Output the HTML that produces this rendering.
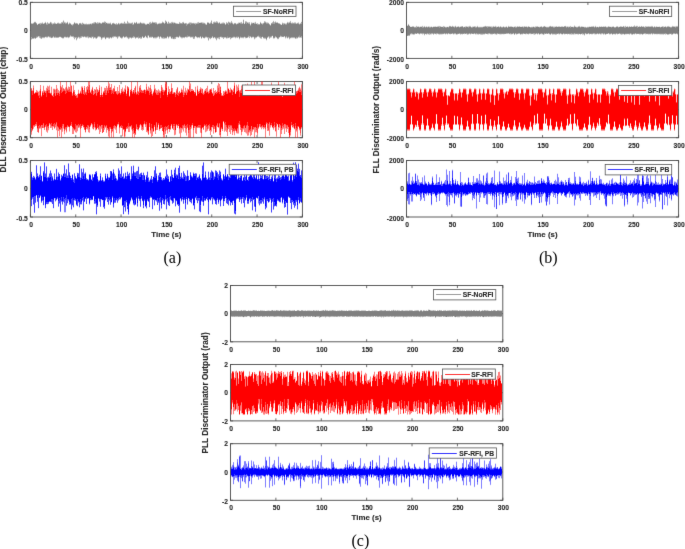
<!DOCTYPE html>
<html><head><meta charset="utf-8"><style>
html,body{margin:0;padding:0;background:#fff;}
body{width:685px;height:549px;overflow:hidden;}
svg{display:block;}
#w{width:685px;height:549px;will-change:transform;}
.t{font-family:"Liberation Sans", sans-serif;font-weight:bold;fill:#262626;stroke:#262626;stroke-width:0.1px;}
.cap{font-family:"Liberation Serif", serif;font-size:16px;fill:#000;}
</style></head><body>
<div id="w"><svg width="685" height="549" viewBox="0 0 685 549">
<defs><filter id="bl" x="0" y="0" width="685" height="549" filterUnits="userSpaceOnUse" color-interpolation-filters="sRGB"><feConvolveMatrix order="3" kernelMatrix="0.00524 0.06192 0.00524 0.06192 0.73137 0.06192 0.00524 0.06192 0.00524" divisor="1" edgeMode="duplicate"/></filter></defs>
<g filter="url(#bl)"><rect width="685" height="549" fill="#fff"/>
<rect x="30.4" y="2.35" width="272" height="56.05" fill="none" stroke="#4a4a4a" stroke-width="0.9"/>
<path d="M30.4 58.4v-2.6M30.4 2.35v2.6M75.73 58.4v-2.6M75.73 2.35v2.6M121.07 58.4v-2.6M121.07 2.35v2.6M166.4 58.4v-2.6M166.4 2.35v2.6M211.73 58.4v-2.6M211.73 2.35v2.6M257.07 58.4v-2.6M257.07 2.35v2.6M302.4 58.4v-2.6M302.4 2.35v2.6M30.4 2.35h2.6M302.4 2.35h-2.6M30.4 30.38h2.6M302.4 30.38h-2.6M30.4 58.4h2.6M302.4 58.4h-2.6" stroke="#4a4a4a" stroke-width="0.8" fill="none"/>
<path d="M31.5 39.35V39.85M36.5 22.85V23.35M37.5 24.35V24.85M42.5 37.85V38.35M43.5 23.35V23.85M43.5 37.85V38.35M44.5 37.85V38.35M45.5 36.85V37.35M46.5 37.35V37.85M47.5 37.35V37.85M49.5 22.85V23.35M51.5 37.85V38.35M55.5 22.85V23.35M58.5 22.35V22.85M59.5 36.85V37.35M60.5 36.85V37.35M66.5 37.35V37.85M68.5 37.85V38.35M69.5 22.35V22.85M73.5 37.35V37.85M75.5 22.85V23.35M76.5 22.85V23.35M77.5 38.35V38.85M79.5 38.35V38.85M80.5 37.85V38.35M81.5 23.35V23.85M82.5 22.35V22.85M86.5 23.35V23.85M86.5 37.35V37.85M90.5 23.35V23.85M91.5 23.35V23.85M92.5 36.85V37.35M93.5 22.35V22.85M98.5 22.35V22.85M99.5 36.85V37.35M106.5 37.85V38.35M109.5 22.85V23.35M110.5 22.35V22.85M110.5 37.35V37.85M113.5 37.35V37.85M115.5 36.85V37.35M119.5 23.35V23.85M119.5 36.35V36.85M121.5 38.35V38.85M122.5 22.85V23.35M123.5 22.85V23.35M124.5 21.35V21.85M127.5 37.85V38.35M128.5 38.85V39.35M131.5 38.35V38.85M139.5 37.85V38.35M140.5 21.85V22.35M144.5 22.85V23.35M146.5 23.85V24.35M146.5 37.35V37.85M147.5 23.35V23.85M149.5 37.35V37.85M150.5 37.35V37.85M152.5 21.35V21.85M152.5 36.85V37.35M157.5 37.35V37.85M160.5 22.85V23.35M161.5 22.85V23.35M162.5 21.35V21.85M162.5 38.35V38.85M164.5 22.85V23.35M168.5 21.35V21.85M169.5 36.85V37.35M170.5 36.85V37.35M171.5 21.85V22.35M173.5 38.85V39.35M174.5 38.85V39.35M179.5 21.85V22.35M179.5 36.35V36.85M184.5 37.85V38.35M185.5 22.85V23.35M185.5 36.85V37.35M186.5 22.85V23.35M186.5 37.35V37.85M188.5 22.85V23.35M190.5 37.35V37.85M191.5 22.35V22.85M192.5 22.85V23.35M194.5 22.85V23.35M195.5 22.85V23.35M196.5 22.85V23.35M197.5 37.85V38.35M198.5 21.85V22.35M199.5 37.85V38.35M200.5 22.35V22.85M201.5 38.35V38.85M203.5 22.35V22.85M203.5 37.85V38.35M205.5 23.35V23.85M205.5 37.35V37.85M207.5 37.85V38.35M208.5 40.35V40.85M210.5 38.85V39.35M211.5 37.85V38.35M212.5 23.35V23.85M214.5 21.35V21.85M217.5 21.35V21.85M218.5 38.35V38.85M219.5 21.85V22.35M220.5 23.35V23.85M220.5 36.85V37.35M221.5 37.35V37.85M222.5 22.35V22.85M225.5 37.35V37.85M226.5 38.35V38.85M228.5 21.35V21.85M228.5 37.85V38.35M229.5 21.85V22.35M231.5 20.85V21.35M232.5 22.35V22.85M233.5 37.35V37.85M234.5 22.85V23.35M235.5 22.85V23.35M236.5 37.35V37.85M237.5 37.85V38.35M238.5 22.35V22.85M239.5 22.35V22.85M241.5 37.85V38.35M242.5 37.85V38.35M243.5 19.35V19.85M246.5 37.85V38.35M248.5 36.85V37.35M249.5 37.85V38.35M250.5 24.35V24.85M251.5 37.85V38.35M254.5 22.35V22.85M256.5 23.35V23.85M256.5 37.35V37.85M259.5 37.35V37.85M265.5 21.35V21.85M268.5 36.85V37.35M269.5 23.85V24.35M270.5 24.85V25.35M271.5 22.85V23.35M273.5 38.35V38.85M276.5 37.35V37.85M277.5 38.85V39.35M278.5 38.85V39.35M280.5 23.85V24.35M281.5 36.85V37.35M282.5 22.35V22.85M283.5 36.85V37.35M284.5 22.85V23.35M285.5 23.35V23.85M288.5 37.35V37.85M291.5 37.85V38.35M292.5 37.85V38.35M293.5 37.85V38.35M294.5 37.85V38.35M296.5 38.35V38.85M300.5 22.85V23.35M300.5 37.35V37.85" stroke="#808080" stroke-opacity="0.25" fill="none"/>
<path d="M32.5 23.35V23.85M39.5 37.35V37.85M40.5 22.85V23.35M41.5 22.85V23.35M42.5 22.35V22.85M44.5 22.85V23.35M45.5 21.85V22.35M46.5 23.35V23.85M48.5 36.35V36.85M50.5 21.85V22.35M50.5 37.35V37.85M51.5 22.35V22.85M52.5 23.35V23.85M53.5 36.85V37.35M54.5 22.35V22.85M55.5 37.35V37.85M58.5 37.35V37.85M62.5 21.85V22.35M63.5 20.35V20.85M64.5 21.85V22.35M64.5 36.85V37.35M65.5 22.35V22.85M68.5 23.85V24.35M71.5 24.35V24.85M71.5 36.35V36.85M72.5 24.35V24.85M74.5 38.85V39.35M76.5 39.85V40.35M78.5 24.35V24.85M80.5 22.85V23.35M81.5 37.35V37.85M83.5 23.35V23.85M83.5 36.85V37.35M88.5 37.85V38.35M91.5 37.85V38.35M93.5 38.35V38.85M94.5 37.35V37.85M96.5 22.85V23.35M96.5 38.35V38.85M97.5 37.35V37.85M98.5 36.35V36.85M99.5 22.35V22.85M100.5 22.85V23.35M100.5 36.85V37.35M101.5 39.35V39.85M103.5 37.35V37.85M104.5 21.35V21.85M104.5 37.35V37.85M105.5 38.85V39.35M107.5 22.85V23.35M108.5 22.85V23.35M109.5 38.35V38.85M114.5 23.35V23.85M115.5 23.85V24.35M116.5 36.85V37.35M117.5 38.35V38.85M118.5 22.85V23.35M118.5 36.85V37.35M122.5 37.85V38.35M123.5 36.35V36.85M124.5 37.35V37.85M125.5 22.85V23.35M125.5 36.85V37.35M126.5 36.85V37.35M127.5 20.85V21.35M128.5 22.35V22.85M130.5 22.85V23.35M132.5 22.35V22.85M133.5 37.35V37.85M135.5 22.85V23.35M135.5 38.35V38.85M136.5 21.85V22.35M137.5 23.35V23.85M137.5 37.35V37.85M138.5 22.85V23.35M138.5 38.35V38.85M139.5 22.85V23.35M140.5 38.35V38.85M141.5 22.85V23.35M141.5 38.35V38.85M142.5 22.85V23.35M145.5 23.85V24.35M145.5 35.85V36.35M147.5 37.85V38.35M149.5 22.35V22.85M150.5 21.85V22.35M151.5 37.35V37.85M153.5 37.85V38.35M154.5 37.85V38.35M156.5 22.35V22.85M156.5 37.85V38.35M158.5 23.35V23.85M158.5 36.35V36.85M159.5 22.85V23.35M159.5 38.35V38.85M161.5 37.85V38.35M163.5 38.35V38.85M164.5 38.35V38.85M165.5 20.35V20.85M166.5 21.35V21.85M171.5 38.35V38.85M172.5 21.85V22.35M172.5 38.35V38.85M173.5 22.35V22.85M174.5 22.35V22.85M175.5 22.85V23.35M176.5 36.85V37.35M177.5 23.35V23.85M177.5 36.85V37.35M178.5 37.35V37.85M181.5 37.85V38.35M182.5 37.85V38.35M183.5 21.85V22.35M183.5 37.35V37.85M189.5 22.35V22.85M189.5 36.35V36.85M190.5 22.35V22.85M194.5 38.35V38.85M196.5 36.85V37.35M197.5 22.35V22.85M202.5 22.35V22.85M202.5 36.85V37.35M206.5 24.35V24.85M208.5 22.35V22.85M210.5 22.35V22.85M211.5 20.35V20.85M212.5 36.85V37.35M213.5 21.85V22.35M213.5 37.85V38.35M215.5 21.85V22.35M215.5 38.35V38.85M216.5 39.85V40.35M218.5 22.85V23.35M219.5 38.85V39.35M221.5 22.85V23.35M222.5 37.35V37.85M223.5 22.35V22.85M224.5 37.35V37.85M227.5 22.85V23.35M227.5 37.85V38.35M229.5 37.35V37.85M230.5 22.35V22.85M230.5 38.85V39.35M231.5 37.85V38.35M235.5 37.85V38.35M237.5 23.35V23.85M238.5 36.85V37.35M239.5 38.85V39.35M240.5 22.35V22.85M240.5 37.35V37.85M241.5 21.85V22.35M243.5 37.85V38.35M244.5 36.85V37.35M245.5 37.85V38.35M246.5 21.35V21.85M248.5 22.35V22.85M251.5 22.35V22.85M253.5 36.85V37.35M254.5 22.85V23.35M254.5 38.85V39.35M255.5 21.85V22.35M255.5 37.85V38.35M257.5 36.35V36.85M258.5 23.85V24.35M258.5 36.35V36.85M260.5 21.85V22.35M261.5 38.35V38.85M262.5 23.35V23.85M263.5 22.85V23.35M264.5 38.35V38.85M265.5 38.35V38.85M266.5 22.35V22.85M266.5 39.85V40.35M267.5 22.35V22.85M269.5 38.35V38.85M270.5 37.35V37.85M273.5 20.85V21.35M275.5 21.35V21.85M275.5 36.85V37.35M276.5 22.35V22.85M280.5 36.35V36.85M286.5 23.35V23.85M287.5 21.85V22.35M288.5 22.35V22.85M289.5 21.85V22.35M289.5 38.85V39.35M290.5 20.85V21.35M290.5 37.85V38.35M292.5 22.35V22.85M294.5 22.35V22.85M295.5 22.35V22.85M296.5 23.35V23.85M298.5 22.35V22.85M299.5 37.35V37.85M301.5 37.35V37.85" stroke="#808080" stroke-opacity="0.5" fill="none"/>
<path d="M31.5 23.35V23.85M31.5 37.35V39.35M32.5 38.35V38.85M33.5 22.85V23.35M33.5 38.35V38.85M34.5 21.85V22.35M34.5 37.85V38.35M35.5 21.85V22.35M35.5 38.35V38.85M36.5 36.85V37.85M37.5 36.85V37.35M39.5 23.35V23.85M39.5 36.35V37.35M40.5 23.35V24.35M40.5 36.85V38.35M41.5 23.35V23.85M41.5 37.85V38.85M42.5 22.85V23.35M42.5 37.35V37.85M43.5 37.35V37.85M44.5 37.35V37.85M45.5 22.35V22.85M46.5 23.85V24.35M46.5 36.85V37.35M47.5 22.35V24.35M47.5 36.85V37.35M48.5 23.35V23.85M49.5 23.35V23.85M49.5 36.85V37.35M50.5 36.85V37.35M51.5 22.85V23.85M52.5 23.85V24.35M52.5 37.35V37.85M53.5 23.35V23.85M53.5 36.35V36.85M54.5 22.85V23.85M54.5 37.35V37.85M55.5 23.35V23.85M55.5 36.85V37.35M56.5 37.35V37.85M57.5 22.85V23.35M57.5 37.35V37.85M58.5 22.85V23.35M59.5 23.35V23.85M60.5 23.35V23.85M61.5 22.35V23.35M61.5 37.35V37.85M62.5 22.35V22.85M62.5 37.85V38.35M63.5 20.85V23.35M63.5 37.85V38.35M64.5 22.35V22.85M65.5 22.85V23.85M65.5 36.85V37.35M66.5 22.85V23.35M67.5 21.85V22.85M67.5 36.85V37.35M68.5 37.35V37.85M69.5 22.85V23.35M69.5 36.85V37.35M70.5 23.35V23.85M70.5 35.35V36.35M72.5 24.85V25.35M72.5 36.35V36.85M73.5 23.85V24.35M73.5 36.35V37.35M74.5 22.35V22.85M74.5 37.35V38.85M75.5 23.35V23.85M75.5 37.35V37.85M76.5 37.35V39.85M77.5 23.35V23.85M77.5 37.85V38.35M78.5 36.85V37.35M79.5 37.35V38.35M80.5 36.85V37.85M81.5 23.85V24.35M81.5 36.35V37.35M82.5 22.85V24.35M82.5 36.35V36.85M84.5 23.85V24.35M84.5 36.35V36.85M85.5 23.85V24.35M85.5 36.85V37.35M86.5 23.85V24.35M86.5 36.85V37.35M87.5 36.35V37.35M88.5 23.85V24.35M88.5 36.85V37.85M89.5 23.85V24.35M90.5 37.35V37.85M91.5 23.85V24.35M91.5 36.85V37.85M93.5 22.85V23.85M93.5 36.85V38.35M94.5 22.35V23.35M95.5 37.35V38.35M97.5 22.35V23.85M97.5 36.85V37.35M98.5 22.85V23.85M99.5 36.35V36.85M101.5 23.35V23.85M101.5 38.35V39.35M102.5 22.35V22.85M102.5 37.35V38.35M103.5 22.35V22.85M104.5 21.85V22.85M104.5 36.85V37.35M105.5 21.85V23.35M106.5 37.35V37.85M107.5 23.35V23.85M107.5 37.35V37.85M108.5 23.35V23.85M108.5 37.35V38.35M109.5 23.35V23.85M109.5 37.85V38.35M110.5 22.85V23.85M111.5 24.35V24.85M111.5 37.85V38.35M112.5 36.85V37.35M113.5 22.85V23.35M113.5 36.35V37.35M114.5 36.35V36.85M115.5 36.35V36.85M116.5 23.35V24.35M117.5 36.85V38.35M118.5 36.35V36.85M119.5 23.85V24.35M120.5 23.35V23.85M120.5 37.35V37.85M121.5 22.85V23.35M121.5 37.85V38.35M122.5 23.35V23.85M122.5 37.35V37.85M123.5 23.35V23.85M124.5 21.85V23.85M125.5 23.35V23.85M126.5 23.35V23.85M126.5 36.35V36.85M127.5 21.35V23.85M127.5 37.35V37.85M128.5 22.85V23.35M128.5 37.85V38.85M129.5 22.85V23.85M129.5 37.35V38.35M130.5 23.35V23.85M130.5 37.35V37.85M131.5 22.85V23.85M131.5 37.85V38.35M132.5 22.85V24.35M132.5 37.35V37.85M133.5 36.35V37.35M134.5 22.35V22.85M134.5 36.85V37.35M135.5 37.85V38.35M136.5 37.35V37.85M138.5 23.35V23.85M138.5 36.85V38.35M139.5 23.35V23.85M140.5 22.35V22.85M140.5 37.35V38.35M141.5 37.85V38.35M142.5 23.35V23.85M142.5 36.35V36.85M143.5 22.85V23.85M144.5 23.35V23.85M145.5 24.35V24.85M146.5 24.35V24.85M147.5 35.85V37.85M148.5 35.35V35.85M149.5 22.85V24.35M150.5 22.35V23.85M150.5 36.85V37.35M151.5 22.85V23.85M151.5 36.85V37.35M152.5 21.85V22.35M153.5 22.35V22.85M154.5 22.35V22.85M154.5 37.35V37.85M155.5 22.35V23.35M155.5 37.35V38.35M156.5 22.85V23.35M156.5 37.35V37.85M157.5 23.85V24.35M157.5 36.85V37.35M159.5 23.35V23.85M159.5 37.35V38.35M160.5 23.35V23.85M160.5 36.35V36.85M161.5 37.35V37.85M162.5 21.85V22.85M162.5 37.85V38.35M163.5 22.35V22.85M163.5 37.35V38.35M164.5 23.35V23.85M164.5 37.85V38.35M165.5 20.85V22.85M165.5 37.85V38.35M166.5 37.85V38.35M167.5 23.35V23.85M167.5 36.35V36.85M168.5 21.85V23.35M168.5 37.35V38.35M169.5 22.85V23.85M169.5 36.35V36.85M170.5 22.85V23.35M170.5 36.35V36.85M171.5 22.35V23.35M172.5 22.35V22.85M172.5 37.35V38.35M173.5 22.85V23.35M174.5 37.85V38.85M175.5 37.35V38.85M176.5 23.35V23.85M179.5 22.35V23.35M179.5 35.85V36.35M180.5 22.85V23.35M180.5 36.85V37.35M181.5 37.35V37.85M182.5 22.35V23.35M182.5 37.35V37.85M183.5 22.35V22.85M184.5 23.35V23.85M184.5 37.35V37.85M186.5 23.35V25.35M186.5 36.85V37.35M187.5 23.85V24.35M187.5 35.85V37.35M188.5 23.35V23.85M188.5 36.35V36.85M189.5 22.85V23.35M190.5 22.85V24.35M190.5 36.85V37.35M191.5 22.85V23.35M191.5 36.85V37.35M192.5 36.85V37.35M193.5 22.85V23.35M193.5 36.85V38.85M194.5 23.35V23.85M194.5 37.35V38.35M195.5 23.35V24.35M196.5 23.35V23.85M197.5 22.85V23.85M197.5 37.35V37.85M198.5 22.35V23.35M199.5 37.35V37.85M200.5 36.35V36.85M201.5 22.35V22.85M202.5 22.85V23.35M203.5 22.85V23.35M204.5 22.85V23.35M204.5 37.85V38.35M205.5 23.85V24.35M205.5 36.85V37.35M206.5 36.85V37.35M207.5 22.35V22.85M207.5 37.35V37.85M208.5 37.35V40.35M209.5 23.35V23.85M209.5 37.85V38.35M210.5 22.85V23.35M210.5 37.85V38.85M211.5 20.85V22.35M212.5 36.35V36.85M213.5 22.35V23.35M214.5 21.85V22.85M215.5 22.35V22.85M215.5 37.85V38.35M216.5 21.35V22.85M216.5 37.85V39.85M217.5 21.85V22.85M217.5 37.85V38.35M218.5 37.35V38.35M219.5 22.35V22.85M219.5 37.35V38.85M221.5 23.35V23.85M221.5 36.85V37.35M222.5 22.85V23.85M223.5 22.85V23.35M223.5 37.35V38.85M224.5 22.85V23.35M225.5 24.35V24.85M226.5 22.35V23.35M226.5 37.85V38.35M227.5 36.85V37.85M228.5 21.85V24.35M229.5 22.35V22.85M230.5 22.85V23.35M230.5 37.35V38.85M231.5 21.35V22.85M232.5 22.85V23.85M232.5 37.35V37.85M233.5 23.85V24.35M233.5 36.85V37.35M234.5 36.85V37.35M235.5 37.35V37.85M236.5 23.85V24.35M236.5 36.85V37.35M237.5 36.85V37.85M238.5 22.85V23.85M239.5 38.35V38.85M240.5 22.85V23.35M240.5 36.85V37.35M241.5 22.35V23.35M241.5 37.35V37.85M242.5 23.35V23.85M242.5 37.35V37.85M243.5 19.85V22.35M243.5 37.35V37.85M245.5 21.35V22.35M245.5 37.35V37.85M246.5 21.85V23.35M247.5 22.35V22.85M247.5 37.35V37.85M248.5 22.85V23.85M248.5 35.85V36.85M249.5 22.35V23.85M249.5 36.35V37.85M250.5 24.85V25.35M250.5 36.35V36.85M251.5 22.85V23.85M251.5 37.35V37.85M252.5 22.85V23.35M252.5 36.85V37.35M254.5 23.35V23.85M254.5 37.85V38.85M255.5 22.35V23.35M255.5 37.35V37.85M257.5 23.35V24.35M258.5 35.85V36.35M259.5 36.85V37.35M260.5 22.35V22.85M260.5 36.85V38.35M261.5 23.35V23.85M261.5 37.35V38.35M262.5 23.85V24.35M263.5 37.85V38.35M264.5 21.35V22.35M264.5 37.85V38.35M265.5 21.85V22.35M265.5 37.85V38.35M266.5 22.85V23.35M266.5 39.35V39.85M267.5 22.85V23.35M267.5 37.35V37.85M268.5 22.85V23.35M268.5 36.35V36.85M269.5 36.85V38.35M270.5 36.85V37.35M271.5 36.35V37.35M272.5 22.35V23.35M273.5 21.35V23.35M273.5 37.85V38.35M274.5 22.35V23.85M274.5 37.85V38.35M275.5 21.85V22.35M275.5 36.35V36.85M277.5 22.35V22.85M277.5 38.35V38.85M278.5 37.85V38.85M279.5 23.35V23.85M280.5 35.85V36.35M281.5 36.35V36.85M282.5 22.85V23.85M283.5 23.35V24.35M284.5 23.35V23.85M285.5 23.85V24.35M285.5 37.35V38.35M286.5 23.85V24.35M286.5 36.35V37.35M287.5 22.35V22.85M287.5 37.85V38.35M288.5 22.85V23.35M288.5 36.85V37.35M289.5 22.35V22.85M289.5 37.85V38.85M290.5 21.35V22.85M291.5 22.85V23.85M291.5 37.35V37.85M292.5 22.85V23.35M292.5 37.35V37.85M293.5 22.85V23.35M293.5 37.35V37.85M294.5 22.85V23.35M294.5 37.35V37.85M295.5 22.85V23.35M295.5 38.35V38.85M296.5 37.35V38.35M297.5 22.85V23.35M297.5 37.85V38.35M298.5 22.85V23.85M298.5 36.85V37.35M299.5 23.85V24.35M299.5 35.85V37.35M300.5 23.35V23.85M301.5 21.85V23.85M301.5 36.35V37.35" stroke="#808080" stroke-opacity="0.75" fill="none"/>
<path d="M31.5 23.85V37.35M32.5 23.85V38.35M33.5 23.35V38.35M34.5 22.35V37.85M35.5 22.35V38.35M36.5 23.35V36.85M37.5 24.85V36.85M38.5 23.85V36.35M39.5 23.85V36.35M40.5 24.35V36.85M41.5 23.85V37.85M42.5 23.35V37.35M43.5 23.85V37.35M44.5 23.35V37.35M45.5 22.85V36.85M46.5 24.35V36.85M47.5 24.35V36.85M48.5 23.85V36.35M49.5 23.85V36.85M50.5 22.35V36.85M51.5 23.85V37.85M52.5 24.35V37.35M53.5 23.85V36.35M54.5 23.85V37.35M55.5 23.85V36.85M56.5 23.85V37.35M57.5 23.35V37.35M58.5 23.35V37.35M59.5 23.85V36.85M60.5 23.85V36.85M61.5 23.35V37.35M62.5 22.85V37.85M63.5 23.35V37.85M64.5 22.85V36.85M65.5 23.85V36.85M66.5 23.35V37.35M67.5 22.85V36.85M68.5 24.35V37.35M69.5 23.35V36.85M70.5 23.85V35.35M71.5 24.85V36.35M72.5 25.35V36.35M73.5 24.35V36.35M74.5 22.85V37.35M75.5 23.85V37.35M76.5 23.35V37.35M77.5 23.85V37.85M78.5 24.85V36.85M79.5 23.35V37.35M80.5 23.35V36.85M81.5 24.35V36.35M82.5 24.35V36.35M83.5 23.85V36.85M84.5 24.35V36.35M85.5 24.35V36.85M86.5 24.35V36.85M87.5 24.35V36.35M88.5 24.35V36.85M89.5 24.35V37.35M90.5 23.85V37.35M91.5 24.35V36.85M92.5 23.35V36.85M93.5 23.85V36.85M94.5 23.35V37.35M95.5 22.35V37.35M96.5 23.35V38.35M97.5 23.85V36.85M98.5 23.85V36.35M99.5 22.85V36.35M100.5 23.35V36.85M101.5 23.85V38.35M102.5 22.85V37.35M103.5 22.85V37.35M104.5 22.85V36.85M105.5 23.35V38.85M106.5 22.85V37.35M107.5 23.85V37.35M108.5 23.85V37.35M109.5 23.85V37.85M110.5 23.85V37.35M111.5 24.85V37.85M112.5 23.35V36.85M113.5 23.35V36.35M114.5 23.85V36.35M115.5 24.35V36.35M116.5 24.35V36.85M117.5 24.35V36.85M118.5 23.35V36.35M119.5 24.35V36.35M120.5 23.85V37.35M121.5 23.35V37.85M122.5 23.85V37.35M123.5 23.85V36.35M124.5 23.85V37.35M125.5 23.85V36.85M126.5 23.85V36.35M127.5 23.85V37.35M128.5 23.35V37.85M129.5 23.85V37.35M130.5 23.85V37.35M131.5 23.85V37.85M132.5 24.35V37.35M133.5 24.35V36.35M134.5 22.85V36.85M135.5 23.35V37.85M136.5 22.35V37.35M137.5 23.85V37.35M138.5 23.85V36.85M139.5 23.85V37.85M140.5 22.85V37.35M141.5 23.35V37.85M142.5 23.85V36.35M143.5 23.85V37.85M144.5 23.85V37.35M145.5 24.85V35.85M146.5 24.85V37.35M147.5 23.85V35.85M148.5 23.85V35.35M149.5 24.35V37.35M150.5 23.85V36.85M151.5 23.85V36.85M152.5 22.35V36.85M153.5 22.85V37.85M154.5 22.85V37.35M155.5 23.35V37.35M156.5 23.35V37.35M157.5 24.35V36.85M158.5 23.85V36.35M159.5 23.85V37.35M160.5 23.85V36.35M161.5 23.35V37.35M162.5 22.85V37.85M163.5 22.85V37.35M164.5 23.85V37.85M165.5 22.85V37.85M166.5 21.85V37.85M167.5 23.85V36.35M168.5 23.35V37.35M169.5 23.85V36.35M170.5 23.35V36.35M171.5 23.35V38.35M172.5 22.85V37.35M173.5 23.35V38.85M174.5 22.85V37.85M175.5 23.35V37.35M176.5 23.85V36.85M177.5 23.85V36.85M178.5 23.85V37.35M179.5 23.35V35.85M180.5 23.35V36.85M181.5 23.35V37.35M182.5 23.35V37.35M183.5 22.85V37.35M184.5 23.85V37.35M185.5 23.35V36.85M186.5 25.35V36.85M187.5 24.35V35.85M188.5 23.85V36.35M189.5 23.35V36.35M190.5 24.35V36.85M191.5 23.35V36.85M192.5 23.35V36.85M193.5 23.35V36.85M194.5 23.85V37.35M195.5 24.35V36.35M196.5 23.85V36.85M197.5 23.85V37.35M198.5 23.35V37.35M199.5 22.85V37.35M200.5 22.85V36.35M201.5 22.85V38.35M202.5 23.35V36.85M203.5 23.35V37.85M204.5 23.35V37.85M205.5 24.35V36.85M206.5 24.85V36.85M207.5 22.85V37.35M208.5 22.85V37.35M209.5 23.85V37.85M210.5 23.35V37.85M211.5 22.35V37.85M212.5 23.85V36.35M213.5 23.35V37.85M214.5 22.85V37.35M215.5 22.85V37.85M216.5 22.85V37.85M217.5 22.85V37.85M218.5 23.35V37.35M219.5 22.85V37.35M220.5 23.85V36.85M221.5 23.85V36.85M222.5 23.85V37.35M223.5 23.35V37.35M224.5 23.35V37.35M225.5 24.85V37.35M226.5 23.35V37.85M227.5 23.35V36.85M228.5 24.35V37.85M229.5 22.85V37.35M230.5 23.35V37.35M231.5 22.85V37.85M232.5 23.85V37.35M233.5 24.35V36.85M234.5 23.35V36.85M235.5 23.35V37.35M236.5 24.35V36.85M237.5 23.85V36.85M238.5 23.85V36.85M239.5 22.85V38.35M240.5 23.35V36.85M241.5 23.35V37.35M242.5 23.85V37.35M243.5 22.35V37.35M244.5 23.85V36.85M245.5 22.35V37.35M246.5 23.35V37.85M247.5 22.85V37.35M248.5 23.85V35.85M249.5 23.85V36.35M250.5 25.35V36.35M251.5 23.85V37.35M252.5 23.35V36.85M253.5 22.85V36.85M254.5 23.85V37.85M255.5 23.35V37.35M256.5 23.85V37.35M257.5 24.35V36.35M258.5 24.35V35.85M259.5 24.35V36.85M260.5 22.85V36.85M261.5 23.85V37.35M262.5 24.35V36.85M263.5 23.35V37.85M264.5 22.35V37.85M265.5 22.35V37.85M266.5 23.35V39.35M267.5 23.35V37.35M268.5 23.35V36.35M269.5 24.35V36.85M270.5 25.35V36.85M271.5 23.35V36.35M272.5 23.35V35.85M273.5 23.35V37.85M274.5 23.85V37.85M275.5 22.35V36.35M276.5 22.85V37.35M277.5 22.85V38.35M278.5 23.35V37.85M279.5 23.85V37.35M280.5 24.35V35.85M281.5 24.85V36.35M282.5 23.85V36.85M283.5 24.35V36.85M284.5 23.85V36.35M285.5 24.35V37.35M286.5 24.35V36.35M287.5 22.85V37.85M288.5 23.35V36.85M289.5 22.85V37.85M290.5 22.85V37.85M291.5 23.85V37.35M292.5 23.35V37.35M293.5 23.35V37.35M294.5 23.35V37.35M295.5 23.35V38.35M296.5 23.85V37.35M297.5 23.35V37.85M298.5 23.85V36.85M299.5 24.35V35.85M300.5 23.85V37.35M301.5 23.85V36.35" stroke="#808080" stroke-opacity="1.0" fill="none"/>
<text x="27.8" y="4.95" font-size="6.7" text-anchor="end" class="t">0.5</text>
<text x="27.8" y="32.98" font-size="6.7" text-anchor="end" class="t">0</text>
<text x="27.8" y="61.9" font-size="6.7" text-anchor="end" class="t">-0.5</text>
<text x="31" y="68.5" font-size="6.7" text-anchor="middle" class="t">0</text>
<text x="76.33" y="68.5" font-size="6.7" text-anchor="middle" class="t">50</text>
<text x="121.67" y="68.5" font-size="6.7" text-anchor="middle" class="t">100</text>
<text x="167" y="68.5" font-size="6.7" text-anchor="middle" class="t">150</text>
<text x="212.33" y="68.5" font-size="6.7" text-anchor="middle" class="t">200</text>
<text x="257.67" y="68.5" font-size="6.7" text-anchor="middle" class="t">250</text>
<text x="303" y="68.5" font-size="6.7" text-anchor="middle" class="t">300</text>
<rect x="233.5" y="6.2" width="62.5" height="10.4" fill="#fff" stroke="#555555" stroke-width="0.8"/>
<path d="M236.1 11.5H261.1" stroke="#808080" stroke-width="0.8"/>
<text x="293.7" y="14.1" font-size="6.75" text-anchor="end" class="t">SF-NoRFI</text>
<rect x="30.4" y="81.5" width="272" height="56.2" fill="none" stroke="#4a4a4a" stroke-width="0.9"/>
<path d="M30.4 137.7v-2.6M30.4 81.5v2.6M75.73 137.7v-2.6M75.73 81.5v2.6M121.07 137.7v-2.6M121.07 81.5v2.6M166.4 137.7v-2.6M166.4 81.5v2.6M211.73 137.7v-2.6M211.73 81.5v2.6M257.07 137.7v-2.6M257.07 81.5v2.6M302.4 137.7v-2.6M302.4 81.5v2.6M30.4 81.5h2.6M302.4 81.5h-2.6M30.4 109.6h2.6M302.4 109.6h-2.6M30.4 137.7h2.6M302.4 137.7h-2.6" stroke="#4a4a4a" stroke-width="0.8" fill="none"/>
<path d="M31.5 134.5V135M32.5 90V90.5M33.5 128.5V129M36.5 125.5V126M37.5 90.5V91M38.5 91.5V92M38.5 132.5V133M39.5 90.5V91M41.5 136V136.5M43.5 85.5V86M45.5 90.5V91M46.5 87.5V88M46.5 131.5V132M47.5 85.5V86M47.5 132.5V133M48.5 130V130.5M50.5 92.5V93M51.5 86.5V87M51.5 127.5V128M53.5 88.5V89M53.5 126.5V127M54.5 88.5V89M55.5 127V127.5M56.5 130V130.5M57.5 137.5V138M59.5 91V91.5M59.5 136V136.5M61.5 86.5V87M61.5 137.5V138M62.5 131.5V132M64.5 134V134.5M65.5 129.5V130M72.5 93V93.5M73.5 85V85.5M74.5 130.5V131M75.5 132V132.5M76.5 132.5V133M77.5 131V131.5M78.5 89.5V90M80.5 90.5V91M85.5 91.5V92M88.5 132V132.5M89.5 132.5V133M90.5 91.5V92M90.5 126.5V127M92.5 86.5V87M97.5 89V89.5M98.5 90V90.5M98.5 129.5V130M99.5 85V85.5M101.5 86.5V87M101.5 128.5V129M104.5 87.5V88M104.5 129.5V130M106.5 132.5V133M107.5 87.5V88M108.5 81.5V82M109.5 137.5V138M112.5 131.5V132M114.5 85.5V86M115.5 129.5V130M122.5 136V136.5M123.5 90.5V91M125.5 85V85.5M125.5 132.5V136.5M127.5 128.5V129M129.5 95.5V96M130.5 89.5V90M130.5 127V127.5M132.5 137.5V138M134.5 137.5V138M135.5 85.5V86M138.5 91V91.5M139.5 86V86.5M139.5 127.5V128M140.5 125V125.5M141.5 89.5V90M142.5 130.5V131M144.5 89V89.5M144.5 124V124.5M146.5 83.5V84M147.5 89V89.5M148.5 134.5V135M149.5 87.5V88M151.5 89V89.5M152.5 93.5V94M153.5 91V91.5M154.5 84.5V85M158.5 89V89.5M159.5 130.5V131M160.5 91V91.5M160.5 128.5V129M163.5 89.5V90M163.5 137.5V138M164.5 137.5V138M166.5 82V82.5M166.5 130V130.5M167.5 94.5V95M168.5 86V86.5M171.5 83V83.5M173.5 92V92.5M174.5 135V135.5M175.5 92.5V93M175.5 134.5V135M176.5 89V89.5M177.5 87V87.5M180.5 137.5V138M181.5 132.5V133M182.5 89.5V90M183.5 85.5V86M185.5 87.5V88M185.5 132.5V133M188.5 137.5V138M189.5 137.5V138M190.5 137.5V138M192.5 125V125.5M193.5 137.5V138M195.5 86.5V87M195.5 133V133.5M197.5 85.5V86M198.5 91V91.5M198.5 127.5V128M199.5 89V91M200.5 87V87.5M200.5 132.5V133M201.5 88V88.5M201.5 137.5V138M202.5 88.5V89M203.5 92.5V93M205.5 132V132.5M207.5 85.5V86M207.5 130.5V131M208.5 128.5V129M211.5 88V88.5M212.5 92.5V93M213.5 133.5V134M215.5 132.5V133M216.5 91.5V92M218.5 127.5V128M219.5 135V135.5M220.5 137V137.5M221.5 129V129.5M222.5 95V95.5M224.5 131.5V132M225.5 130.5V131M226.5 90.5V91M230.5 87.5V88M232.5 90V90.5M233.5 131V132.5M234.5 135V135.5M236.5 84.5V85M236.5 133V133.5M241.5 135V135.5M242.5 86V86.5M242.5 131.5V132M247.5 135.5V136M250.5 136V136.5M251.5 81.5V82M252.5 131.5V132M253.5 89.5V90M254.5 137.5V138M255.5 132V132.5M256.5 90V90.5M256.5 132V132.5M257.5 135V135.5M259.5 88V88.5M261.5 129V129.5M262.5 127.5V128M263.5 129V129.5M264.5 93V93.5M264.5 128V128.5M265.5 137.5V138M266.5 93V93.5M266.5 124V124.5M267.5 85.5V86M268.5 130.5V131M269.5 135.5V136M272.5 88V88.5M272.5 127.5V128M273.5 129.5V130M275.5 90V90.5M276.5 91V91.5M276.5 136.5V137M279.5 86V86.5M279.5 127.5V128M280.5 137.5V138M283.5 85V85.5M283.5 128.5V129M284.5 82.5V83M286.5 86V86.5M287.5 84.5V85M288.5 89.5V90M289.5 88.5V89M292.5 91V91.5M293.5 127.5V128M294.5 129V129.5M295.5 92V92.5M295.5 137.5V138M297.5 137.5V138M298.5 88V88.5M299.5 86.5V87M299.5 130V130.5M300.5 135.5V136M301.5 84V84.5" stroke="#ff0000" stroke-opacity="0.25" fill="none"/>
<path d="M31.5 88V88.5M31.5 132.5V134.5M32.5 90.5V91M33.5 85.5V88M33.5 126V128.5M34.5 93V93.5M34.5 126.5V127M35.5 92V92.5M35.5 124.5V126M36.5 90V92M36.5 124.5V125.5M37.5 91V92M37.5 129V132M38.5 92.5V95M39.5 91V95M40.5 85V88.5M40.5 127.5V128.5M41.5 95.5V96M41.5 125.5V136M42.5 91V92M43.5 86V93M43.5 124.5V128M44.5 128.5V130M45.5 91V92.5M45.5 126V127M46.5 88V90.5M46.5 130V131.5M47.5 86V88.5M47.5 127V132.5M48.5 86.5V90M48.5 128.5V130M49.5 85.5V90M49.5 123.5V124.5M50.5 125V128M51.5 87V92.5M51.5 126V127.5M52.5 126.5V130M53.5 89V94M54.5 89V89.5M55.5 89.5V95.5M55.5 125.5V127M56.5 85V89M56.5 123V130M57.5 88.5V92.5M57.5 127V137.5M58.5 90V92.5M58.5 128V131M59.5 91.5V94M59.5 130V136M60.5 81.5V86M60.5 129V130M61.5 87V87.5M61.5 129.5V137.5M62.5 85V91.5M62.5 126V131.5M63.5 88V88.5M63.5 124.5V128.5M64.5 89V90M64.5 131.5V134M65.5 87.5V91M65.5 128.5V129.5M66.5 81.5V86.5M66.5 131.5V132.5M67.5 88.5V89.5M67.5 126V127.5M68.5 86.5V90M69.5 87V88.5M69.5 127.5V131.5M70.5 81.5V90.5M71.5 85.5V86M71.5 124.5V126M72.5 93.5V95M72.5 127.5V134M73.5 85.5V91M73.5 129V134M74.5 90V92M74.5 130V130.5M75.5 94V95.5M75.5 129.5V132M76.5 95V95.5M76.5 126.5V132.5M77.5 94V96.5M77.5 126V131M78.5 90V93M78.5 127V128M79.5 126V127.5M80.5 91V92M80.5 129.5V137.5M81.5 86.5V93M81.5 126.5V128M82.5 86.5V87.5M82.5 125V126M83.5 90V93.5M83.5 127V127.5M84.5 86V88M84.5 129V130M85.5 92V92.5M85.5 132V132.5M86.5 87V92M86.5 127V129M87.5 86V89M87.5 128V129.5M88.5 81.5V87M88.5 126V132M89.5 81.5V85M89.5 129.5V132.5M90.5 92V92.5M90.5 126V126.5M91.5 89.5V90.5M91.5 123.5V124.5M92.5 87V88M92.5 125.5V128.5M93.5 91V94.5M93.5 129V129.5M94.5 89V93.5M94.5 124V127.5M95.5 89.5V90M95.5 128.5V130.5M96.5 87V95M96.5 129V130M98.5 90.5V91.5M98.5 129V129.5M99.5 85.5V87.5M99.5 126V134M100.5 127V132M101.5 87V92.5M101.5 125V128.5M102.5 94.5V95M104.5 88V90.5M104.5 126.5V129.5M105.5 88V89.5M106.5 86V92.5M106.5 126V132.5M107.5 88V90M107.5 128.5V130M108.5 82V85.5M108.5 131.5V136.5M109.5 83.5V88M109.5 131V137.5M110.5 87V88M110.5 128V129M111.5 84V90M111.5 133V137.5M112.5 89.5V91M112.5 131V131.5M113.5 88V88.5M113.5 128V137.5M114.5 86V88.5M114.5 126.5V128.5M115.5 126.5V129.5M116.5 91V93M116.5 128.5V133M117.5 87V94M117.5 124.5V125.5M118.5 91V93M118.5 124V124.5M119.5 85V91.5M119.5 128.5V133.5M120.5 93V94M120.5 126.5V127.5M121.5 89V90.5M122.5 87.5V91.5M122.5 128.5V136M123.5 91V92M123.5 129.5V130M124.5 88.5V92M124.5 136.5V137.5M125.5 85.5V89M125.5 132V132.5M126.5 93.5V94M126.5 128.5V129M127.5 86V86.5M128.5 87V88M128.5 127V132M129.5 127V132M130.5 126.5V127M131.5 81.5V88.5M131.5 126.5V129.5M132.5 91.5V93M132.5 131.5V137.5M133.5 130V134M134.5 88V93M134.5 133.5V137.5M135.5 86V86.5M135.5 134V135M136.5 92.5V94M136.5 125.5V129M137.5 81.5V91M137.5 129V130M138.5 91.5V92M138.5 129.5V130.5M139.5 86.5V88M140.5 85V88M140.5 124.5V125M141.5 126.5V130M142.5 90.5V91M142.5 129V130.5M143.5 90V91M143.5 125V130M144.5 89.5V90M144.5 123.5V124M145.5 90V91.5M145.5 125V127M146.5 84V86.5M146.5 124.5V132M147.5 89.5V90M147.5 131V132.5M148.5 86.5V90.5M149.5 88V92.5M149.5 123.5V127M150.5 85V87.5M150.5 131.5V133.5M151.5 89.5V91M151.5 128.5V137M152.5 94V94.5M152.5 129.5V136M153.5 91.5V92M153.5 131V132M154.5 85V89M154.5 125.5V127M155.5 88.5V91.5M155.5 131V134M156.5 90V93.5M156.5 123.5V130M157.5 90.5V93M157.5 128.5V130M158.5 89.5V91.5M158.5 124.5V125M159.5 90.5V92.5M159.5 129.5V130.5M160.5 91.5V93M161.5 85V86.5M162.5 87.5V90M163.5 90V91.5M163.5 135V137.5M164.5 129.5V137.5M165.5 81.5V83.5M165.5 131.5V134M166.5 82.5V84M166.5 127.5V130M167.5 130V133.5M168.5 86.5V91.5M169.5 89V92.5M169.5 129.5V132M170.5 91.5V92M171.5 83.5V88M171.5 124.5V125.5M172.5 88V93.5M172.5 128.5V129M173.5 92.5V93M173.5 126V130M174.5 126V135M175.5 93V94.5M175.5 130.5V134.5M176.5 89.5V90.5M176.5 124.5V125.5M177.5 126V128M178.5 92.5V93M179.5 91V91.5M179.5 129V133.5M180.5 92.5V93M180.5 128V137.5M181.5 88.5V90M181.5 128.5V132.5M182.5 90V91.5M182.5 128.5V129.5M183.5 86V95M183.5 126V131.5M184.5 91.5V92.5M184.5 125V128M185.5 88V92.5M185.5 128.5V132.5M186.5 90.5V95M186.5 129V135.5M187.5 88.5V92M187.5 127.5V128M188.5 89V89.5M188.5 133V137.5M189.5 81.5V86M189.5 130V137.5M190.5 83.5V91.5M190.5 129.5V137.5M191.5 89V90.5M191.5 126.5V128.5M192.5 89V90.5M193.5 90V90.5M193.5 130.5V137.5M194.5 126.5V128M195.5 87V92M195.5 126.5V133M196.5 128V134M197.5 86V88.5M197.5 127V128M198.5 91.5V92M199.5 127V128M200.5 87.5V89M200.5 128.5V132.5M201.5 88.5V93M201.5 133.5V137.5M203.5 93V94M203.5 129V130M204.5 90.5V91.5M204.5 125.5V126M205.5 89V90.5M205.5 126V132M206.5 88V92M206.5 127V131.5M207.5 86V91.5M207.5 129V130.5M208.5 91.5V92.5M208.5 125.5V128.5M209.5 89.5V91M209.5 126.5V131M210.5 130V135M211.5 88.5V89.5M211.5 127V131.5M212.5 127V127.5M213.5 88V95.5M213.5 129V133.5M214.5 91V93.5M214.5 127.5V129M215.5 90V92.5M216.5 126V132M217.5 85.5V90.5M217.5 124.5V127M218.5 83V87.5M219.5 84V91.5M219.5 124V135M220.5 86.5V87M220.5 135V137M221.5 93V94.5M221.5 128V129M222.5 129V131M223.5 91V94M223.5 121.5V122M224.5 91.5V92.5M224.5 124.5V131.5M225.5 125V130.5M226.5 91V92M226.5 127V132M227.5 81.5V93M227.5 130.5V136M228.5 126.5V129M229.5 90V91.5M229.5 127V132M230.5 88V92M230.5 126V134M231.5 126.5V130M232.5 132.5V135M233.5 88.5V91.5M234.5 82.5V84.5M234.5 131.5V135M235.5 93.5V94M235.5 130V131M236.5 85V91.5M236.5 132.5V133M237.5 86.5V91M237.5 129.5V133.5M238.5 84.5V88M238.5 125.5V133.5M239.5 90.5V92M240.5 90V90.5M240.5 127V130M241.5 85.5V89M241.5 132V135M242.5 86.5V89M242.5 129.5V131.5M243.5 89V92.5M243.5 128V129.5M244.5 90V91M244.5 126.5V132M245.5 84.5V93M245.5 128V132.5M246.5 92V92.5M246.5 126.5V133.5M247.5 83.5V85M247.5 125.5V135.5M248.5 87.5V88M248.5 132.5V135.5M249.5 86.5V89M249.5 130.5V132.5M250.5 85.5V86.5M250.5 131V136M251.5 82V85.5M251.5 126.5V135M252.5 85V85.5M252.5 130.5V131.5M254.5 81.5V87.5M254.5 128V137.5M255.5 127.5V132M256.5 90.5V95M256.5 130V132M257.5 90V91M257.5 133V135M258.5 87V95.5M259.5 88.5V89.5M259.5 124.5V126.5M260.5 89.5V91M260.5 127V127.5M261.5 81.5V88M261.5 127V129M262.5 81.5V90M262.5 126.5V127.5M263.5 90V93M263.5 127V129M264.5 127.5V128M265.5 85.5V89M265.5 129.5V137.5M266.5 93.5V95.5M266.5 123.5V124M267.5 86V89M267.5 128.5V131M268.5 91V94M269.5 85.5V88M269.5 123.5V135.5M270.5 89V90.5M270.5 125.5V127.5M271.5 82.5V92.5M271.5 125V125.5M272.5 88.5V90.5M273.5 91V92.5M273.5 128.5V129.5M274.5 94V94.5M274.5 125V127.5M275.5 131V131.5M276.5 126.5V136.5M277.5 88V89.5M277.5 124V124.5M278.5 81.5V83.5M278.5 127.5V130M279.5 86.5V94.5M279.5 124.5V127.5M280.5 89V90M280.5 126V137.5M281.5 87V88M281.5 130V134M282.5 86V96.5M282.5 126V129.5M283.5 85.5V89M283.5 127.5V128.5M284.5 83V87M284.5 124.5V134M285.5 89.5V90M285.5 125.5V128.5M286.5 86.5V89M286.5 128V132M287.5 85V93M287.5 126.5V129M288.5 90V93.5M288.5 127V133M289.5 89V91.5M289.5 137V137.5M290.5 90.5V92.5M290.5 132V135.5M291.5 125V125.5M292.5 91.5V92.5M292.5 127V127.5M293.5 87.5V91M293.5 126V127.5M294.5 81.5V93.5M295.5 92.5V93.5M295.5 126.5V137.5M296.5 91V91.5M296.5 130.5V131.5M297.5 90.5V91M297.5 129.5V137.5M298.5 88.5V89.5M298.5 126.5V127M299.5 87V88M299.5 129V130M300.5 88.5V89.5M300.5 133.5V135.5M301.5 84.5V90.5M301.5 127.5V128.5" stroke="#ff0000" stroke-opacity="0.5" fill="none"/>
<path d="M31.5 88.5V91M31.5 128.5V132.5M32.5 91V95M32.5 129V130.5M33.5 88V91M33.5 125.5V126M34.5 93.5V94M34.5 125.5V126.5M35.5 92.5V93M35.5 124V124.5M36.5 92V92.5M36.5 122.5V124.5M37.5 92V92.5M37.5 128.5V129M38.5 92V92.5M38.5 95V95.5M38.5 126.5V132.5M39.5 95V97.5M39.5 125.5V128.5M40.5 88.5V91M40.5 126V127.5M41.5 96V96.5M41.5 125V125.5M42.5 92V93M42.5 125.5V128M43.5 93V94.5M43.5 123.5V124.5M44.5 90.5V91.5M44.5 127V128.5M45.5 92.5V93M45.5 125.5V126M46.5 90.5V97M46.5 124V130M47.5 88.5V91M47.5 126V127M48.5 90V93M48.5 126.5V128.5M49.5 90V92.5M49.5 123V123.5M50.5 93V93.5M50.5 124.5V125M51.5 92.5V95M51.5 123.5V126M52.5 95.5V96M52.5 126V126.5M53.5 94V96.5M53.5 124.5V126.5M54.5 89.5V92.5M54.5 123.5V128.5M55.5 124V125.5M56.5 89V92.5M56.5 122.5V123M57.5 92.5V94.5M57.5 126.5V127M58.5 92.5V93M58.5 127V128M59.5 94V96M59.5 129.5V130M60.5 86V90M60.5 127V129M61.5 87.5V92.5M61.5 128.5V129.5M62.5 124V126M63.5 88.5V90.5M63.5 124V124.5M64.5 90V91M64.5 129V131.5M65.5 91V93.5M65.5 127.5V128.5M66.5 86.5V92.5M66.5 127.5V131.5M67.5 89.5V91M67.5 125.5V126M68.5 90V92M68.5 126.5V127M69.5 88.5V92M69.5 127V127.5M70.5 90.5V91.5M70.5 125.5V126M71.5 86V92M71.5 122.5V124.5M72.5 95V95.5M72.5 127V127.5M73.5 91V92M73.5 128.5V129M74.5 92V94.5M74.5 129V130M75.5 95.5V96M75.5 124.5V129.5M76.5 95.5V98M76.5 125V126.5M77.5 96.5V97.5M77.5 125.5V126M78.5 93V94M78.5 124.5V127M79.5 93.5V94M79.5 125.5V126M80.5 92V93M80.5 124.5V129.5M81.5 93V93.5M81.5 126V126.5M82.5 87.5V88M82.5 124V125M83.5 93.5V94M83.5 125.5V127M84.5 88V94.5M84.5 127V129M85.5 92.5V94M85.5 130V132M86.5 92V94.5M87.5 89V89.5M87.5 125.5V128M88.5 87V92.5M88.5 125V126M89.5 85V90M89.5 127.5V129.5M90.5 92.5V93M90.5 125.5V126M91.5 90.5V93.5M91.5 123V123.5M92.5 88V90M92.5 124.5V125.5M93.5 94.5V95M93.5 127.5V129M94.5 93.5V94M94.5 122V124M95.5 90V92.5M95.5 127V128.5M96.5 95V95.5M97.5 89.5V92.5M97.5 124V128M98.5 91.5V92M98.5 127V129M99.5 87.5V90M99.5 125V126M100.5 95V96.5M100.5 126.5V127M101.5 92.5V94.5M102.5 95V96.5M102.5 125.5V133M103.5 91.5V93M103.5 128.5V132M104.5 90.5V93M104.5 125.5V126.5M105.5 89.5V94.5M105.5 126V127.5M106.5 92.5V94.5M106.5 125.5V126M107.5 90V91M107.5 128V128.5M108.5 85.5V92.5M108.5 129V131.5M109.5 88V89.5M109.5 127V131M110.5 88V89.5M110.5 127.5V128M111.5 90V93.5M111.5 129V133M112.5 91V93M112.5 129.5V131M113.5 88.5V93.5M113.5 126V128M114.5 88.5V92M114.5 125.5V126.5M115.5 91V91.5M115.5 126V126.5M116.5 93V93.5M116.5 127.5V128.5M117.5 94V94.5M117.5 124V124.5M118.5 93V93.5M118.5 122V124M119.5 91.5V92.5M119.5 127V128.5M120.5 94V95M120.5 126V126.5M121.5 90.5V93M121.5 125V128M122.5 126.5V128.5M123.5 92V94M123.5 129V129.5M124.5 129V136.5M125.5 89V89.5M125.5 131.5V132M126.5 94V96M126.5 127.5V128.5M127.5 86.5V91M127.5 126V128.5M128.5 88V89M128.5 123V127M129.5 96V96.5M129.5 126.5V127M130.5 90V92M130.5 126V126.5M131.5 88.5V90.5M131.5 125.5V126.5M132.5 93V93.5M132.5 129V131.5M133.5 90V91.5M133.5 128.5V130M134.5 93V94M134.5 133V133.5M135.5 86.5V91.5M135.5 131V134M136.5 94V95M136.5 124.5V125.5M137.5 91V93.5M137.5 127.5V129M138.5 92V94.5M138.5 129V129.5M139.5 88V92.5M139.5 125V127.5M140.5 88V92M140.5 124V124.5M141.5 90V93M141.5 125.5V126.5M142.5 91V93M142.5 127.5V129M143.5 91V92.5M143.5 124.5V125M144.5 121V123.5M145.5 91.5V94M145.5 124.5V125M146.5 86.5V91M146.5 122V124.5M147.5 90V91M147.5 130V131M148.5 90.5V91M148.5 131V134.5M149.5 92.5V95M149.5 123V123.5M150.5 87.5V91.5M150.5 130.5V131.5M151.5 91V93.5M151.5 124.5V128.5M152.5 94.5V96M152.5 128V129.5M153.5 92V92.5M154.5 89V90M155.5 91.5V92.5M155.5 130V131M156.5 93.5V95M156.5 122.5V123.5M157.5 93V94.5M157.5 127.5V128.5M158.5 91.5V95M158.5 123.5V124.5M159.5 129V129.5M160.5 93V97.5M160.5 125V128.5M161.5 86.5V90.5M161.5 125.5V128M162.5 90V92M162.5 127.5V131M163.5 91.5V94.5M163.5 132V135M164.5 90.5V92M164.5 127.5V129.5M165.5 83.5V89.5M165.5 126V131.5M166.5 84V88M166.5 127V127.5M167.5 95V97M167.5 126.5V130M168.5 91.5V92M168.5 125.5V129M169.5 92.5V93.5M169.5 129V129.5M170.5 92V94M170.5 126V129.5M171.5 88V91M171.5 124V124.5M172.5 93.5V94M172.5 128V128.5M173.5 93V93.5M173.5 124.5V126M174.5 92V92.5M174.5 124.5V126M175.5 94.5V96.5M175.5 130V130.5M176.5 90.5V93.5M177.5 87.5V94.5M177.5 125.5V126M178.5 93V96M178.5 124.5V126M179.5 91.5V94M179.5 128V129M180.5 127V128M181.5 90V91.5M181.5 128V128.5M182.5 91.5V93M182.5 125V128.5M183.5 95V96.5M183.5 125V126M184.5 92.5V94.5M184.5 124.5V125M185.5 126.5V128.5M186.5 125V129M187.5 92V93M187.5 124V127.5M188.5 89.5V90M188.5 130V133M189.5 86V91M189.5 125V130M190.5 91.5V92M190.5 127.5V129.5M191.5 90.5V91M191.5 125.5V126.5M192.5 90.5V91M192.5 123.5V125M193.5 90.5V91M193.5 128.5V130.5M194.5 92V94M194.5 126V126.5M195.5 92V92.5M195.5 126V126.5M196.5 95.5V96M196.5 127.5V128M197.5 88.5V89.5M197.5 126V127M198.5 92V93.5M198.5 125.5V127.5M199.5 91V92.5M199.5 125.5V127M200.5 89V90M200.5 125V128.5M201.5 129V133.5M202.5 89V94M202.5 127.5V128M203.5 94V94.5M203.5 127.5V129M204.5 91.5V93.5M204.5 124V125.5M205.5 90.5V91M205.5 125.5V126M206.5 92V92.5M206.5 124V127M207.5 91.5V92M207.5 126V129M208.5 92.5V94M208.5 125V125.5M209.5 91V92.5M209.5 124V126.5M210.5 89V89.5M211.5 89.5V91.5M212.5 93V93.5M212.5 125.5V127M213.5 95.5V96M213.5 125.5V129M214.5 93.5V94.5M214.5 126V127.5M215.5 92.5V93M215.5 132V132.5M216.5 92V93.5M216.5 125V126M217.5 90.5V92.5M217.5 123.5V124.5M218.5 87.5V91.5M218.5 127V127.5M219.5 91.5V94M219.5 123.5V124M220.5 87V89.5M220.5 132.5V135M221.5 94.5V95.5M221.5 127V128M222.5 95.5V96M223.5 94V95.5M223.5 121V121.5M224.5 92.5V94.5M224.5 123.5V124.5M225.5 90.5V91.5M225.5 122.5V125M226.5 92V93.5M226.5 125V127M227.5 93V93.5M227.5 128V130.5M228.5 88.5V89M228.5 125.5V126.5M229.5 91.5V93M229.5 125V127M230.5 92V93M230.5 125.5V126M231.5 125V126.5M232.5 90.5V94.5M232.5 128.5V132.5M233.5 91.5V92M233.5 129V131M234.5 84.5V85.5M234.5 128V131.5M235.5 129V130M236.5 131.5V132.5M237.5 128.5V129.5M238.5 88V90M238.5 123V125.5M239.5 92V97M239.5 121.5V124.5M240.5 90.5V93M240.5 125V127M241.5 89V92.5M241.5 128.5V132M242.5 89V92M242.5 128.5V129.5M243.5 92.5V93M243.5 126V128M244.5 91V92M244.5 125V126.5M245.5 93V93.5M246.5 92.5V93M246.5 125V126.5M247.5 85V86M247.5 122.5V125.5M248.5 88V94M248.5 126.5V132.5M249.5 89V93M250.5 86.5V87.5M250.5 129V131M251.5 85.5V90M251.5 126V126.5M252.5 85.5V94M252.5 129V130.5M253.5 90V91.5M253.5 127.5V129.5M254.5 87.5V91M254.5 127.5V128M255.5 89V91M255.5 127V127.5M256.5 95V95.5M256.5 128.5V130M257.5 91V96M257.5 124.5V133M258.5 95.5V96M258.5 127V128.5M259.5 89.5V91M259.5 124V124.5M260.5 91V92M260.5 124V127M261.5 88V90M261.5 126V127M262.5 90V92M262.5 125.5V126.5M263.5 93V93.5M264.5 93.5V94M264.5 125.5V127.5M265.5 89V92.5M265.5 127V129.5M266.5 95.5V96M266.5 122V123.5M267.5 89V90.5M267.5 123.5V128.5M268.5 94V95M268.5 124.5V130.5M269.5 88V91M269.5 122.5V123.5M270.5 90.5V94M270.5 125V125.5M271.5 92.5V93M271.5 123.5V125M272.5 90.5V91M272.5 127V127.5M273.5 92.5V93M273.5 126.5V128.5M274.5 94.5V95M274.5 122.5V125M275.5 90.5V91M275.5 127V131M276.5 91.5V94.5M276.5 123.5V126.5M277.5 89.5V95M278.5 83.5V88M278.5 127V127.5M279.5 94.5V95M279.5 124V124.5M280.5 90V91.5M280.5 125.5V126M281.5 88V89M281.5 128.5V130M282.5 96.5V97M282.5 123V126M283.5 89V91M283.5 125V127.5M284.5 87V92M284.5 124V124.5M285.5 90V91M285.5 124.5V125.5M286.5 89V90.5M286.5 125V128M287.5 93V94M287.5 125.5V126.5M288.5 93.5V94M289.5 91.5V93M289.5 135V137M290.5 92.5V93M290.5 130V132M291.5 92V93M291.5 122.5V125M292.5 92.5V94M292.5 125.5V127M293.5 91V93M293.5 124.5V126M294.5 93.5V94M294.5 128V129M295.5 93.5V94M295.5 123.5V126.5M296.5 91.5V94M296.5 128V130.5M297.5 91V93M297.5 126V129.5M298.5 89.5V90.5M299.5 88V92M299.5 128.5V129M300.5 89.5V91.5M300.5 129V133.5M301.5 90.5V94.5M301.5 127V127.5" stroke="#ff0000" stroke-opacity="0.75" fill="none"/>
<path d="M31.5 91V128.5M32.5 95V129M33.5 91V125.5M34.5 94V125.5M35.5 93V124M36.5 92.5V122.5M37.5 92.5V128.5M38.5 95.5V126.5M39.5 97.5V125.5M40.5 91V126M41.5 96.5V125M42.5 93V125.5M43.5 94.5V123.5M44.5 91.5V127M45.5 93V125.5M46.5 97V124M47.5 91V126M48.5 93V126.5M49.5 92.5V123M50.5 93.5V124.5M51.5 95V123.5M52.5 96V126M53.5 96.5V124.5M54.5 92.5V123.5M55.5 95.5V124M56.5 92.5V122.5M57.5 94.5V126.5M58.5 93V127M59.5 96V129.5M60.5 90V127M61.5 92.5V128.5M62.5 91.5V124M63.5 90.5V124M64.5 91V129M65.5 93.5V127.5M66.5 92.5V127.5M67.5 91V125.5M68.5 92V126.5M69.5 92V127M70.5 91.5V125.5M71.5 92V122.5M72.5 95.5V127M73.5 92V128.5M74.5 94.5V129M75.5 96V124.5M76.5 98V125M77.5 97.5V125.5M78.5 94V124.5M79.5 94V125.5M80.5 93V124.5M81.5 93.5V126M82.5 88V124M83.5 94V125.5M84.5 94.5V127M85.5 94V130M86.5 94.5V127M87.5 89.5V125.5M88.5 92.5V125M89.5 90V127.5M90.5 93V125.5M91.5 93.5V123M92.5 90V124.5M93.5 95V127.5M94.5 94V122M95.5 92.5V127M96.5 95.5V129M97.5 92.5V124M98.5 92V127M99.5 90V125M100.5 96.5V126.5M101.5 94.5V125M102.5 96.5V125.5M103.5 93V128.5M104.5 93V125.5M105.5 94.5V126M106.5 94.5V125.5M107.5 91V128M108.5 92.5V129M109.5 89.5V127M110.5 89.5V127.5M111.5 93.5V129M112.5 93V129.5M113.5 93.5V126M114.5 92V125.5M115.5 91.5V126M116.5 93.5V127.5M117.5 94.5V124M118.5 93.5V122M119.5 92.5V127M120.5 95V126M121.5 93V125M122.5 91.5V126.5M123.5 94V129M124.5 92V129M125.5 89.5V131.5M126.5 96V127.5M127.5 91V126M128.5 89V123M129.5 96.5V126.5M130.5 92V126M131.5 90.5V125.5M132.5 93.5V129M133.5 91.5V128.5M134.5 94V133M135.5 91.5V131M136.5 95V124.5M137.5 93.5V127.5M138.5 94.5V129M139.5 92.5V125M140.5 92V124M141.5 93V125.5M142.5 93V127.5M143.5 92.5V124.5M144.5 90V121M145.5 94V124.5M146.5 91V122M147.5 91V130M148.5 91V131M149.5 95V123M150.5 91.5V130.5M151.5 93.5V124.5M152.5 96V128M153.5 92.5V131M154.5 90V125.5M155.5 92.5V130M156.5 95V122.5M157.5 94.5V127.5M158.5 95V123.5M159.5 92.5V129M160.5 97.5V125M161.5 90.5V125.5M162.5 92V127.5M163.5 94.5V132M164.5 92V127.5M165.5 89.5V126M166.5 88V127M167.5 97V126.5M168.5 92V125.5M169.5 93.5V129M170.5 94V126M171.5 91V124M172.5 94V128M173.5 93.5V124.5M174.5 92.5V124.5M175.5 96.5V130M176.5 93.5V124.5M177.5 94.5V125.5M178.5 96V124.5M179.5 94V128M180.5 93V127M181.5 91.5V128M182.5 93V125M183.5 96.5V125M184.5 94.5V124.5M185.5 92.5V126.5M186.5 95V125M187.5 93V124M188.5 90V130M189.5 91V125M190.5 92V127.5M191.5 91V125.5M192.5 91V123.5M193.5 91V128.5M194.5 94V126M195.5 92.5V126M196.5 96V127.5M197.5 89.5V126M198.5 93.5V125.5M199.5 92.5V125.5M200.5 90V125M201.5 93V129M202.5 94V127.5M203.5 94.5V127.5M204.5 93.5V124M205.5 91V125.5M206.5 92.5V124M207.5 92V126M208.5 94V125M209.5 92.5V124M210.5 89.5V130M211.5 91.5V127M212.5 93.5V125.5M213.5 96V125.5M214.5 94.5V126M215.5 93V132M216.5 93.5V125M217.5 92.5V123.5M218.5 91.5V127M219.5 94V123.5M220.5 89.5V132.5M221.5 95.5V127M222.5 96V129M223.5 95.5V121M224.5 94.5V123.5M225.5 91.5V122.5M226.5 93.5V125M227.5 93.5V128M228.5 89V125.5M229.5 93V125M230.5 93V125.5M231.5 89.5V125M232.5 94.5V128.5M233.5 92V129M234.5 85.5V128M235.5 94V129M236.5 91.5V131.5M237.5 91V128.5M238.5 90V123M239.5 97V121.5M240.5 93V125M241.5 92.5V128.5M242.5 92V128.5M243.5 93V126M244.5 92V125M245.5 93.5V128M246.5 93V125M247.5 86V122.5M248.5 94V126.5M249.5 93V130.5M250.5 87.5V129M251.5 90V126M252.5 94V129M253.5 91.5V127.5M254.5 91V127.5M255.5 91V127M256.5 95.5V128.5M257.5 96V124.5M258.5 96V127M259.5 91V124M260.5 92V124M261.5 90V126M262.5 92V125.5M263.5 93.5V127M264.5 94V125.5M265.5 92.5V127M266.5 96V122M267.5 90.5V123.5M268.5 95V124.5M269.5 91V122.5M270.5 94V125M271.5 93V123.5M272.5 91V127M273.5 93V126.5M274.5 95V122.5M275.5 91V127M276.5 94.5V123.5M277.5 95V124M278.5 88V127M279.5 95V124M280.5 91.5V125.5M281.5 89V128.5M282.5 97V123M283.5 91V125M284.5 92V124M285.5 91V124.5M286.5 90.5V125M287.5 94V125.5M288.5 94V127M289.5 93V135M290.5 93V130M291.5 93V122.5M292.5 94V125.5M293.5 93V124.5M294.5 94V128M295.5 94V123.5M296.5 94V128M297.5 93V126M298.5 90.5V126.5M299.5 92V128.5M300.5 91.5V129M301.5 94.5V127" stroke="#ff0000" stroke-opacity="1.0" fill="none"/>
<text x="27.8" y="84.1" font-size="6.7" text-anchor="end" class="t">0.5</text>
<text x="27.8" y="112.2" font-size="6.7" text-anchor="end" class="t">0</text>
<text x="27.8" y="141.2" font-size="6.7" text-anchor="end" class="t">-0.5</text>
<text x="31" y="147.8" font-size="6.7" text-anchor="middle" class="t">0</text>
<text x="76.33" y="147.8" font-size="6.7" text-anchor="middle" class="t">50</text>
<text x="121.67" y="147.8" font-size="6.7" text-anchor="middle" class="t">100</text>
<text x="167" y="147.8" font-size="6.7" text-anchor="middle" class="t">150</text>
<text x="212.33" y="147.8" font-size="6.7" text-anchor="middle" class="t">200</text>
<text x="257.67" y="147.8" font-size="6.7" text-anchor="middle" class="t">250</text>
<text x="303" y="147.8" font-size="6.7" text-anchor="middle" class="t">300</text>
<rect x="242.4" y="85" width="53.2" height="10.5" fill="#fff" stroke="#555555" stroke-width="0.8"/>
<path d="M245 90.5H270" stroke="#ff0000" stroke-width="0.8"/>
<text x="293.3" y="92.95" font-size="6.75" text-anchor="end" class="t">SF-RFI</text>
<rect x="30.4" y="160.5" width="272" height="56.5" fill="none" stroke="#4a4a4a" stroke-width="0.9"/>
<path d="M30.4 217v-2.6M30.4 160.5v2.6M75.73 217v-2.6M75.73 160.5v2.6M121.07 217v-2.6M121.07 160.5v2.6M166.4 217v-2.6M166.4 160.5v2.6M211.73 217v-2.6M211.73 160.5v2.6M257.07 217v-2.6M257.07 160.5v2.6M302.4 217v-2.6M302.4 160.5v2.6M30.4 160.5h2.6M302.4 160.5h-2.6M30.4 188.75h2.6M302.4 188.75h-2.6M30.4 217h2.6M302.4 217h-2.6" stroke="#4a4a4a" stroke-width="0.8" fill="none"/>
<path d="M31.5 171.5V172M31.5 206V206.5M32.5 177V177.5M32.5 198.5V199M33.5 175.5V176M37.5 173V173.5M38.5 208V208.5M40.5 196V196.5M41.5 202.5V203M43.5 205V205.5M44.5 162V162.5M45.5 208V208.5M46.5 166V166.5M47.5 177V177.5M47.5 204V204.5M52.5 176V176.5M53.5 208V208.5M56.5 168.5V169M56.5 200V200.5M57.5 198.5V199M58.5 206.5V207M61.5 201.5V202M62.5 175.5V176M64.5 212V212.5M65.5 212V212.5M67.5 203V203.5M69.5 204.5V205M70.5 175.5V176M77.5 172.5V173M77.5 206V206.5M90.5 200V200.5M91.5 179V179.5M91.5 200V200.5M95.5 171.5V172M95.5 203.5V204M97.5 176V176.5M98.5 180V180.5M98.5 198.5V199M99.5 201.5V202M102.5 177V177.5M102.5 200V200.5M103.5 207V207.5M104.5 180.5V181M107.5 173.5V174M108.5 177V177.5M108.5 204.5V205M109.5 177V177.5M113.5 169V169.5M118.5 168V168.5M120.5 173.5V174M121.5 166V166.5M122.5 176V176.5M123.5 214V214.5M124.5 207V207.5M127.5 209V209.5M129.5 172.5V173M134.5 172V172.5M135.5 172V172.5M135.5 204.5V205M137.5 170.5V171M138.5 198.5V199M142.5 201V201.5M143.5 208V208.5M144.5 200.5V201M145.5 206.5V207M147.5 200.5V201M148.5 177V177.5M148.5 201.5V202M149.5 207V207.5M150.5 197.5V198M152.5 209V209.5M157.5 180V180.5M158.5 175V175.5M159.5 172.5V173M166.5 169V169.5M167.5 201.5V202M168.5 205V205.5M170.5 199.5V200M171.5 169.5V170M171.5 200.5V201M176.5 201V201.5M181.5 172.5V173M182.5 177V177.5M184.5 173V173.5M188.5 175.5V176M190.5 202V202.5M194.5 173.5V174M195.5 198V198.5M196.5 200V200.5M197.5 177V177.5M197.5 203V203.5M199.5 174V174.5M200.5 212V212.5M201.5 179.5V180M203.5 162V162.5M204.5 177V177.5M205.5 200.5V201M207.5 200V200.5M209.5 177V177.5M210.5 172V172.5M211.5 170V170.5M212.5 171V171.5M215.5 170V170.5M216.5 170.5V171M217.5 199.5V200M219.5 170V170.5M219.5 200V200.5M221.5 178V178.5M221.5 200V200.5M222.5 198.5V199M224.5 201V201.5M225.5 198V198.5M226.5 203V203.5M234.5 213.5V214M235.5 170.5V171M237.5 178.5V179M237.5 198.5V199M238.5 171V171.5M241.5 203.5V204M244.5 171.5V172M246.5 197.5V198M249.5 175.5V176M251.5 201V201.5M252.5 176.5V177M254.5 174V174.5M254.5 206.5V207M257.5 198.5V199M259.5 178.5V179M260.5 203.5V204M261.5 175.5V176M261.5 203.5V204M262.5 201.5V202M265.5 166V166.5M267.5 175.5V176M268.5 202.5V203M269.5 201.5V202M270.5 199.5V200M273.5 209.5V210M275.5 168V168.5M276.5 178V178.5M277.5 177V177.5M277.5 200.5V201M278.5 201V201.5M279.5 175.5V176M279.5 202V202.5M281.5 197.5V198M282.5 175V175.5M283.5 199.5V200M287.5 214.5V215M288.5 197V197.5M291.5 209V209.5M292.5 202V202.5M294.5 175.5V176M296.5 164.5V165M298.5 200V200.5M299.5 168.5V169M301.5 170V170.5" stroke="#0000ff" stroke-opacity="0.25" fill="none"/>
<path d="M34.5 176.5V177M34.5 212.5V213M35.5 178.5V179M35.5 202.5V203M36.5 165V165.5M36.5 195V195.5M37.5 201.5V202M39.5 174.5V175M40.5 166V166.5M41.5 175.5V176M42.5 181V181.5M42.5 200.5V201M43.5 171V171.5M48.5 176.5V177M48.5 203.5V204M49.5 201.5V202M51.5 173V173.5M51.5 202V202.5M53.5 179.5V180M54.5 198V198.5M55.5 201V201.5M60.5 179.5V180M60.5 211.5V212M61.5 174.5V175M63.5 201.5V202M64.5 165V165.5M64.5 203V212M65.5 200.5V212M66.5 169V169.5M66.5 205.5V206M69.5 172V172.5M70.5 204V204.5M72.5 205V205.5M73.5 207V207.5M74.5 173V173.5M74.5 200V200.5M75.5 176V176.5M75.5 200.5V201M76.5 178V178.5M76.5 205V205.5M78.5 173V173.5M79.5 164V164.5M79.5 207V207.5M80.5 177.5V178M80.5 204V204.5M81.5 168.5V169M81.5 204V204.5M82.5 172V172.5M83.5 210V210.5M84.5 173.5V174M86.5 178V178.5M87.5 198.5V199M88.5 179.5V180M88.5 198V198.5M89.5 174V174.5M89.5 204V204.5M90.5 174.5V175M92.5 174V174.5M93.5 196V196.5M94.5 203.5V204M96.5 171V171.5M96.5 214V214.5M97.5 206.5V207M99.5 180V180.5M100.5 206.5V207M101.5 199V199.5M104.5 208.5V209M105.5 173.5V174M105.5 200V200.5M106.5 178V178.5M110.5 204.5V205M111.5 202V202.5M114.5 173.5V174M114.5 202.5V203M115.5 175.5V176M115.5 202.5V203M116.5 200V200.5M117.5 179.5V180M117.5 202.5V203M119.5 199V199.5M120.5 199V199.5M122.5 205.5V206M124.5 177.5V178M125.5 172.5V173M126.5 176V176.5M126.5 202V202.5M127.5 171.5V172M128.5 174V174.5M129.5 204V204.5M130.5 179V179.5M130.5 201V201.5M131.5 166V166.5M131.5 198V198.5M132.5 200V200.5M133.5 165.5V166M134.5 205V205.5M136.5 171V171.5M138.5 166.5V167M139.5 174V174.5M139.5 200.5V201M140.5 173V173.5M140.5 206.5V207M141.5 172.5V173M143.5 172.5V173M145.5 179.5V180M146.5 175V175.5M146.5 208V208.5M147.5 171.5V172M150.5 178.5V179M151.5 197.5V198M152.5 179V179.5M153.5 176.5V177M154.5 170V170.5M154.5 205V205.5M155.5 166V166.5M155.5 200V200.5M158.5 202.5V203M159.5 210.5V211M161.5 177V177.5M162.5 200V200.5M164.5 178.5V179M165.5 176V176.5M166.5 209V209.5M168.5 176V176.5M169.5 181.5V182M172.5 174.5V175M172.5 203.5V204M173.5 177.5V178M173.5 202.5V203M174.5 169.5V170M175.5 167.5V168M175.5 206V206.5M177.5 174.5V175M177.5 204.5V205M179.5 165.5V166M179.5 212.5V213M180.5 176.5V177M180.5 198.5V199M181.5 201V201.5M182.5 199V199.5M183.5 171V171.5M183.5 203.5V204M184.5 199.5V200M185.5 175V175.5M185.5 209V209.5M186.5 176V176.5M187.5 170V170.5M188.5 198V198.5M189.5 201V201.5M190.5 172V172.5M191.5 175.5V176M191.5 203V203.5M192.5 176.5V177M193.5 172.5V173M194.5 209V209.5M195.5 173V173.5M198.5 176.5V177M198.5 200.5V201M199.5 211V211.5M201.5 201V201.5M202.5 165.5V166M202.5 201.5V202M203.5 205.5V206M206.5 177.5V178M207.5 179V179.5M208.5 171.5V172M208.5 214V214.5M212.5 204V204.5M213.5 199V199.5M214.5 200V200.5M216.5 204.5V205M217.5 172V172.5M218.5 174V174.5M218.5 203.5V204M220.5 171.5V172M220.5 206V206.5M222.5 179.5V180M224.5 176V176.5M225.5 168.5V169M228.5 176V176.5M228.5 205V205.5M229.5 176.5V177M230.5 173V173.5M231.5 170V170.5M231.5 202.5V203M232.5 170.5V171M233.5 172.5V173M235.5 214V214.5M236.5 199V199.5M238.5 198.5V199M241.5 175V175.5M242.5 198.5V199M243.5 177V177.5M244.5 207V207.5M245.5 176.5V177M245.5 200V200.5M246.5 167V167.5M247.5 179.5V180M247.5 203.5V204M248.5 203.5V204M249.5 199V199.5M250.5 168.5V169M250.5 202V202.5M252.5 210V210.5M253.5 170V170.5M255.5 177.5V178M255.5 211.5V212M256.5 172.5V173M258.5 162V162.5M258.5 196.5V203.5M259.5 205V205.5M260.5 174.5V175M263.5 203.5V204M264.5 172.5V173M264.5 198V199.5M265.5 209V209.5M266.5 207.5V208M268.5 176.5V177M269.5 169V169.5M271.5 176.5V177M272.5 175V175.5M272.5 201.5V202M274.5 172.5V173M274.5 206V206.5M278.5 175V175.5M280.5 177V177.5M280.5 202V202.5M281.5 176.5V177M282.5 203V203.5M283.5 169.5V170M284.5 176.5V177M284.5 207.5V208M285.5 173V173.5M286.5 172.5V173M287.5 176V176.5M289.5 180V180.5M291.5 167V167.5M292.5 180V180.5M293.5 162.5V163M293.5 204.5V205M294.5 207.5V208M295.5 162V162.5M295.5 205.5V206M296.5 201.5V202M297.5 168.5V169M297.5 209V209.5M298.5 163.5V164M300.5 201.5V202M301.5 202.5V203" stroke="#0000ff" stroke-opacity="0.5" fill="none"/>
<path d="M31.5 172V174M31.5 200.5V206M32.5 177.5V180M32.5 197.5V198.5M33.5 176V177.5M33.5 197.5V204.5M34.5 177V178M34.5 196.5V212.5M35.5 179V179.5M35.5 196V202.5M36.5 165.5V176.5M37.5 173.5V175.5M37.5 198.5V201.5M38.5 176.5V177.5M38.5 195.5V208M39.5 175V177M39.5 197V198M40.5 166.5V180M40.5 195.5V196M41.5 201V202.5M42.5 197V200.5M43.5 171.5V173M43.5 200V205M44.5 162.5V177M44.5 196.5V197M45.5 173.5V177M45.5 205V208M46.5 166.5V178M46.5 202V204M47.5 177.5V181M47.5 202.5V204M48.5 177V178M48.5 202.5V203.5M49.5 173.5V178M50.5 170.5V176.5M50.5 201V202M51.5 173.5V180.5M51.5 199.5V202M52.5 176.5V178M52.5 199V204M53.5 180V180.5M53.5 200V208M54.5 173.5V178.5M55.5 179.5V180M55.5 198.5V201M56.5 169V176.5M56.5 199.5V200M57.5 176.5V179.5M57.5 197V198.5M58.5 172.5V177M58.5 201.5V206.5M59.5 174V176M59.5 198.5V203.5M60.5 180V180.5M60.5 200V211.5M61.5 175V177.5M61.5 197.5V201.5M62.5 176V177M62.5 201V204.5M63.5 173.5V174M63.5 197.5V201.5M64.5 165.5V176.5M64.5 199.5V203M65.5 173.5V177M65.5 198.5V200.5M66.5 169.5V178M66.5 195V205.5M67.5 175.5V178M67.5 199V203M68.5 163.5V177.5M68.5 199.5V200.5M69.5 172.5V175M69.5 202.5V204.5M70.5 176V177.5M70.5 203V204M71.5 178V180M71.5 199.5V209.5M72.5 174.5V175M72.5 198V205M73.5 179.5V181.5M73.5 200V207M74.5 173.5V182.5M74.5 198V200M75.5 176.5V178M75.5 199.5V200.5M76.5 178.5V179M76.5 204V205M77.5 173V175M77.5 199.5V206M78.5 173.5V177M78.5 201.5V202.5M79.5 164.5V177M79.5 202.5V207M80.5 178V179.5M80.5 199.5V204M81.5 169V178M81.5 202V204M82.5 172.5V178.5M82.5 198.5V200.5M83.5 168.5V176M83.5 197.5V210M84.5 174V178.5M84.5 201.5V202M85.5 172.5V174M85.5 198.5V199M86.5 178.5V179.5M86.5 197.5V204M87.5 179V179.5M88.5 180V181M89.5 174.5V175M89.5 203V204M90.5 175V176M90.5 198.5V200M91.5 179.5V180M91.5 199.5V200M92.5 174.5V180.5M92.5 199V200M93.5 177V177.5M94.5 174V174.5M94.5 201.5V203.5M95.5 172V173.5M95.5 199.5V203.5M96.5 171.5V172.5M96.5 203V214M97.5 176.5V178.5M97.5 205.5V206.5M98.5 180.5V181.5M98.5 198V198.5M99.5 180.5V181M99.5 199V201.5M100.5 173.5V175.5M100.5 199.5V206.5M102.5 177.5V180M103.5 180.5V181.5M103.5 200.5V207M104.5 181V181.5M104.5 206V208.5M105.5 174V176M105.5 197.5V200M106.5 178.5V179M106.5 197.5V198.5M107.5 174V176M107.5 197.5V202M108.5 177.5V180M108.5 199.5V204.5M109.5 177.5V178M109.5 197.5V200.5M110.5 171V176M110.5 199V204.5M111.5 171V171.5M112.5 173.5V179.5M112.5 196.5V197.5M113.5 169.5V171.5M113.5 204V207.5M114.5 174V179M114.5 198V202.5M115.5 176V177.5M115.5 200V202.5M116.5 178.5V181M116.5 198V200M117.5 180V181M117.5 199.5V202.5M118.5 168.5V174M118.5 198V200.5M119.5 170.5V177M119.5 197.5V199M120.5 174V178M120.5 198.5V199M121.5 166.5V178M121.5 197V197.5M122.5 176.5V177M122.5 205V205.5M123.5 173.5V179M123.5 205.5V214M124.5 178V178.5M124.5 201V207M125.5 173V175.5M125.5 201V211.5M126.5 176.5V178.5M126.5 200.5V202M127.5 172V175.5M127.5 206.5V209M128.5 174.5V176M128.5 212V214.5M129.5 173V175.5M129.5 203.5V204M130.5 179.5V181M130.5 200.5V201M131.5 166.5V179M131.5 197.5V198M132.5 173.5V176M132.5 199V200M133.5 166V171M133.5 203.5V204.5M134.5 172.5V176M134.5 200.5V205M135.5 172.5V175.5M136.5 171.5V177.5M136.5 197V198.5M137.5 171V178.5M137.5 203.5V206.5M138.5 167V178.5M138.5 196.5V198.5M139.5 174.5V177M139.5 199.5V200.5M140.5 173.5V176.5M140.5 199.5V206.5M141.5 173V175M141.5 196.5V198.5M142.5 175V180M142.5 200V201M143.5 173V179.5M143.5 205.5V208M144.5 175V175.5M144.5 199V200.5M145.5 180V182M145.5 206V206.5M146.5 175.5V176.5M146.5 205V208M147.5 172V177.5M147.5 199.5V200.5M148.5 177.5V182M149.5 180.5V181.5M149.5 198V207M150.5 179V179.5M150.5 196V197.5M151.5 176V179.5M151.5 197V197.5M152.5 179.5V182.5M152.5 199V209M153.5 199.5V200M154.5 170.5V178M154.5 199.5V205M155.5 166.5V178M156.5 173.5V176M156.5 200.5V201.5M157.5 180.5V181.5M157.5 198.5V205M158.5 175.5V179.5M158.5 201V202.5M159.5 173V176.5M159.5 198.5V210.5M160.5 172.5V176.5M160.5 197.5V202.5M161.5 177.5V179.5M161.5 205.5V208.5M162.5 179.5V181M162.5 198V200M163.5 178V179.5M163.5 199.5V204M164.5 179V179.5M164.5 201V204.5M165.5 176.5V177M165.5 195.5V199.5M166.5 169.5V177.5M166.5 199V209M167.5 174.5V179M167.5 198V201.5M168.5 176.5V178.5M168.5 203V205M169.5 197.5V206M170.5 176V176.5M170.5 196.5V199.5M171.5 170V180.5M171.5 200V200.5M172.5 175V176.5M172.5 201V203.5M173.5 198V202.5M174.5 170V172.5M174.5 198V198.5M175.5 168V176M175.5 200V206M176.5 174.5V178M176.5 200V201M177.5 175V176M177.5 204V204.5M178.5 168V178.5M178.5 204.5V206M179.5 166V172.5M179.5 205V212.5M180.5 177V178.5M180.5 198V198.5M181.5 173V178M181.5 200V201M182.5 177.5V179M182.5 197.5V199M183.5 171.5V179M183.5 200.5V203.5M184.5 173.5V176.5M184.5 198V199.5M185.5 175.5V180.5M185.5 203V209M186.5 176.5V181M186.5 197.5V199M187.5 170.5V176M187.5 200V204.5M188.5 176V181M189.5 199.5V201M190.5 172.5V175M190.5 200.5V202M191.5 176V176.5M191.5 200V203M192.5 177V177.5M192.5 198.5V199M193.5 173V173.5M193.5 205V205.5M194.5 174V175.5M194.5 203.5V209M195.5 173.5V176M195.5 197.5V198M196.5 173.5V179.5M196.5 196.5V200M197.5 177.5V178M197.5 198V203M198.5 177V179M198.5 198.5V200.5M199.5 174.5V176M199.5 198.5V211M200.5 178V178.5M200.5 205.5V212M201.5 180V180.5M201.5 200V201M202.5 166V173.5M202.5 196.5V201.5M203.5 162.5V177.5M203.5 202.5V205.5M204.5 177.5V178M204.5 198.5V200.5M205.5 171.5V174.5M206.5 178V180M206.5 198V199M207.5 197.5V200M208.5 172V178M208.5 202V214M209.5 177.5V180M209.5 199V199.5M210.5 172.5V180M210.5 200V200.5M211.5 170.5V177.5M211.5 197.5V198.5M212.5 171.5V172M212.5 197.5V204M213.5 172.5V179.5M213.5 198.5V199M214.5 176.5V179M214.5 199V200M215.5 170.5V177M215.5 201V204M216.5 171V173M216.5 200V204.5M217.5 172.5V178M217.5 198.5V199.5M218.5 174.5V180M218.5 202.5V203.5M219.5 170.5V175.5M219.5 199V200M220.5 172V175M220.5 201V206M221.5 178.5V180M221.5 199.5V200M222.5 180V180.5M222.5 196.5V198.5M223.5 174V174.5M223.5 201V206M224.5 176.5V179M224.5 199.5V201M225.5 169V174.5M225.5 196.5V198M226.5 176.5V177M226.5 198V203M227.5 174V175M227.5 200V204M228.5 176.5V179.5M228.5 199V205M229.5 177V177.5M229.5 200.5V201M230.5 173.5V177.5M230.5 202.5V205.5M231.5 170.5V171M232.5 171V173.5M232.5 201.5V205M233.5 173V175M233.5 200.5V201M234.5 164.5V169M234.5 203V213.5M235.5 171V176.5M235.5 211.5V214M236.5 171V173.5M236.5 198V199M237.5 179V180M237.5 198V198.5M238.5 171.5V177.5M238.5 197.5V198.5M239.5 177.5V179.5M239.5 200V202M240.5 176V177.5M240.5 197V199.5M241.5 175.5V176M241.5 199.5V203.5M242.5 180.5V181M242.5 197.5V198.5M243.5 197.5V203M244.5 172V179.5M244.5 198V207M245.5 177V180.5M245.5 199V200M246.5 167.5V176M246.5 195.5V197.5M247.5 201.5V203.5M248.5 177V180.5M248.5 201.5V203.5M249.5 176V177M249.5 198V199M250.5 169V173.5M250.5 198V202M251.5 175V175.5M251.5 199.5V201M252.5 177V177.5M252.5 197.5V210M253.5 170.5V178.5M253.5 199.5V200M254.5 174.5V177M254.5 199.5V206.5M255.5 178V178.5M255.5 207.5V211.5M256.5 173V176M256.5 197V198M257.5 179V179.5M257.5 198V198.5M258.5 162.5V179M258.5 196V196.5M259.5 179V180.5M259.5 201.5V205M260.5 175V177.5M260.5 200.5V203.5M261.5 176V177.5M261.5 200.5V203.5M262.5 173V179M262.5 198.5V201.5M263.5 179V180M263.5 199.5V203.5M264.5 173V174.5M264.5 197.5V198M265.5 166.5V178.5M265.5 206V209M266.5 176V179M266.5 199V207.5M267.5 176V177.5M267.5 199V201M268.5 177V179.5M268.5 202V202.5M269.5 169.5V178.5M269.5 198.5V201.5M270.5 179V181M270.5 198.5V199.5M271.5 177V179M271.5 203.5V212.5M272.5 175.5V178M272.5 199.5V201.5M273.5 181V181.5M273.5 198.5V209.5M274.5 173V178M274.5 202.5V206M275.5 168.5V178.5M275.5 205V206M276.5 178.5V181.5M276.5 204V206.5M277.5 177.5V179M277.5 199.5V200.5M278.5 175.5V179M278.5 200.5V201M279.5 176V177.5M279.5 201V202M280.5 177.5V179.5M280.5 198V202M281.5 177V179M281.5 197V197.5M282.5 175.5V176M282.5 202.5V203M283.5 170V175.5M283.5 198V199.5M284.5 177V179M284.5 204.5V207.5M285.5 173.5V174M285.5 201.5V207M286.5 173V176M286.5 202V203M287.5 176.5V177M287.5 203.5V214.5M288.5 175.5V181M288.5 196.5V197M289.5 180.5V181M289.5 197.5V198M290.5 170V175.5M290.5 198V203M291.5 167.5V173.5M291.5 200V209M292.5 180.5V182M292.5 200.5V202M293.5 163V172M293.5 201.5V204.5M294.5 176V179M294.5 203.5V207.5M295.5 162.5V171.5M295.5 200V205.5M296.5 165V176.5M296.5 200.5V201.5M297.5 169V170.5M297.5 205V209M298.5 164V172M298.5 197V200M299.5 169V176M299.5 203V203.5M300.5 175V177M300.5 198V201.5M301.5 170.5V178M301.5 202V202.5" stroke="#0000ff" stroke-opacity="0.75" fill="none"/>
<path d="M31.5 174V200.5M32.5 180V197.5M33.5 177.5V197.5M34.5 178V196.5M35.5 179.5V196M36.5 176.5V195M37.5 175.5V198.5M38.5 177.5V195.5M39.5 177V197M40.5 180V195.5M41.5 176V201M42.5 181.5V197M43.5 173V200M44.5 177V196.5M45.5 177V205M46.5 178V202M47.5 181V202.5M48.5 178V202.5M49.5 178V201.5M50.5 176.5V201M51.5 180.5V199.5M52.5 178V199M53.5 180.5V200M54.5 178.5V198M55.5 180V198.5M56.5 176.5V199.5M57.5 179.5V197M58.5 177V201.5M59.5 176V198.5M60.5 180.5V200M61.5 177.5V197.5M62.5 177V201M63.5 174V197.5M64.5 176.5V199.5M65.5 177V198.5M66.5 178V195M67.5 178V199M68.5 177.5V199.5M69.5 175V202.5M70.5 177.5V203M71.5 180V199.5M72.5 175V198M73.5 181.5V200M74.5 182.5V198M75.5 178V199.5M76.5 179V204M77.5 175V199.5M78.5 177V201.5M79.5 177V202.5M80.5 179.5V199.5M81.5 178V202M82.5 178.5V198.5M83.5 176V197.5M84.5 178.5V201.5M85.5 174V198.5M86.5 179.5V197.5M87.5 179.5V198.5M88.5 181V198M89.5 175V203M90.5 176V198.5M91.5 180V199.5M92.5 180.5V199M93.5 177.5V196M94.5 174.5V201.5M95.5 173.5V199.5M96.5 172.5V203M97.5 178.5V205.5M98.5 181.5V198M99.5 181V199M100.5 175.5V199.5M101.5 180.5V199M102.5 180V200M103.5 181.5V200.5M104.5 181.5V206M105.5 176V197.5M106.5 179V197.5M107.5 176V197.5M108.5 180V199.5M109.5 178V197.5M110.5 176V199M111.5 171.5V202M112.5 179.5V196.5M113.5 171.5V204M114.5 179V198M115.5 177.5V200M116.5 181V198M117.5 181V199.5M118.5 174V198M119.5 177V197.5M120.5 178V198.5M121.5 178V197M122.5 177V205M123.5 179V205.5M124.5 178.5V201M125.5 175.5V201M126.5 178.5V200.5M127.5 175.5V206.5M128.5 176V212M129.5 175.5V203.5M130.5 181V200.5M131.5 179V197.5M132.5 176V199M133.5 171V203.5M134.5 176V200.5M135.5 175.5V204.5M136.5 177.5V197M137.5 178.5V203.5M138.5 178.5V196.5M139.5 177V199.5M140.5 176.5V199.5M141.5 175V196.5M142.5 180V200M143.5 179.5V205.5M144.5 175.5V199M145.5 182V206M146.5 176.5V205M147.5 177.5V199.5M148.5 182V201.5M149.5 181.5V198M150.5 179.5V196M151.5 179.5V197M152.5 182.5V199M153.5 177V199.5M154.5 178V199.5M155.5 178V200M156.5 176V200.5M157.5 181.5V198.5M158.5 179.5V201M159.5 176.5V198.5M160.5 176.5V197.5M161.5 179.5V205.5M162.5 181V198M163.5 179.5V199.5M164.5 179.5V201M165.5 177V195.5M166.5 177.5V199M167.5 179V198M168.5 178.5V203M169.5 182V197.5M170.5 176.5V196.5M171.5 180.5V200M172.5 176.5V201M173.5 178V198M174.5 172.5V198M175.5 176V200M176.5 178V200M177.5 176V204M178.5 178.5V204.5M179.5 172.5V205M180.5 178.5V198M181.5 178V200M182.5 179V197.5M183.5 179V200.5M184.5 176.5V198M185.5 180.5V203M186.5 181V197.5M187.5 176V200M188.5 181V198M189.5 180V199.5M190.5 175V200.5M191.5 176.5V200M192.5 177.5V198.5M193.5 173.5V205M194.5 175.5V203.5M195.5 176V197.5M196.5 179.5V196.5M197.5 178V198M198.5 179V198.5M199.5 176V198.5M200.5 178.5V205.5M201.5 180.5V200M202.5 173.5V196.5M203.5 177.5V202.5M204.5 178V198.5M205.5 174.5V200.5M206.5 180V198M207.5 179.5V197.5M208.5 178V202M209.5 180V199M210.5 180V200M211.5 177.5V197.5M212.5 172V197.5M213.5 179.5V198.5M214.5 179V199M215.5 177V201M216.5 173V200M217.5 178V198.5M218.5 180V202.5M219.5 175.5V199M220.5 175V201M221.5 180V199.5M222.5 180.5V196.5M223.5 174.5V201M224.5 179V199.5M225.5 174.5V196.5M226.5 177V198M227.5 175V200M228.5 179.5V199M229.5 177.5V200.5M230.5 177.5V202.5M231.5 171V202.5M232.5 173.5V201.5M233.5 175V200.5M234.5 169V203M235.5 176.5V211.5M236.5 173.5V198M237.5 180V198M238.5 177.5V197.5M239.5 179.5V200M240.5 177.5V197M241.5 176V199.5M242.5 181V197.5M243.5 177.5V197.5M244.5 179.5V198M245.5 180.5V199M246.5 176V195.5M247.5 180V201.5M248.5 180.5V201.5M249.5 177V198M250.5 173.5V198M251.5 175.5V199.5M252.5 177.5V197.5M253.5 178.5V199.5M254.5 177V199.5M255.5 178.5V207.5M256.5 176V197M257.5 179.5V198M258.5 179V196M259.5 180.5V201.5M260.5 177.5V200.5M261.5 177.5V200.5M262.5 179V198.5M263.5 180V199.5M264.5 174.5V197.5M265.5 178.5V206M266.5 179V199M267.5 177.5V199M268.5 179.5V202M269.5 178.5V198.5M270.5 181V198.5M271.5 179V203.5M272.5 178V199.5M273.5 181.5V198.5M274.5 178V202.5M275.5 178.5V205M276.5 181.5V204M277.5 179V199.5M278.5 179V200.5M279.5 177.5V201M280.5 179.5V198M281.5 179V197M282.5 176V202.5M283.5 175.5V198M284.5 179V204.5M285.5 174V201.5M286.5 176V202M287.5 177V203.5M288.5 181V196.5M289.5 181V197.5M290.5 175.5V198M291.5 173.5V200M292.5 182V200.5M293.5 172V201.5M294.5 179V203.5M295.5 171.5V200M296.5 176.5V200.5M297.5 170.5V205M298.5 172V197M299.5 176V203M300.5 177V198M301.5 178V202" stroke="#0000ff" stroke-opacity="1.0" fill="none"/>
<text x="27.8" y="163.1" font-size="6.7" text-anchor="end" class="t">0.5</text>
<text x="27.8" y="191.35" font-size="6.7" text-anchor="end" class="t">0</text>
<text x="27.8" y="220.5" font-size="6.7" text-anchor="end" class="t">-0.5</text>
<text x="31" y="227.1" font-size="6.7" text-anchor="middle" class="t">0</text>
<text x="76.33" y="227.1" font-size="6.7" text-anchor="middle" class="t">50</text>
<text x="121.67" y="227.1" font-size="6.7" text-anchor="middle" class="t">100</text>
<text x="167" y="227.1" font-size="6.7" text-anchor="middle" class="t">150</text>
<text x="212.33" y="227.1" font-size="6.7" text-anchor="middle" class="t">200</text>
<text x="257.67" y="227.1" font-size="6.7" text-anchor="middle" class="t">250</text>
<text x="303" y="227.1" font-size="6.7" text-anchor="middle" class="t">300</text>
<rect x="229.2" y="164.3" width="66.8" height="10.6" fill="#fff" stroke="#555555" stroke-width="0.8"/>
<path d="M231.8 169.5H256.8" stroke="#0000ff" stroke-width="0.8"/>
<text x="293.7" y="172.3" font-size="6.75" text-anchor="end" class="t">SF-RFI, PB</text>
<text x="166.4" y="237.2" font-size="7.9" text-anchor="middle" class="t">Time (s)</text>
<text transform="translate(6.2 109.67) rotate(-90)" font-size="8.27" text-anchor="middle" class="t">DLL Discriminator Output (chip)</text>
<rect x="406.5" y="2.35" width="272.1" height="56.05" fill="none" stroke="#4a4a4a" stroke-width="0.9"/>
<path d="M406.5 58.4v-2.6M406.5 2.35v2.6M451.85 58.4v-2.6M451.85 2.35v2.6M497.2 58.4v-2.6M497.2 2.35v2.6M542.55 58.4v-2.6M542.55 2.35v2.6M587.9 58.4v-2.6M587.9 2.35v2.6M633.25 58.4v-2.6M633.25 2.35v2.6M678.6 58.4v-2.6M678.6 2.35v2.6M406.5 2.35h2.6M678.6 2.35h-2.6M406.5 30.38h2.6M678.6 30.38h-2.6M406.5 58.4h2.6M678.6 58.4h-2.6" stroke="#4a4a4a" stroke-width="0.8" fill="none"/>
<path d="M407.5 25.35V25.85M408.5 23.85V24.35M409.5 25.35V25.85M413.5 34.35V34.85M414.5 34.35V34.85M417.5 26.35V26.85M420.5 26.35V26.85M421.5 26.35V26.85M424.5 25.85V26.35M426.5 34.35V34.85M427.5 33.85V34.35M429.5 26.35V26.85M431.5 26.35V26.85M432.5 26.85V27.35M433.5 26.35V26.85M434.5 26.35V26.85M435.5 33.85V34.35M438.5 25.85V26.35M439.5 25.85V26.35M439.5 34.35V34.85M443.5 25.85V26.35M443.5 33.85V34.35M448.5 33.35V33.85M449.5 33.85V34.35M450.5 25.85V26.35M451.5 26.35V26.85M454.5 26.35V26.85M454.5 33.85V34.35M455.5 33.85V34.35M456.5 34.35V34.85M457.5 26.35V26.85M460.5 26.35V26.85M460.5 34.35V34.85M461.5 33.85V34.35M463.5 26.85V27.35M464.5 33.85V34.35M466.5 33.85V34.35M467.5 26.35V26.85M470.5 25.85V26.35M472.5 26.35V26.85M473.5 26.35V26.85M473.5 33.85V34.35M478.5 34.35V34.85M479.5 33.85V34.35M480.5 34.35V34.85M483.5 26.35V26.85M492.5 26.35V26.85M493.5 25.85V26.35M494.5 26.35V26.85M494.5 33.85V34.35M496.5 26.35V26.85M497.5 33.85V34.35M502.5 33.85V34.35M504.5 33.85V34.35M508.5 33.35V33.85M509.5 26.35V26.85M509.5 33.85V34.35M512.5 33.85V34.35M513.5 33.35V33.85M514.5 26.35V26.85M516.5 34.35V34.85M517.5 33.85V34.35M518.5 26.35V26.85M520.5 34.35V34.85M523.5 26.35V26.85M525.5 26.35V26.85M526.5 33.85V34.35M527.5 33.85V34.35M530.5 33.85V34.35M531.5 33.85V34.35M533.5 26.35V26.85M538.5 33.35V33.85M539.5 34.35V34.85M540.5 26.35V26.85M540.5 33.85V34.35M541.5 33.85V34.35M544.5 25.85V26.35M545.5 26.35V26.85M548.5 33.35V33.85M552.5 34.35V34.85M553.5 26.35V26.85M554.5 26.35V26.85M555.5 26.35V26.85M556.5 34.35V34.85M558.5 33.85V34.35M565.5 33.85V34.35M566.5 26.35V26.85M568.5 26.35V26.85M569.5 26.35V26.85M570.5 25.85V26.35M571.5 34.35V34.85M573.5 34.35V34.85M574.5 25.35V25.85M575.5 26.35V26.85M576.5 33.85V34.35M578.5 34.35V34.85M582.5 26.35V26.85M582.5 34.35V34.85M585.5 33.35V33.85M587.5 33.85V34.35M588.5 33.35V33.85M589.5 26.35V26.85M593.5 25.85V26.35M598.5 26.85V27.35M603.5 34.35V34.85M604.5 26.35V26.85M604.5 33.85V34.35M606.5 33.85V34.35M609.5 26.35V26.85M612.5 26.35V26.85M613.5 33.85V34.35M615.5 34.35V34.85M623.5 25.85V26.35M623.5 33.85V34.35M624.5 26.35V26.85M627.5 33.85V34.35M628.5 33.85V34.35M629.5 34.35V34.85M631.5 34.35V34.85M633.5 33.85V34.35M639.5 25.85V26.35M641.5 25.85V26.35M641.5 33.85V34.35M642.5 26.35V26.85M643.5 33.85V34.35M646.5 33.85V34.35M647.5 33.85V34.35M651.5 25.85V26.35M652.5 25.85V26.35M652.5 34.35V34.85M653.5 26.85V27.35M655.5 33.85V34.35M658.5 33.85V34.35M659.5 26.35V26.85M660.5 26.85V27.35M663.5 34.35V34.85M664.5 33.85V34.35M665.5 34.35V34.85M666.5 33.85V34.35M668.5 25.85V26.35M668.5 34.35V34.85M669.5 26.35V26.85M672.5 34.35V34.85M675.5 33.85V34.35M676.5 25.85V26.35M677.5 25.85V26.35" stroke="#808080" stroke-opacity="0.25" fill="none"/>
<path d="M411.5 33.85V34.35M414.5 26.85V27.35M416.5 25.85V26.35M418.5 26.35V26.85M420.5 33.35V33.85M422.5 25.85V26.35M424.5 34.85V35.35M425.5 26.85V27.35M426.5 26.35V26.85M428.5 26.35V26.85M429.5 34.35V34.85M431.5 33.85V34.35M433.5 34.35V34.85M435.5 26.35V26.85M437.5 26.35V26.85M438.5 33.85V34.35M442.5 33.85V34.35M444.5 26.35V26.85M444.5 33.35V33.85M445.5 26.85V27.35M446.5 26.85V27.35M449.5 25.85V26.35M450.5 33.85V34.35M452.5 33.35V33.85M453.5 26.35V26.85M465.5 26.35V26.85M467.5 34.35V34.85M468.5 26.35V26.85M469.5 25.85V26.35M474.5 33.35V33.85M475.5 26.35V26.85M476.5 33.85V34.35M477.5 25.85V26.35M478.5 26.85V27.35M481.5 34.35V34.85M482.5 34.35V34.85M485.5 25.85V26.35M487.5 33.85V34.35M488.5 33.85V34.35M489.5 33.35V33.85M490.5 26.35V26.85M490.5 33.85V34.35M491.5 26.35V26.85M495.5 25.85V26.35M495.5 33.85V34.35M496.5 34.35V34.85M499.5 33.85V34.35M501.5 33.85V34.35M502.5 26.85V27.35M503.5 26.35V26.85M503.5 33.85V34.35M504.5 26.85V27.35M506.5 26.35V26.85M508.5 25.85V26.35M510.5 26.35V26.85M510.5 33.85V34.35M511.5 26.35V26.85M513.5 26.85V27.35M515.5 26.35V26.85M515.5 33.35V33.85M519.5 33.35V33.85M521.5 33.85V34.35M522.5 26.35V26.85M523.5 26.85V27.35M525.5 33.85V34.35M526.5 26.35V26.85M533.5 33.85V34.35M534.5 26.85V27.35M534.5 34.35V34.85M535.5 26.35V26.85M535.5 33.85V34.35M536.5 26.35V26.85M536.5 33.35V33.85M542.5 26.85V27.35M542.5 33.85V34.35M543.5 26.35V26.85M544.5 33.85V34.35M549.5 33.85V34.35M550.5 25.85V26.35M550.5 34.35V34.85M551.5 26.35V26.85M555.5 34.35V34.85M558.5 26.35V26.85M559.5 26.35V26.85M560.5 33.35V33.85M561.5 26.35V26.85M561.5 33.85V34.35M562.5 26.35V26.85M565.5 25.85V26.35M567.5 26.35V26.85M574.5 33.35V34.35M575.5 33.85V34.35M577.5 33.85V34.35M579.5 25.85V26.35M581.5 26.35V26.85M584.5 26.85V27.35M586.5 33.85V34.35M591.5 26.35V26.85M591.5 33.85V34.35M592.5 26.35V26.85M592.5 33.85V34.35M594.5 33.85V34.35M595.5 25.85V26.35M596.5 26.85V27.35M596.5 33.85V34.35M598.5 33.85V34.35M599.5 26.35V26.85M601.5 26.35V26.85M601.5 33.85V34.35M602.5 33.35V33.85M603.5 26.35V26.85M605.5 34.35V34.85M610.5 33.85V34.35M612.5 34.35V34.85M613.5 26.35V26.85M614.5 33.85V34.35M616.5 26.35V26.85M618.5 26.85V27.35M619.5 33.35V33.85M620.5 33.85V34.35M621.5 26.35V26.85M621.5 34.35V34.85M624.5 34.35V34.85M625.5 25.85V26.35M625.5 33.85V34.35M626.5 33.85V34.35M632.5 34.35V34.85M634.5 25.35V25.85M635.5 26.35V26.85M635.5 33.35V33.85M636.5 33.85V34.35M637.5 25.85V26.35M642.5 34.35V34.85M645.5 33.85V34.35M646.5 26.35V26.85M647.5 26.35V26.85M649.5 26.35V26.85M649.5 33.85V34.35M650.5 26.35V26.85M651.5 33.35V33.85M654.5 33.85V34.35M656.5 26.35V26.85M656.5 33.85V34.35M657.5 33.85V34.35M659.5 33.85V34.35M663.5 26.35V26.85M667.5 34.35V34.85M669.5 33.85V34.35M670.5 26.85V27.35M671.5 34.35V34.85M672.5 25.85V26.35M674.5 26.35V26.85M675.5 26.35V26.85" stroke="#808080" stroke-opacity="0.5" fill="none"/>
<path d="M408.5 24.35V24.85M408.5 35.35V35.85M409.5 35.35V35.85M410.5 33.85V34.35M411.5 33.35V33.85M412.5 26.35V26.85M412.5 33.85V34.35M413.5 26.35V26.85M414.5 33.85V34.35M415.5 26.85V27.35M415.5 33.35V33.85M416.5 26.35V27.35M418.5 33.35V33.85M419.5 26.85V27.35M419.5 33.85V34.35M421.5 33.35V33.85M422.5 26.35V27.35M422.5 33.35V34.35M423.5 26.85V27.35M423.5 33.35V33.85M424.5 26.35V26.85M424.5 33.85V34.85M426.5 33.85V34.35M427.5 26.85V27.35M427.5 33.35V33.85M428.5 33.85V34.35M429.5 26.85V27.35M429.5 33.35V34.35M430.5 26.85V27.35M430.5 33.85V34.35M431.5 33.35V33.85M432.5 33.35V33.85M433.5 33.85V34.35M434.5 33.35V33.85M436.5 33.35V34.35M437.5 33.35V33.85M438.5 26.35V26.85M439.5 26.35V27.35M439.5 33.85V34.35M440.5 26.35V26.85M440.5 33.85V34.35M441.5 33.85V34.35M443.5 26.35V27.35M445.5 33.85V34.35M446.5 33.35V33.85M447.5 33.85V34.35M448.5 26.85V27.35M452.5 25.85V26.85M453.5 33.85V34.35M454.5 26.85V27.35M454.5 33.35V33.85M455.5 25.85V26.85M455.5 33.35V33.85M456.5 26.85V27.35M457.5 33.85V34.35M458.5 26.35V26.85M459.5 26.85V27.35M459.5 33.35V33.85M460.5 33.85V34.35M461.5 26.35V26.85M462.5 33.85V34.35M464.5 33.35V33.85M465.5 26.85V27.35M466.5 26.35V26.85M466.5 33.35V33.85M467.5 33.85V34.35M468.5 26.85V27.35M468.5 33.85V34.35M469.5 26.35V26.85M469.5 33.35V33.85M470.5 26.35V26.85M470.5 33.85V34.35M471.5 33.35V33.85M472.5 26.85V27.35M474.5 26.35V26.85M475.5 26.85V27.35M475.5 33.85V34.35M476.5 26.85V27.35M476.5 33.35V33.85M477.5 26.35V26.85M477.5 33.85V34.35M478.5 33.85V34.35M479.5 26.85V27.35M480.5 26.85V27.35M480.5 33.85V34.35M481.5 26.85V27.35M481.5 33.85V34.35M482.5 26.85V27.35M482.5 33.85V34.35M483.5 33.85V34.35M484.5 26.35V26.85M484.5 33.85V34.35M485.5 33.35V33.85M486.5 26.35V26.85M487.5 26.35V27.35M488.5 26.35V26.85M488.5 33.35V33.85M489.5 26.35V26.85M491.5 26.85V27.35M491.5 33.85V34.35M492.5 26.85V27.35M492.5 33.85V34.35M493.5 26.35V26.85M494.5 33.35V33.85M495.5 26.35V26.85M496.5 26.85V27.35M496.5 33.85V34.35M497.5 33.35V33.85M498.5 26.35V26.85M499.5 26.85V27.35M500.5 26.35V26.85M500.5 33.85V34.35M501.5 26.85V27.35M505.5 26.85V27.35M506.5 33.35V33.85M507.5 27.35V27.85M507.5 33.35V33.85M508.5 26.35V26.85M510.5 33.35V33.85M511.5 33.85V34.35M514.5 34.35V34.85M515.5 26.85V27.35M516.5 26.85V27.35M516.5 33.85V34.35M517.5 26.35V26.85M518.5 33.35V33.85M519.5 26.35V26.85M522.5 33.85V34.35M523.5 33.35V33.85M524.5 26.35V26.85M526.5 33.35V33.85M527.5 26.85V27.35M528.5 26.35V26.85M528.5 33.85V34.35M529.5 33.35V33.85M530.5 33.35V33.85M531.5 26.85V27.35M532.5 26.85V27.35M533.5 33.35V33.85M534.5 33.35V34.35M535.5 26.85V27.35M537.5 26.35V26.85M537.5 33.85V34.35M539.5 26.85V27.35M541.5 26.35V26.85M541.5 33.35V33.85M543.5 34.35V34.85M544.5 33.35V33.85M546.5 26.85V27.35M546.5 33.35V33.85M547.5 26.85V27.35M548.5 26.85V27.35M549.5 26.35V26.85M551.5 33.35V33.85M552.5 26.35V26.85M552.5 33.85V34.35M553.5 26.85V27.35M553.5 33.85V34.35M554.5 26.85V27.35M554.5 33.85V34.35M555.5 33.85V34.35M556.5 26.35V26.85M556.5 33.85V34.35M558.5 33.35V33.85M559.5 33.85V34.35M563.5 33.35V33.85M564.5 33.85V34.35M566.5 26.85V27.35M567.5 33.85V34.35M568.5 26.85V27.35M569.5 33.85V34.35M570.5 26.35V27.35M570.5 33.85V34.35M571.5 33.35V34.35M572.5 33.85V34.35M573.5 26.85V27.35M573.5 33.85V34.35M574.5 25.85V26.85M576.5 26.85V27.35M577.5 26.85V27.35M578.5 26.35V26.85M578.5 33.85V34.35M579.5 26.35V26.85M580.5 26.85V27.35M582.5 33.35V34.35M583.5 33.85V34.35M584.5 33.85V35.35M585.5 26.85V27.35M586.5 27.35V27.85M587.5 26.85V27.35M588.5 26.85V27.35M589.5 33.85V34.35M593.5 26.35V26.85M593.5 33.35V33.85M594.5 26.85V27.35M594.5 33.35V33.85M595.5 26.35V26.85M595.5 33.85V34.35M597.5 33.35V33.85M599.5 33.35V33.85M600.5 33.85V34.35M601.5 33.35V33.85M603.5 33.85V34.35M604.5 33.35V33.85M605.5 26.35V26.85M606.5 26.85V27.35M607.5 26.85V27.35M608.5 26.35V26.85M609.5 33.85V34.35M611.5 26.85V27.35M611.5 33.35V33.85M615.5 33.85V34.35M616.5 33.35V33.85M617.5 26.35V26.85M617.5 33.85V34.35M620.5 26.35V26.85M621.5 33.85V34.35M622.5 33.85V34.35M624.5 26.85V27.35M625.5 26.35V27.35M627.5 26.35V26.85M628.5 26.85V27.35M629.5 26.35V26.85M629.5 33.85V34.35M630.5 33.35V33.85M631.5 26.35V26.85M631.5 33.85V34.35M633.5 26.35V26.85M634.5 25.85V26.85M634.5 33.85V34.35M636.5 25.85V26.85M637.5 26.35V27.35M639.5 26.35V26.85M639.5 33.85V34.35M640.5 33.85V34.35M643.5 26.35V26.85M644.5 26.85V27.35M644.5 33.35V33.85M645.5 26.35V27.35M645.5 33.35V33.85M648.5 26.35V26.85M648.5 33.85V34.35M650.5 33.85V34.35M651.5 26.35V26.85M652.5 26.35V26.85M652.5 33.85V34.35M653.5 33.35V33.85M654.5 26.35V26.85M655.5 26.85V27.35M660.5 33.85V34.35M661.5 33.85V34.35M662.5 26.35V26.85M662.5 33.85V34.35M663.5 26.85V27.35M663.5 33.85V34.35M665.5 26.35V26.85M665.5 33.35V34.35M666.5 26.85V27.35M667.5 26.35V26.85M668.5 26.35V26.85M671.5 26.85V27.35M671.5 33.85V34.35M672.5 26.35V26.85M673.5 26.35V26.85M673.5 33.35V33.85M674.5 33.35V33.85M675.5 26.85V27.35M676.5 26.35V26.85M676.5 33.35V33.85M677.5 26.35V26.85M677.5 33.85V34.35" stroke="#808080" stroke-opacity="0.75" fill="none"/>
<path d="M407.5 25.85V35.85M408.5 24.85V35.35M409.5 25.85V35.35M410.5 26.85V33.85M411.5 26.85V33.35M412.5 26.85V33.85M413.5 26.85V34.35M414.5 27.35V33.85M415.5 27.35V33.35M416.5 27.35V33.85M417.5 26.85V33.35M418.5 26.85V33.35M419.5 27.35V33.85M420.5 26.85V33.35M421.5 26.85V33.35M422.5 27.35V33.35M423.5 27.35V33.35M424.5 26.85V33.85M425.5 27.35V33.85M426.5 26.85V33.85M427.5 27.35V33.35M428.5 26.85V33.85M429.5 27.35V33.35M430.5 27.35V33.85M431.5 26.85V33.35M432.5 27.35V33.35M433.5 26.85V33.85M434.5 26.85V33.35M435.5 26.85V33.85M436.5 26.85V33.35M437.5 26.85V33.35M438.5 26.85V33.85M439.5 27.35V33.85M440.5 26.85V33.85M441.5 26.85V33.85M442.5 26.85V33.85M443.5 27.35V33.85M444.5 26.85V33.35M445.5 27.35V33.85M446.5 27.35V33.35M447.5 26.85V33.85M448.5 27.35V33.35M449.5 26.35V33.85M450.5 26.35V33.85M451.5 26.85V33.85M452.5 26.85V33.35M453.5 26.85V33.85M454.5 27.35V33.35M455.5 26.85V33.35M456.5 27.35V34.35M457.5 26.85V33.85M458.5 26.85V33.85M459.5 27.35V33.35M460.5 26.85V33.85M461.5 26.85V33.85M462.5 26.35V33.85M463.5 27.35V33.85M464.5 26.85V33.35M465.5 27.35V33.85M466.5 26.85V33.35M467.5 26.85V33.85M468.5 27.35V33.85M469.5 26.85V33.35M470.5 26.85V33.85M471.5 27.35V33.35M472.5 27.35V33.85M473.5 26.85V33.85M474.5 26.85V33.35M475.5 27.35V33.85M476.5 27.35V33.35M477.5 26.85V33.85M478.5 27.35V33.85M479.5 27.35V33.85M480.5 27.35V33.85M481.5 27.35V33.85M482.5 27.35V33.85M483.5 26.85V33.85M484.5 26.85V33.85M485.5 26.35V33.35M486.5 26.85V33.85M487.5 27.35V33.85M488.5 26.85V33.35M489.5 26.85V33.35M490.5 26.85V33.85M491.5 27.35V33.85M492.5 27.35V33.85M493.5 26.85V33.85M494.5 26.85V33.35M495.5 26.85V33.85M496.5 27.35V33.85M497.5 26.85V33.35M498.5 26.85V33.85M499.5 27.35V33.85M500.5 26.85V33.85M501.5 27.35V33.85M502.5 27.35V33.85M503.5 26.85V33.85M504.5 27.35V33.85M505.5 27.35V33.85M506.5 26.85V33.35M507.5 27.85V33.35M508.5 26.85V33.35M509.5 26.85V33.85M510.5 26.85V33.35M511.5 26.85V33.85M512.5 26.85V33.85M513.5 27.35V33.35M514.5 26.85V34.35M515.5 27.35V33.35M516.5 27.35V33.85M517.5 26.85V33.85M518.5 26.85V33.35M519.5 26.85V33.35M520.5 26.85V34.35M521.5 26.85V33.85M522.5 26.85V33.85M523.5 27.35V33.35M524.5 26.85V33.85M525.5 26.85V33.85M526.5 26.85V33.35M527.5 27.35V33.85M528.5 26.85V33.85M529.5 26.85V33.35M530.5 27.35V33.35M531.5 27.35V33.85M532.5 27.35V33.85M533.5 26.85V33.35M534.5 27.35V33.35M535.5 27.35V33.85M536.5 26.85V33.35M537.5 26.85V33.85M538.5 26.85V33.35M539.5 27.35V34.35M540.5 26.85V33.85M541.5 26.85V33.35M542.5 27.35V33.85M543.5 26.85V34.35M544.5 26.35V33.35M545.5 26.85V33.85M546.5 27.35V33.35M547.5 27.35V33.85M548.5 27.35V33.35M549.5 26.85V33.85M550.5 26.35V34.35M551.5 26.85V33.35M552.5 26.85V33.85M553.5 27.35V33.85M554.5 27.35V33.85M555.5 26.85V33.85M556.5 26.85V33.85M557.5 26.85V33.85M558.5 26.85V33.35M559.5 26.85V33.85M560.5 26.85V33.35M561.5 26.85V33.85M562.5 26.85V34.35M563.5 26.85V33.35M564.5 26.35V33.85M565.5 26.35V33.85M566.5 27.35V33.85M567.5 26.85V33.85M568.5 27.35V33.85M569.5 26.85V33.85M570.5 27.35V33.85M571.5 26.85V33.35M572.5 26.85V33.85M573.5 27.35V33.85M574.5 26.85V33.35M575.5 26.85V33.85M576.5 27.35V33.85M577.5 27.35V33.85M578.5 26.85V33.85M579.5 26.85V33.85M580.5 27.35V34.35M581.5 26.85V33.85M582.5 26.85V33.35M583.5 26.85V33.85M584.5 27.35V33.85M585.5 27.35V33.35M586.5 27.85V33.85M587.5 27.35V33.85M588.5 27.35V33.35M589.5 26.85V33.85M590.5 26.85V33.85M591.5 26.85V33.85M592.5 26.85V33.85M593.5 26.85V33.35M594.5 27.35V33.35M595.5 26.85V33.85M596.5 27.35V33.85M597.5 26.85V33.35M598.5 27.35V33.85M599.5 26.85V33.35M600.5 26.85V33.85M601.5 26.85V33.35M602.5 26.85V33.35M603.5 26.85V33.85M604.5 26.85V33.35M605.5 26.85V34.35M606.5 27.35V33.85M607.5 27.35V33.85M608.5 26.85V33.35M609.5 26.85V33.85M610.5 26.85V33.85M611.5 27.35V33.35M612.5 26.85V34.35M613.5 26.85V33.85M614.5 27.35V33.85M615.5 27.35V33.85M616.5 26.85V33.35M617.5 26.85V33.85M618.5 27.35V33.85M619.5 26.85V33.35M620.5 26.85V33.85M621.5 26.85V33.85M622.5 26.85V33.85M623.5 26.35V33.85M624.5 27.35V34.35M625.5 27.35V33.85M626.5 26.85V33.85M627.5 26.85V33.85M628.5 27.35V33.85M629.5 26.85V33.85M630.5 26.85V33.35M631.5 26.85V33.85M632.5 26.85V34.35M633.5 26.85V33.85M634.5 26.85V33.85M635.5 26.85V33.35M636.5 26.85V33.85M637.5 27.35V33.85M638.5 26.85V33.85M639.5 26.85V33.85M640.5 26.85V33.85M641.5 26.35V33.85M642.5 26.85V34.35M643.5 26.85V33.85M644.5 27.35V33.35M645.5 27.35V33.35M646.5 26.85V33.85M647.5 26.85V33.85M648.5 26.85V33.85M649.5 26.85V33.85M650.5 26.85V33.85M651.5 26.85V33.35M652.5 26.85V33.85M653.5 27.35V33.35M654.5 26.85V33.85M655.5 27.35V33.85M656.5 26.85V33.85M657.5 26.85V33.85M658.5 26.85V33.85M659.5 26.85V33.85M660.5 27.35V33.85M661.5 26.85V33.85M662.5 26.85V33.85M663.5 27.35V33.85M664.5 26.85V33.85M665.5 26.85V33.35M666.5 27.35V33.85M667.5 26.85V34.35M668.5 26.85V34.35M669.5 26.85V33.85M670.5 27.35V33.85M671.5 27.35V33.85M672.5 26.85V34.35M673.5 26.85V33.35M674.5 26.85V33.35M675.5 27.35V33.85M676.5 26.85V33.35M677.5 26.85V33.85" stroke="#808080" stroke-opacity="1.0" fill="none"/>
<text x="403.9" y="4.95" font-size="6.7" text-anchor="end" class="t">2000</text>
<text x="403.9" y="32.98" font-size="6.7" text-anchor="end" class="t">0</text>
<text x="403.9" y="61.9" font-size="6.7" text-anchor="end" class="t">-2000</text>
<text x="407.1" y="68.5" font-size="6.7" text-anchor="middle" class="t">0</text>
<text x="452.45" y="68.5" font-size="6.7" text-anchor="middle" class="t">50</text>
<text x="497.8" y="68.5" font-size="6.7" text-anchor="middle" class="t">100</text>
<text x="543.15" y="68.5" font-size="6.7" text-anchor="middle" class="t">150</text>
<text x="588.5" y="68.5" font-size="6.7" text-anchor="middle" class="t">200</text>
<text x="633.85" y="68.5" font-size="6.7" text-anchor="middle" class="t">250</text>
<text x="679.2" y="68.5" font-size="6.7" text-anchor="middle" class="t">300</text>
<rect x="609.5" y="6.2" width="62.2" height="10.2" fill="#fff" stroke="#555555" stroke-width="0.8"/>
<path d="M612.1 11.5H637.1" stroke="#808080" stroke-width="0.8"/>
<text x="669.4" y="14" font-size="6.75" text-anchor="end" class="t">SF-NoRFI</text>
<rect x="406.5" y="81.5" width="272.1" height="56.2" fill="none" stroke="#4a4a4a" stroke-width="0.9"/>
<path d="M406.5 137.7v-2.6M406.5 81.5v2.6M451.85 137.7v-2.6M451.85 81.5v2.6M497.2 137.7v-2.6M497.2 81.5v2.6M542.55 137.7v-2.6M542.55 81.5v2.6M587.9 137.7v-2.6M587.9 81.5v2.6M633.25 137.7v-2.6M633.25 81.5v2.6M678.6 137.7v-2.6M678.6 81.5v2.6M406.5 81.5h2.6M678.6 81.5h-2.6M406.5 109.6h2.6M678.6 109.6h-2.6M406.5 137.7h2.6M678.6 137.7h-2.6" stroke="#4a4a4a" stroke-width="0.8" fill="none"/>
<path d="M407.5 130.5V131M408.5 130.5V131M409.5 130.5V131M410.5 89V91.5M410.5 124.5V125M411.5 92V96.5M412.5 91.5V92M412.5 124.5V125M413.5 130.5V131M414.5 89V91.5M415.5 92V96M415.5 125V125.5M417.5 92V92.5M418.5 93V98.5M419.5 130.5V131M420.5 130.5V131M421.5 89V92M421.5 124.5V125M422.5 92.5V97M423.5 124.5V125M424.5 130.5V131M425.5 130.5V131M426.5 89V91.5M427.5 92V96M429.5 130.5V131M430.5 130.5V131M431.5 89V91M431.5 128V128.5M432.5 92V95.5M433.5 91V91.5M433.5 128V128.5M434.5 130.5V131M435.5 89V91.5M435.5 124V124.5M436.5 92V96.5M437.5 91.5V92M437.5 124V124.5M438.5 130.5V131M439.5 130.5V131M440.5 130.5V131M441.5 125.5V126M442.5 89V91.5M443.5 92V96M443.5 125.5V126M444.5 130.5V131M445.5 124.5V125M446.5 89V95M446.5 115.5V116M447.5 95.5V104.5M447.5 124.5V125M448.5 124V124.5M449.5 95.5V96M450.5 130.5V131M451.5 130.5V131M452.5 130.5V131M453.5 89V93M454.5 93.5V99.5M457.5 93.5V99.5M459.5 130.5V131M460.5 89V91.5M461.5 92.5V96.5M461.5 117.5V118M462.5 91.5V92M463.5 130.5V131M464.5 130.5V131M465.5 130.5V131M466.5 89V93.5M467.5 94V101M467.5 121V121.5M469.5 130.5V131M470.5 130.5V131M471.5 89V91.5M471.5 124V124.5M472.5 92V95.5M473.5 124V124.5M474.5 130.5V131M475.5 130.5V131M476.5 89V93.5M477.5 94V101M479.5 130.5V131M480.5 89V92.5M480.5 124.5V125M481.5 93V99M482.5 92.5V93M482.5 124.5V125M483.5 130.5V131M484.5 89V92.5M485.5 93.5V99.5M487.5 130.5V131M488.5 130.5V131M489.5 89V93.5M489.5 126V126.5M490.5 94.5V102M491.5 93.5V94M491.5 126V126.5M492.5 130.5V131M493.5 89V95M493.5 126.5V127M494.5 95.5V104.5M495.5 126.5V127M496.5 130.5V131M497.5 89V93M498.5 93.5V99.5M500.5 130.5V131M501.5 130.5V131M503.5 89V92M503.5 121.5V122M504.5 92.5V97.5M505.5 92V92.5M505.5 130.5V131M506.5 90.5V91M506.5 130.5V131M507.5 91V94M508.5 90.5V91M510.5 130.5V131M511.5 130.5V131M512.5 130.5V131M513.5 89V92M513.5 126.5V127M514.5 92.5V97M515.5 126.5V127M516.5 130.5V131M517.5 130.5V131M518.5 89V92.5M519.5 93.5V99.5M521.5 130.5V131M522.5 130.5V131M523.5 89V92.5M524.5 93V98.5M524.5 125V125.5M526.5 130.5V131M527.5 130.5V131M528.5 130.5V131M529.5 89V95M529.5 127V127.5M530.5 95.5V105M530.5 122V122.5M531.5 95V95.5M531.5 127V127.5M532.5 130.5V131M533.5 89V92.5M533.5 124.5V125M534.5 93V99M535.5 93V93.5M535.5 124.5V125M536.5 93.5V100M537.5 93V93.5M539.5 130.5V131M540.5 130.5V131M541.5 130.5V131M542.5 89V91.5M542.5 130.5V131M543.5 92V96.5M544.5 91.5V92M546.5 89V94.5M546.5 119V119.5M547.5 95V103.5M548.5 130.5V131M549.5 126V126.5M550.5 89V93M550.5 119V119.5M551.5 93.5V100M551.5 126V126.5M552.5 130.5V131M553.5 130.5V131M554.5 89V94M554.5 130.5V131M555.5 94.5V102M555.5 127V127.5M557.5 127V127.5M558.5 130.5V131M559.5 130.5V131M560.5 89V91M561.5 91.5V95M563.5 130.5V131M564.5 130.5V131M565.5 130.5V131M566.5 89V94.5M567.5 95V103.5M569.5 124V124.5M570.5 89V93.5M571.5 94.5V102M571.5 124V124.5M572.5 130.5V131M573.5 94V94.5M574.5 94.5V103M575.5 94V94.5M577.5 89V91.5M577.5 119.5V120M578.5 92V96M579.5 130.5V131M580.5 130.5V131M581.5 130.5V131M582.5 130.5V131M583.5 89V91M584.5 92V95.5M585.5 91V91.5M586.5 130.5V131M587.5 130.5V131M588.5 89V94M588.5 125V125.5M589.5 94.5V102.5M590.5 125V125.5M591.5 130.5V131M592.5 89V92.5M592.5 127.5V128M593.5 93V98.5M594.5 127.5V128M595.5 130.5V131M596.5 89V94M596.5 127.5V128M597.5 94.5V102M597.5 123V123.5M598.5 125.5V126M600.5 94.5V102M600.5 125.5V126M601.5 130.5V131M602.5 130.5V131M603.5 130.5V131M604.5 130.5V131M605.5 89V91M606.5 91.5V94.5M606.5 122.5V123M607.5 124V124.5M608.5 91.5V94M609.5 94.5V103M609.5 124V124.5M610.5 94V94.5M610.5 130.5V131M611.5 130.5V131M612.5 130.5V131M613.5 89V91.5M613.5 127V127.5M614.5 92V95.5M615.5 127V127.5M616.5 130.5V131M617.5 130.5V131M618.5 89V92.5M618.5 128V128.5M619.5 93V99M619.5 124.5V125M620.5 92.5V93M620.5 128V128.5M621.5 130.5V131M622.5 130.5V131M623.5 89V93.5M623.5 126V126.5M624.5 94V101.5M625.5 93.5V94M625.5 126V126.5M627.5 94.5V102.5M628.5 94V94.5M630.5 89V93.5M630.5 123.5V124M631.5 94V101.5M632.5 93.5V94M632.5 130.5V131M633.5 94V95M633.5 130.5V131M634.5 95.5V104.5M634.5 126.5V127M636.5 126.5V127M637.5 130.5V131M638.5 89V95M638.5 127.5V128M639.5 95.5V104.5M640.5 127.5V128M641.5 130.5V131M642.5 130.5V131M643.5 89V91M644.5 91.5V95.5M644.5 122.5V123M645.5 91V91.5M646.5 130.5V131M647.5 130.5V131M648.5 89V93.5M648.5 124.5V125M649.5 94V101M649.5 115.5V116M650.5 124.5V125M651.5 130.5V131M652.5 130.5V131M653.5 130.5V131M654.5 89V93.5M655.5 94V101M655.5 119V119.5M657.5 130.5V131M658.5 89V95M658.5 128V128.5M659.5 95.5V105M660.5 128V128.5M661.5 130.5V131M662.5 130.5V131M663.5 89V90.5M663.5 130.5V131M664.5 91V93.5M667.5 89V92M667.5 125V125.5M668.5 93V98M669.5 125V125.5M670.5 130.5V131M671.5 89V91M672.5 91.5V95.5M673.5 91V91.5M674.5 130.5V131M675.5 89V94M676.5 94.5V102" stroke="#ff0000" stroke-opacity="0.25" fill="none"/>
<path d="M407.5 88.5V89M407.5 130V130.5M408.5 88.5V89M408.5 130V130.5M409.5 88.5V89M409.5 130V130.5M410.5 91.5V92M412.5 92V92.5M413.5 88.5V89M413.5 130V130.5M414.5 91.5V92M414.5 128V128.5M415.5 96V96.5M416.5 91.5V92M416.5 126.5V127M418.5 98.5V99M418.5 126.5V127M419.5 92.5V93M419.5 130V130.5M420.5 88.5V89M420.5 130V130.5M422.5 97V97.5M423.5 92V92.5M424.5 88.5V89M424.5 130V130.5M425.5 88.5V89M425.5 130V130.5M426.5 91.5V92M426.5 125.5V126M427.5 96V96.5M427.5 118.5V119M428.5 91.5V92M428.5 125.5V126M429.5 88.5V89M429.5 130V130.5M430.5 88.5V89M430.5 130V130.5M431.5 91V91.5M432.5 95.5V96M432.5 124V124.5M433.5 91.5V92M434.5 88.5V89M434.5 130V130.5M435.5 91.5V92M436.5 96.5V97M436.5 114V114.5M437.5 92V92.5M438.5 88.5V89M438.5 130V130.5M439.5 88.5V89M439.5 130V130.5M440.5 88.5V89M440.5 130V130.5M441.5 88.5V89M444.5 91.5V92M444.5 130V130.5M445.5 88.5V89M448.5 95V95.5M449.5 127.5V128M450.5 91.5V92M450.5 130V130.5M451.5 88.5V89M451.5 130V130.5M452.5 88.5V89M452.5 130V130.5M453.5 124.5V125M454.5 99.5V100M455.5 93V93.5M455.5 124.5V125M456.5 93V93.5M456.5 124.5V125M457.5 99.5V100M458.5 93V93.5M458.5 124.5V125M459.5 88.5V89M459.5 130V130.5M460.5 91.5V92M460.5 125V125.5M461.5 96.5V97M462.5 92V92.5M462.5 125V125.5M463.5 88.5V89M463.5 130V130.5M464.5 88.5V89M464.5 130V130.5M465.5 88.5V89M465.5 130V130.5M466.5 93.5V94M466.5 126.5V127M467.5 101V101.5M468.5 93.5V94M468.5 126.5V127M469.5 88.5V89M469.5 130V130.5M470.5 88.5V89M470.5 130V130.5M472.5 95.5V96M472.5 114V114.5M473.5 91.5V92M474.5 88.5V89M474.5 130V130.5M475.5 88.5V89M475.5 130V130.5M476.5 93.5V94M476.5 123.5V124M477.5 101V101.5M478.5 93.5V94M478.5 123.5V124M479.5 88.5V89M479.5 130V130.5M480.5 92.5V93M481.5 99V99.5M482.5 93V93.5M483.5 88.5V89M483.5 130V130.5M484.5 92.5V93M484.5 124V124.5M486.5 93V93.5M486.5 124V124.5M487.5 88.5V89M487.5 130V130.5M488.5 88.5V89M488.5 130V130.5M489.5 93.5V94M490.5 119V119.5M491.5 94V94.5M492.5 88.5V89M492.5 130V130.5M494.5 104.5V105M494.5 120.5V121M495.5 95V95.5M496.5 88.5V89M496.5 130V130.5M497.5 124.5V125M498.5 99.5V100M498.5 116V116.5M499.5 93V93.5M499.5 124.5V125M500.5 88.5V89M500.5 130V130.5M501.5 88.5V89M501.5 130V130.5M502.5 88.5V89M502.5 126.5V127M503.5 92V92.5M504.5 97.5V98M504.5 126.5V127M505.5 92.5V93M505.5 130V130.5M506.5 91V91.5M506.5 130V130.5M507.5 94V94.5M507.5 127.5V128M508.5 91V91.5M509.5 88.5V89M509.5 127.5V128M510.5 88.5V89M510.5 130V130.5M511.5 88.5V89M511.5 130V130.5M512.5 88.5V89M512.5 130V130.5M513.5 126V126.5M514.5 97V97.5M514.5 120V120.5M515.5 92V92.5M515.5 126V126.5M516.5 88.5V89M516.5 130V130.5M517.5 88.5V89M517.5 130V130.5M518.5 92.5V93M518.5 127V127.5M519.5 122.5V123M520.5 93V93.5M520.5 127V127.5M521.5 88.5V89M521.5 130V130.5M522.5 88.5V89M522.5 130V130.5M523.5 128V128.5M525.5 92.5V93M525.5 128V128.5M526.5 88.5V89M526.5 130V130.5M527.5 88.5V89M527.5 130V130.5M528.5 88.5V89M528.5 130V130.5M529.5 95V95.5M530.5 105V105.5M532.5 88.5V89M532.5 130V130.5M533.5 92.5V93M534.5 99V99.5M536.5 100V100.5M536.5 123.5V124M538.5 88.5V89M538.5 123.5V124M539.5 88.5V89M539.5 130V130.5M540.5 88.5V89M540.5 130V130.5M541.5 88.5V89M541.5 130V130.5M542.5 91.5V92M542.5 130V130.5M543.5 96.5V97M543.5 123.5V124M544.5 92V92.5M545.5 88.5V89M545.5 123.5V124M546.5 94.5V95M547.5 103.5V104M547.5 125.5V126M548.5 94.5V95M548.5 130V130.5M549.5 88.5V89M549.5 125.5V126M550.5 93V93.5M551.5 125.5V126M552.5 93V93.5M552.5 130V130.5M553.5 88.5V89M553.5 130V130.5M554.5 130V130.5M555.5 102V102.5M556.5 94V94.5M557.5 88.5V89M558.5 88.5V89M558.5 130V130.5M559.5 88.5V89M559.5 130V130.5M560.5 91V91.5M560.5 127V127.5M561.5 95V95.5M562.5 91V92M562.5 127V127.5M563.5 88.5V89M563.5 130V130.5M564.5 88.5V89M564.5 130V130.5M565.5 88.5V89M565.5 130V130.5M566.5 125.5V126M568.5 94.5V95M568.5 125.5V126M569.5 88.5V89M570.5 93.5V94M572.5 94V94.5M572.5 130V130.5M573.5 123.5V124M575.5 94.5V95M575.5 123.5V124M576.5 88.5V89M576.5 126V126.5M578.5 126V126.5M579.5 91.5V92M579.5 130V130.5M580.5 88.5V89M580.5 130V130.5M581.5 88.5V89M581.5 130V130.5M582.5 88.5V89M582.5 130V130.5M583.5 91V91.5M583.5 127.5V128M584.5 95.5V96M584.5 123.5V124M585.5 91.5V92M585.5 127.5V128M586.5 88.5V89M586.5 130V130.5M587.5 88.5V89M587.5 130V130.5M588.5 94V94.5M590.5 94V94.5M591.5 88.5V89M591.5 130V130.5M593.5 123V123.5M594.5 92.5V93M595.5 88.5V89M595.5 130V130.5M597.5 102V102.5M598.5 94V94.5M599.5 94V94.5M599.5 118V118.5M600.5 102V102.5M601.5 94V94.5M601.5 130V130.5M602.5 88.5V89M602.5 130V130.5M603.5 88.5V89M603.5 130V130.5M604.5 88.5V89M604.5 130V130.5M605.5 127V127.5M607.5 91V91.5M608.5 94V94.5M608.5 114.5V115M610.5 94.5V95M610.5 130V130.5M611.5 88.5V89M611.5 130V130.5M612.5 88.5V89M612.5 130V130.5M614.5 95.5V96M614.5 121.5V122M615.5 91.5V92M616.5 88.5V89M616.5 130V130.5M617.5 88.5V89M617.5 130V130.5M618.5 92.5V93M619.5 99V99.5M620.5 93V93.5M621.5 88.5V89M621.5 130V130.5M622.5 88.5V89M622.5 130V130.5M623.5 93.5V94M624.5 119V119.5M625.5 94V94.5M626.5 94V94.5M626.5 125.5V126M627.5 102.5V103M627.5 118.5V119M628.5 125.5V126M629.5 88.5V89M629.5 127.5V128M630.5 93.5V94M631.5 101.5V102M631.5 127.5V128M632.5 94V94.5M632.5 130V130.5M633.5 130V130.5M635.5 95V95.5M635.5 120.5V121M636.5 88.5V89M637.5 88.5V89M637.5 130V130.5M639.5 123V123.5M640.5 95V95.5M641.5 88.5V89M641.5 130V130.5M642.5 88.5V89M642.5 130V130.5M643.5 91V91.5M643.5 127V127.5M645.5 91.5V92M645.5 127V127.5M646.5 88.5V89M646.5 130V130.5M647.5 88.5V89M647.5 130V130.5M648.5 93.5V94M649.5 101V101.5M650.5 93.5V94M651.5 88.5V89M651.5 130V130.5M652.5 88.5V89M652.5 130V130.5M653.5 88.5V89M653.5 130V130.5M654.5 125.5V126M656.5 93.5V94M656.5 125.5V126M657.5 88.5V89M657.5 130V130.5M658.5 95V95.5M659.5 124V124.5M660.5 95V95.5M661.5 88.5V89M661.5 130V130.5M662.5 88.5V89M662.5 130V130.5M663.5 90.5V91M663.5 130V130.5M664.5 93.5V94M664.5 123.5V124M665.5 90.5V91.5M665.5 113.5V114M666.5 88.5V89M666.5 123.5V124M667.5 92V92.5M668.5 98V98.5M668.5 116.5V117M669.5 92.5V93M670.5 88.5V89M670.5 130V130.5M671.5 91V91.5M671.5 124V124.5M672.5 115V115.5M673.5 91.5V92M673.5 124V124.5M674.5 88.5V89M674.5 130V130.5M675.5 124.5V125M677.5 94V94.5M677.5 124.5V125" stroke="#ff0000" stroke-opacity="0.5" fill="none"/>
<path d="M407.5 89V90M407.5 129.5V130M408.5 89V90M408.5 129.5V130M409.5 89V90M409.5 129.5V130M410.5 92V93M410.5 124V124.5M411.5 96.5V97.5M411.5 115.5V116M412.5 92.5V93M412.5 124V124.5M413.5 89V90M413.5 129.5V130M414.5 92V92.5M414.5 127.5V128M415.5 96.5V97M415.5 124V125M416.5 92V93M416.5 125.5V126.5M417.5 92.5V93.5M417.5 120.5V121M418.5 99V99.5M418.5 125.5V126.5M419.5 93V94M419.5 129.5V130M420.5 89V90M420.5 129.5V130M421.5 92V93M421.5 123.5V124.5M422.5 97.5V98M422.5 115V115.5M423.5 92.5V93.5M423.5 123.5V124.5M424.5 89V90M424.5 129.5V130M425.5 89V90M425.5 129.5V130M426.5 92V92.5M426.5 125V125.5M427.5 96.5V97M428.5 92V93M428.5 125V125.5M429.5 89V90M429.5 129.5V130M430.5 89V90M430.5 129.5V130M431.5 91.5V92.5M431.5 127V128M432.5 96V96.5M432.5 123.5V124M433.5 92V92.5M433.5 127V128M434.5 89V90M434.5 129.5V130M435.5 92V93M435.5 123V124M436.5 97V97.5M437.5 92.5V93M437.5 123V124M438.5 89V90M438.5 129.5V130M439.5 89V90M439.5 129.5V130M440.5 89V90M440.5 129.5V130M441.5 89V90M441.5 124.5V125.5M442.5 91.5V92.5M442.5 117.5V118M443.5 96V97M443.5 124.5V125.5M444.5 92V93M444.5 129.5V130M445.5 89V90M445.5 123.5V124.5M446.5 95V96M447.5 104.5V105M447.5 123.5V124.5M448.5 95.5V96M448.5 123.5V124M449.5 96V97M449.5 127V127.5M450.5 92V93M450.5 129.5V130M451.5 89V90M451.5 129.5V130M452.5 89V90M452.5 129.5V130M453.5 93V94M453.5 124V124.5M454.5 100V100.5M454.5 115.5V116M455.5 93.5V94M455.5 124V124.5M456.5 93.5V94M456.5 124V124.5M457.5 100V100.5M457.5 116V116.5M458.5 93.5V94.5M458.5 124V124.5M459.5 89V90M459.5 129.5V130M460.5 92V93M460.5 124.5V125M461.5 97V97.5M461.5 117V117.5M462.5 92.5V93M462.5 124.5V125M463.5 89V90M463.5 129.5V130M464.5 89V90M464.5 129.5V130M465.5 89V90M465.5 129.5V130M466.5 94V94.5M466.5 126V126.5M467.5 101.5V102M467.5 120.5V121M468.5 94V95M468.5 126V126.5M469.5 89V90M469.5 129.5V130M470.5 89V90M470.5 129.5V130M471.5 91.5V92.5M471.5 123V124M472.5 96V96.5M473.5 92V93M473.5 123V124M474.5 89V90M474.5 129.5V130M475.5 89V90M475.5 129.5V130M476.5 94V94.5M476.5 123V123.5M477.5 101.5V102M478.5 94V95M478.5 123V123.5M479.5 89V90M479.5 129.5V130M480.5 93V94M480.5 124V124.5M481.5 99.5V100M481.5 115.5V116M482.5 93.5V94M482.5 124V124.5M483.5 89V90M483.5 129.5V130M484.5 93V94M484.5 123.5V124M485.5 99.5V100M485.5 114.5V115M486.5 93.5V94M486.5 123.5V124M487.5 89V90M487.5 129.5V130M488.5 89V90M488.5 129.5V130M489.5 94V95M489.5 125V126M490.5 102V102.5M491.5 94.5V95M491.5 125V126M492.5 89V90M492.5 129.5V130M493.5 95V96M493.5 125.5V126.5M494.5 120V120.5M495.5 95.5V96M495.5 125.5V126.5M496.5 89V90M496.5 129.5V130M497.5 93V94M497.5 124V124.5M498.5 100V100.5M499.5 93.5V94.5M499.5 124V124.5M500.5 89V90M500.5 129.5V130M501.5 89V90M501.5 129.5V130M502.5 89V90M502.5 126V126.5M503.5 92.5V93.5M503.5 121V121.5M504.5 98V98.5M504.5 126V126.5M505.5 93V93.5M505.5 129.5V130M506.5 91.5V92M506.5 129.5V130M507.5 94.5V95M507.5 127V127.5M508.5 91.5V92M508.5 123V124M509.5 89V90M509.5 127V127.5M510.5 89V90M510.5 129.5V130M511.5 89V90M511.5 129.5V130M512.5 89V90M512.5 129.5V130M513.5 92V93M513.5 125.5V126M514.5 97.5V98M515.5 92.5V93.5M515.5 125.5V126M516.5 89V90M516.5 129.5V130M517.5 89V90M517.5 129.5V130M518.5 93V94M518.5 126.5V127M519.5 99.5V100M519.5 122V122.5M520.5 93.5V94M520.5 126.5V127M521.5 89V90M521.5 129.5V130M522.5 89V90M522.5 129.5V130M523.5 92.5V93.5M523.5 127.5V128M524.5 98.5V99.5M524.5 124V125M525.5 93V94M525.5 127.5V128M526.5 89V90M526.5 129.5V130M527.5 89V90M527.5 129.5V130M528.5 89V90M528.5 129.5V130M529.5 95.5V96M529.5 126V127M530.5 121.5V122M531.5 95.5V96.5M531.5 126V127M532.5 89V90M532.5 129.5V130M533.5 93V94M533.5 123.5V124.5M534.5 99.5V100M534.5 115V115.5M535.5 93.5V94.5M535.5 123.5V124.5M536.5 100.5V101M536.5 123V123.5M537.5 93.5V94.5M537.5 113.5V114M538.5 89V90M538.5 123V123.5M539.5 89V90M539.5 129.5V130M540.5 89V90M540.5 129.5V130M541.5 89V90M541.5 129.5V130M542.5 92V93M542.5 129.5V130M543.5 97V97.5M543.5 123V123.5M544.5 92.5V93M544.5 113.5V114M545.5 89V90M545.5 123V123.5M546.5 95V95.5M546.5 118.5V119M547.5 104V104.5M547.5 125V125.5M548.5 95V96M548.5 129.5V130M549.5 89V90M549.5 125V125.5M550.5 93.5V94M550.5 118.5V119M551.5 100V100.5M551.5 125V125.5M552.5 93.5V94.5M552.5 129.5V130M553.5 89V90M553.5 129.5V130M554.5 94V95M554.5 129.5V130M555.5 102.5V103M555.5 126V127M556.5 94.5V95M556.5 121.5V122M557.5 89V90M557.5 126V127M558.5 89V90M558.5 129.5V130M559.5 89V90M559.5 129.5V130M560.5 91.5V92.5M560.5 126.5V127M561.5 95.5V96M561.5 121.5V122.5M562.5 92V92.5M562.5 126.5V127M563.5 89V90M563.5 129.5V130M564.5 89V90M564.5 129.5V130M565.5 89V90M565.5 129.5V130M566.5 94.5V95.5M566.5 125V125.5M567.5 103.5V104M567.5 118.5V119M568.5 95V95.5M568.5 125V125.5M569.5 89V90M569.5 123V124M570.5 94V95M570.5 114V114.5M571.5 102V102.5M571.5 123V124M572.5 94.5V95M572.5 129.5V130M573.5 94.5V95.5M573.5 123V123.5M574.5 103V103.5M574.5 113.5V114M575.5 95V95.5M575.5 123V123.5M576.5 89V90M576.5 125.5V126M577.5 91.5V92.5M577.5 119V119.5M578.5 96V97M578.5 125.5V126M579.5 92V93M579.5 129.5V130M580.5 89V90M580.5 129.5V130M581.5 89V90M581.5 129.5V130M582.5 89V90M582.5 129.5V130M583.5 91.5V92.5M583.5 127V127.5M584.5 96V96.5M584.5 123V123.5M585.5 92V92.5M585.5 127V127.5M586.5 89V90M586.5 129.5V130M587.5 89V90M587.5 129.5V130M588.5 94.5V95M588.5 124V125M589.5 102.5V103M589.5 116.5V117M590.5 94.5V95M590.5 124V125M591.5 89V90M591.5 129.5V130M592.5 92.5V93.5M592.5 126.5V127.5M593.5 98.5V99.5M593.5 122.5V123M594.5 93V94M594.5 126.5V127.5M595.5 89V90M595.5 129.5V130M596.5 94V95M596.5 126.5V127.5M597.5 122.5V123M598.5 94.5V95M598.5 124.5V125.5M599.5 94.5V95M600.5 102.5V103M600.5 124.5V125.5M601.5 94.5V95M601.5 129.5V130M602.5 89V90M602.5 129.5V130M603.5 89V90M603.5 129.5V130M604.5 89V90M604.5 129.5V130M605.5 91V92M605.5 126.5V127M606.5 94.5V95.5M606.5 122V122.5M607.5 91.5V92.5M607.5 123.5V124M608.5 94.5V95.5M609.5 103V103.5M609.5 123.5V124M610.5 95V95.5M610.5 129.5V130M611.5 89V90M611.5 129.5V130M612.5 89V90M612.5 129.5V130M613.5 91.5V92.5M613.5 126V127M614.5 96V96.5M614.5 121V121.5M615.5 92V93M615.5 126V127M616.5 89V90M616.5 129.5V130M617.5 89V90M617.5 129.5V130M618.5 93V94M618.5 127V128M619.5 99.5V100M619.5 124V124.5M620.5 93.5V94M620.5 127V128M621.5 89V90M621.5 129.5V130M622.5 89V90M622.5 129.5V130M623.5 94V95M623.5 125V126M624.5 101.5V102M624.5 118.5V119M625.5 94.5V95M625.5 125V126M626.5 94.5V95M626.5 125V125.5M627.5 118V118.5M628.5 94.5V95.5M628.5 125V125.5M629.5 89V90M629.5 126.5V127.5M630.5 94V95M630.5 123V123.5M631.5 102V102.5M631.5 126.5V127.5M632.5 94.5V95M632.5 129.5V130M633.5 95V96M633.5 129.5V130M634.5 104.5V105M634.5 125.5V126.5M635.5 95.5V96M635.5 120V120.5M636.5 89V90M636.5 125.5V126.5M637.5 89V90M637.5 129.5V130M638.5 95V96M638.5 126.5V127.5M639.5 104.5V105M639.5 122.5V123M640.5 95.5V96M640.5 126.5V127.5M641.5 89V90M641.5 129.5V130M642.5 89V90M642.5 129.5V130M643.5 91.5V92.5M643.5 126.5V127M644.5 95.5V96.5M644.5 122V122.5M645.5 92V92.5M645.5 126.5V127M646.5 89V90M646.5 129.5V130M647.5 89V90M647.5 129.5V130M648.5 94V94.5M648.5 123.5V124.5M649.5 101.5V102M650.5 94V95M650.5 123.5V124.5M651.5 89V90M651.5 129.5V130M652.5 89V90M652.5 129.5V130M653.5 89V90M653.5 129.5V130M654.5 93.5V94.5M654.5 125V125.5M655.5 101V101.5M655.5 118.5V119M656.5 94V94.5M656.5 125V125.5M657.5 89V90M657.5 129.5V130M658.5 95.5V96M658.5 127V128M659.5 105V105.5M659.5 123.5V124M660.5 95.5V96M660.5 127V128M661.5 89V90M661.5 129.5V130M662.5 89V90M662.5 129.5V130M663.5 91V92M663.5 129.5V130M664.5 94V95M664.5 123V123.5M665.5 91.5V92M666.5 89V90M666.5 123V123.5M667.5 92.5V93.5M667.5 124V125M668.5 98.5V99M669.5 93V93.5M669.5 124V125M670.5 89V90M670.5 129.5V130M671.5 91.5V92.5M671.5 123.5V124M672.5 95.5V96.5M673.5 92V92.5M673.5 123.5V124M674.5 89V90M674.5 129.5V130M675.5 94V95M675.5 124V124.5M676.5 102V102.5M676.5 115.5V116M677.5 94.5V95M677.5 124V124.5" stroke="#ff0000" stroke-opacity="0.75" fill="none"/>
<path d="M407.5 90V129.5M408.5 90V129.5M409.5 90V129.5M410.5 93V124M411.5 97.5V115.5M412.5 93V124M413.5 90V129.5M414.5 92.5V127.5M415.5 97V124M416.5 93V125.5M417.5 93.5V120.5M418.5 99.5V125.5M419.5 94V129.5M420.5 90V129.5M421.5 93V123.5M422.5 98V115M423.5 93.5V123.5M424.5 90V129.5M425.5 90V129.5M426.5 92.5V125M427.5 97V118.5M428.5 93V125M429.5 90V129.5M430.5 90V129.5M431.5 92.5V127M432.5 96.5V123.5M433.5 92.5V127M434.5 90V129.5M435.5 93V123M436.5 97.5V114M437.5 93V123M438.5 90V129.5M439.5 90V129.5M440.5 90V129.5M441.5 90V124.5M442.5 92.5V117.5M443.5 97V124.5M444.5 93V129.5M445.5 90V123.5M446.5 96V115.5M447.5 105V123.5M448.5 96V123.5M449.5 97V127M450.5 93V129.5M451.5 90V129.5M452.5 90V129.5M453.5 94V124M454.5 100.5V115.5M455.5 94V124M456.5 94V124M457.5 100.5V116M458.5 94.5V124M459.5 90V129.5M460.5 93V124.5M461.5 97.5V117M462.5 93V124.5M463.5 90V129.5M464.5 90V129.5M465.5 90V129.5M466.5 94.5V126M467.5 102V120.5M468.5 95V126M469.5 90V129.5M470.5 90V129.5M471.5 92.5V123M472.5 96.5V114M473.5 93V123M474.5 90V129.5M475.5 90V129.5M476.5 94.5V123M477.5 102V114M478.5 95V123M479.5 90V129.5M480.5 94V124M481.5 100V115.5M482.5 94V124M483.5 90V129.5M484.5 94V123.5M485.5 100V114.5M486.5 94V123.5M487.5 90V129.5M488.5 90V129.5M489.5 95V125M490.5 102.5V119M491.5 95V125M492.5 90V129.5M493.5 96V125.5M494.5 105V120M495.5 96V125.5M496.5 90V129.5M497.5 94V124M498.5 100.5V116M499.5 94.5V124M500.5 90V129.5M501.5 90V129.5M502.5 90V126M503.5 93.5V121M504.5 98.5V126M505.5 93.5V129.5M506.5 92V129.5M507.5 95V127M508.5 92V123M509.5 90V127M510.5 90V129.5M511.5 90V129.5M512.5 90V129.5M513.5 93V125.5M514.5 98V120M515.5 93.5V125.5M516.5 90V129.5M517.5 90V129.5M518.5 94V126.5M519.5 100V122M520.5 94V126.5M521.5 90V129.5M522.5 90V129.5M523.5 93.5V127.5M524.5 99.5V124M525.5 94V127.5M526.5 90V129.5M527.5 90V129.5M528.5 90V129.5M529.5 96V126M530.5 105.5V121.5M531.5 96.5V126M532.5 90V129.5M533.5 94V123.5M534.5 100V115M535.5 94.5V123.5M536.5 101V123M537.5 94.5V113.5M538.5 90V123M539.5 90V129.5M540.5 90V129.5M541.5 90V129.5M542.5 93V129.5M543.5 97.5V123M544.5 93V113.5M545.5 90V123M546.5 95.5V118.5M547.5 104.5V125M548.5 96V129.5M549.5 90V125M550.5 94V118.5M551.5 100.5V125M552.5 94.5V129.5M553.5 90V129.5M554.5 95V129.5M555.5 103V126M556.5 95V121.5M557.5 90V126M558.5 90V129.5M559.5 90V129.5M560.5 92.5V126.5M561.5 96V121.5M562.5 92.5V126.5M563.5 90V129.5M564.5 90V129.5M565.5 90V129.5M566.5 95.5V125M567.5 104V118.5M568.5 95.5V125M569.5 90V123M570.5 95V114M571.5 102.5V123M572.5 95V129.5M573.5 95.5V123M574.5 103.5V113.5M575.5 95.5V123M576.5 90V125.5M577.5 92.5V119M578.5 97V125.5M579.5 93V129.5M580.5 90V129.5M581.5 90V129.5M582.5 90V129.5M583.5 92.5V127M584.5 96.5V123M585.5 92.5V127M586.5 90V129.5M587.5 90V129.5M588.5 95V124M589.5 103V116.5M590.5 95V124M591.5 90V129.5M592.5 93.5V126.5M593.5 99.5V122.5M594.5 94V126.5M595.5 90V129.5M596.5 95V126.5M597.5 102.5V122.5M598.5 95V124.5M599.5 95V118M600.5 103V124.5M601.5 95V129.5M602.5 90V129.5M603.5 90V129.5M604.5 90V129.5M605.5 92V126.5M606.5 95.5V122M607.5 92.5V123.5M608.5 95.5V114.5M609.5 103.5V123.5M610.5 95.5V129.5M611.5 90V129.5M612.5 90V129.5M613.5 92.5V126M614.5 96.5V121M615.5 93V126M616.5 90V129.5M617.5 90V129.5M618.5 94V127M619.5 100V124M620.5 94V127M621.5 90V129.5M622.5 90V129.5M623.5 95V125M624.5 102V118.5M625.5 95V125M626.5 95V125M627.5 103V118M628.5 95.5V125M629.5 90V126.5M630.5 95V123M631.5 102.5V126.5M632.5 95V129.5M633.5 96V129.5M634.5 105V125.5M635.5 96V120M636.5 90V125.5M637.5 90V129.5M638.5 96V126.5M639.5 105V122.5M640.5 96V126.5M641.5 90V129.5M642.5 90V129.5M643.5 92.5V126.5M644.5 96.5V122M645.5 92.5V126.5M646.5 90V129.5M647.5 90V129.5M648.5 94.5V123.5M649.5 102V115.5M650.5 95V123.5M651.5 90V129.5M652.5 90V129.5M653.5 90V129.5M654.5 94.5V125M655.5 101.5V118.5M656.5 94.5V125M657.5 90V129.5M658.5 96V127M659.5 105.5V123.5M660.5 96V127M661.5 90V129.5M662.5 90V129.5M663.5 92V129.5M664.5 95V123M665.5 92V113.5M666.5 90V123M667.5 93.5V124M668.5 99V116.5M669.5 93.5V124M670.5 90V129.5M671.5 92.5V123.5M672.5 96.5V115M673.5 92.5V123.5M674.5 90V129.5M675.5 95V124M676.5 102.5V115.5M677.5 95V124" stroke="#ff0000" stroke-opacity="1.0" fill="none"/>
<text x="403.9" y="84.1" font-size="6.7" text-anchor="end" class="t">2000</text>
<text x="403.9" y="112.2" font-size="6.7" text-anchor="end" class="t">0</text>
<text x="403.9" y="141.2" font-size="6.7" text-anchor="end" class="t">-2000</text>
<text x="407.1" y="147.8" font-size="6.7" text-anchor="middle" class="t">0</text>
<text x="452.45" y="147.8" font-size="6.7" text-anchor="middle" class="t">50</text>
<text x="497.8" y="147.8" font-size="6.7" text-anchor="middle" class="t">100</text>
<text x="543.15" y="147.8" font-size="6.7" text-anchor="middle" class="t">150</text>
<text x="588.5" y="147.8" font-size="6.7" text-anchor="middle" class="t">200</text>
<text x="633.85" y="147.8" font-size="6.7" text-anchor="middle" class="t">250</text>
<text x="679.2" y="147.8" font-size="6.7" text-anchor="middle" class="t">300</text>
<rect x="618.5" y="85.4" width="53.2" height="10.2" fill="#fff" stroke="#555555" stroke-width="0.8"/>
<path d="M621.1 90.5H646.1" stroke="#ff0000" stroke-width="0.8"/>
<text x="669.4" y="93.2" font-size="6.75" text-anchor="end" class="t">SF-RFI</text>
<rect x="406.5" y="160.5" width="272.1" height="56.5" fill="none" stroke="#4a4a4a" stroke-width="0.9"/>
<path d="M406.5 217v-2.6M406.5 160.5v2.6M451.85 217v-2.6M451.85 160.5v2.6M497.2 217v-2.6M497.2 160.5v2.6M542.55 217v-2.6M542.55 160.5v2.6M587.9 217v-2.6M587.9 160.5v2.6M633.25 217v-2.6M633.25 160.5v2.6M678.6 217v-2.6M678.6 160.5v2.6M406.5 160.5h2.6M678.6 160.5h-2.6M406.5 188.75h2.6M678.6 188.75h-2.6M406.5 217h2.6M678.6 217h-2.6" stroke="#4a4a4a" stroke-width="0.8" fill="none"/>
<path d="M407.5 181V181.5M408.5 173V173.5M408.5 204V204.5M409.5 172.5V173M410.5 184V184.5M411.5 180.5V181M412.5 176.5V177M413.5 180.5V181M413.5 194.5V195M414.5 194V194.5M417.5 194V194.5M419.5 182V182.5M422.5 177V177.5M422.5 193V193.5M426.5 183V183.5M427.5 184.5V185M428.5 181.5V182M430.5 184V184.5M430.5 194.5V195M431.5 183V183.5M431.5 205V205.5M432.5 194V194.5M433.5 194V194.5M434.5 184.5V185M436.5 174V174.5M437.5 194.5V195M439.5 177V177.5M440.5 184V184.5M440.5 194V194.5M441.5 180.5V181M444.5 193.5V194M447.5 174.5V175M448.5 183.5V184M448.5 196.5V197M449.5 205V205.5M452.5 169.5V170M454.5 183V183.5M454.5 203.5V204M455.5 179V179.5M455.5 195.5V196M457.5 194.5V195M459.5 194V194.5M466.5 195V195.5M467.5 183V183.5M467.5 195V195.5M468.5 194V194.5M469.5 193.5V194M472.5 200V200.5M475.5 182V182.5M476.5 178V178.5M477.5 178V178.5M480.5 180V180.5M481.5 181V181.5M481.5 193.5V194M483.5 197.5V198M490.5 195.5V196M491.5 177.5V178M492.5 199.5V200M493.5 195.5V196M494.5 207V207.5M495.5 184V184.5M495.5 194.5V195M498.5 184V184.5M499.5 205V205.5M500.5 194V194.5M502.5 183V183.5M502.5 204.5V205M503.5 196.5V197M505.5 203V203.5M507.5 182V182.5M507.5 196V196.5M508.5 198V198.5M510.5 196.5V197M511.5 176V176.5M511.5 200V200.5M514.5 182.5V183M514.5 195V195.5M515.5 200.5V201M519.5 193V193.5M520.5 199.5V200M524.5 203.5V204M525.5 185V185.5M525.5 199.5V200M526.5 181.5V182M526.5 192.5V193M527.5 179.5V180M530.5 194V194.5M531.5 205V205.5M532.5 182V182.5M533.5 183V183.5M537.5 195.5V196M538.5 197V197.5M539.5 180V180.5M540.5 183V183.5M542.5 181V181.5M542.5 196V196.5M543.5 194V194.5M544.5 180.5V181M547.5 201.5V202M548.5 176V176.5M549.5 180V180.5M550.5 195.5V196M552.5 193.5V194M555.5 179.5V180M557.5 173.5V174M558.5 177V177.5M558.5 194V194.5M561.5 180V180.5M561.5 195.5V196M564.5 195.5V196M569.5 177.5V178M570.5 182V182.5M571.5 194.5V195M572.5 196.5V197M575.5 176.5V177M575.5 199.5V200M576.5 183.5V184M576.5 195V195.5M578.5 195V195.5M579.5 198V198.5M580.5 177V177.5M580.5 200.5V201M582.5 182.5V183M583.5 181.5V182M586.5 181.5V182M588.5 179.5V180M590.5 171V171.5M591.5 193V193.5M592.5 177.5V178M592.5 193V193.5M593.5 196.5V197M594.5 195.5V196M595.5 184V184.5M595.5 195V195.5M597.5 183V183.5M599.5 175.5V176M600.5 193V193.5M602.5 183.5V184M602.5 193.5V194M603.5 182.5V183M604.5 184V184.5M604.5 198.5V199M606.5 182.5V183M607.5 182.5V183M608.5 183.5V184M608.5 195.5V196M610.5 196V196.5M612.5 178V178.5M612.5 204V204.5M613.5 196V196.5M615.5 181.5V182M616.5 194.5V195M619.5 193.5V194M620.5 170V170.5M621.5 182V182.5M622.5 183V183.5M622.5 198.5V199M626.5 176V176.5M626.5 198.5V199M629.5 193V193.5M630.5 180V180.5M631.5 183V183.5M632.5 197.5V198M633.5 180V180.5M634.5 178V178.5M635.5 182.5V183M639.5 193.5V194M641.5 184V184.5M643.5 175.5V176M646.5 176V176.5M648.5 178V178.5M649.5 184.5V185M650.5 203V203.5M651.5 196V196.5M653.5 182.5V183M655.5 171V171.5M656.5 193V193.5M657.5 193.5V194M660.5 194.5V195M665.5 195.5V196M668.5 194V194.5M669.5 179.5V180M669.5 198V198.5M670.5 195V195.5M671.5 174.5V175M672.5 194.5V195M675.5 181.5V182" stroke="#0000ff" stroke-opacity="0.25" fill="none"/>
<path d="M407.5 181.5V182.5M407.5 199.5V201M408.5 173.5V184M408.5 198V204M409.5 173V183.5M409.5 194V204.5M410.5 194.5V195.5M411.5 181V184M411.5 194V201.5M412.5 177V181.5M412.5 194V201.5M413.5 181V184M413.5 193.5V194.5M414.5 182.5V183M415.5 173.5V174M415.5 194V195M416.5 181V182.5M416.5 196V196.5M417.5 175.5V184.5M418.5 179.5V184M418.5 194.5V195M419.5 182.5V184.5M419.5 194V195M420.5 182.5V183M420.5 197V201M421.5 182V183M421.5 194V199.5M422.5 177.5V182.5M423.5 184V185M423.5 197V198M424.5 175.5V183.5M424.5 193.5V201M425.5 181.5V182.5M426.5 194V195.5M427.5 193V193.5M428.5 195V195.5M429.5 193V193.5M430.5 193.5V194.5M431.5 183.5V184M431.5 204V205M432.5 176.5V178M432.5 193V194M433.5 182.5V183M435.5 183.5V184.5M435.5 196V196.5M436.5 174.5V182.5M436.5 198V202M437.5 182.5V184.5M438.5 193.5V194M439.5 177.5V182M439.5 194V201M440.5 193.5V194M441.5 181V182M442.5 184V184.5M442.5 193V193.5M443.5 183V183.5M443.5 192.5V193M444.5 181.5V182.5M445.5 180V184M445.5 194V195.5M446.5 169.5V184M446.5 194V205M447.5 175V180.5M447.5 196.5V206.5M448.5 194V196.5M449.5 171V183M449.5 202.5V205M450.5 181V183.5M450.5 194V195M451.5 184V184.5M451.5 195V195.5M452.5 170V171M452.5 193V197.5M453.5 180V183M453.5 193V193.5M454.5 183.5V184M454.5 203V203.5M455.5 179.5V181M455.5 195V195.5M456.5 195V196.5M457.5 181V183M457.5 193.5V194.5M458.5 184V184.5M458.5 197V198M460.5 172V182.5M460.5 194V206.5M461.5 182V184M461.5 206.5V207M462.5 182.5V184.5M462.5 193.5V195.5M463.5 184.5V185M463.5 194V195.5M464.5 194V194.5M465.5 195V196M466.5 194.5V195M467.5 183.5V184.5M468.5 177.5V178M469.5 182.5V184M470.5 182.5V184M470.5 193V194M471.5 192.5V193M472.5 182V184.5M472.5 195V200M473.5 176V183.5M473.5 196V198M474.5 182.5V183.5M474.5 195.5V199M475.5 192.5V193M476.5 178.5V182.5M476.5 196.5V208.5M477.5 178.5V182M478.5 180.5V183M478.5 193.5V195M479.5 174V183M479.5 193.5V202M480.5 180.5V184M480.5 192.5V197.5M481.5 181.5V182.5M481.5 192.5V193.5M483.5 194V197.5M484.5 184.5V185M484.5 196V198M485.5 181.5V183M485.5 195V195.5M486.5 173.5V178M486.5 194.5V204M487.5 172.5V180.5M487.5 193V204.5M488.5 183V184M488.5 193.5V194M489.5 183.5V184M490.5 182.5V183M490.5 194V195.5M491.5 178V181M491.5 193V194M492.5 177V184M492.5 196.5V199.5M493.5 193.5V195.5M494.5 170.5V184.5M494.5 197.5V207M495.5 184.5V185M495.5 192V194.5M496.5 184.5V185.5M497.5 182V183M498.5 193V196M499.5 171.5V180.5M499.5 194V205M500.5 181.5V182.5M500.5 193.5V194M501.5 183V183.5M501.5 192.5V194.5M502.5 183.5V184M502.5 203.5V204.5M503.5 177.5V184.5M503.5 194V196.5M504.5 181V183M504.5 192.5V193M505.5 180.5V183.5M505.5 196V203M506.5 174.5V182M506.5 201.5V203M507.5 182.5V184M508.5 194.5V198M509.5 183V183.5M510.5 180V182M510.5 193.5V196.5M511.5 176.5V182M511.5 194V200M512.5 184V185.5M512.5 195.5V196.5M513.5 183V184M513.5 193.5V196M514.5 194.5V195M515.5 177V184M515.5 194.5V200.5M516.5 171V178.5M516.5 199V206M517.5 178.5V181M517.5 199V200M518.5 177.5V184M518.5 195.5V199.5M519.5 183V183.5M520.5 199V199.5M521.5 183.5V184M521.5 193V194.5M522.5 175.5V183.5M522.5 194V201.5M523.5 193.5V194.5M524.5 173V183M524.5 198.5V203.5M525.5 199V199.5M526.5 182V183M527.5 180V182.5M527.5 195.5V197.5M528.5 183V184M529.5 181V182M529.5 195.5V196M530.5 182V184.5M530.5 193.5V194M531.5 182.5V183M531.5 183.5V184M531.5 204V205M532.5 182.5V183M532.5 193V193.5M533.5 183.5V184M534.5 176.5V182.5M534.5 193.5V198M535.5 182V184.5M535.5 192.5V193M536.5 183V183.5M536.5 196.5V198M537.5 181V184M537.5 194V195.5M538.5 180.5V184M538.5 195.5V197M539.5 180.5V183M540.5 192.5V197M541.5 178V179M541.5 194.5V202.5M542.5 181.5V183M542.5 194.5V196M543.5 179.5V181.5M544.5 181V182.5M544.5 192.5V193M545.5 183V183.5M545.5 194V201.5M546.5 182V184M547.5 176V177M547.5 199.5V201.5M548.5 176.5V177.5M548.5 195V197M549.5 180.5V182.5M549.5 197V204.5M550.5 183V184.5M550.5 194.5V195.5M551.5 182.5V183M551.5 192.5V193M552.5 184V184.5M552.5 192.5V193.5M553.5 183.5V184M553.5 193V197M554.5 181V184M554.5 193.5V195M555.5 180V183.5M555.5 193.5V198M556.5 181.5V184M557.5 174V182.5M557.5 196.5V204M558.5 177.5V183.5M559.5 182.5V184.5M560.5 181.5V184.5M560.5 193V193.5M561.5 180.5V181.5M561.5 195V195.5M562.5 181.5V183.5M563.5 182V183M564.5 184.5V185M565.5 180V183M565.5 196.5V197M566.5 195.5V197.5M567.5 184.5V185M567.5 193.5V194M568.5 178V180M568.5 192.5V193.5M569.5 178V183M569.5 192V197.5M570.5 182.5V184M570.5 193.5V194.5M572.5 183.5V184M573.5 183V183.5M573.5 194.5V195.5M574.5 172V184.5M574.5 194V205.5M575.5 177V181M576.5 194.5V195M577.5 183.5V184M577.5 194V195.5M578.5 184V184.5M578.5 194V195M579.5 176.5V182M579.5 194V198M580.5 177.5V181M580.5 192.5V200.5M581.5 183.5V184M581.5 193.5V194M582.5 183V183.5M582.5 193.5V194M583.5 182V185.5M583.5 193V193.5M584.5 183V184M584.5 193V194M585.5 183V183.5M585.5 193.5V196M586.5 182V183M586.5 193.5V194.5M587.5 195V196M588.5 180V181M589.5 194V200M590.5 171.5V183M590.5 196.5V205M591.5 181V182.5M591.5 192.5V193M593.5 181.5V183M593.5 193V196.5M594.5 180.5V181M594.5 193V195.5M596.5 178V180.5M596.5 194V198M597.5 183.5V184.5M597.5 194V194.5M599.5 176V180M599.5 193V200M600.5 179V183.5M600.5 192V193M601.5 179.5V183M601.5 194V195M603.5 183V183.5M603.5 194.5V195.5M604.5 194.5V198.5M605.5 184V184.5M605.5 204V205.5M606.5 206V206.5M607.5 183V185M607.5 195V195.5M608.5 194V195.5M609.5 180.5V183M609.5 195V196M610.5 184V185M610.5 195V196M611.5 179.5V183.5M611.5 193V194M612.5 178.5V183M612.5 196.5V204M613.5 183.5V184M613.5 194V196M614.5 182.5V183M614.5 193.5V194M615.5 182V185M615.5 195V196M616.5 193.5V194.5M617.5 194V194.5M618.5 183.5V184M618.5 193.5V194.5M619.5 182.5V184.5M619.5 193V193.5M620.5 193.5V196M621.5 182.5V184.5M621.5 193.5V195.5M622.5 183.5V185M622.5 193V198.5M623.5 178.5V182M623.5 193.5V195M624.5 180.5V183M624.5 205.5V206.5M625.5 182.5V183M626.5 176.5V183M626.5 195V198.5M627.5 184.5V185M627.5 202.5V204.5M628.5 184V185M629.5 183V183.5M630.5 180.5V184M630.5 195V195.5M631.5 193.5V194M632.5 182V183M632.5 193V197.5M633.5 180.5V185M633.5 194V197M634.5 178.5V181M634.5 194V195.5M635.5 194.5V195M636.5 179V182.5M637.5 172.5V179.5M637.5 193.5V205.5M638.5 173.5V182.5M638.5 195V202.5M639.5 180V180.5M640.5 184.5V185.5M640.5 193.5V194.5M641.5 184.5V185M641.5 196.5V197M642.5 173.5V176M642.5 195.5V208.5M643.5 176V181M643.5 196V202M644.5 184.5V185M644.5 193V196M645.5 183.5V184M645.5 198V198.5M646.5 176.5V182M646.5 194.5V201.5M647.5 175V182M647.5 194.5V204M648.5 178.5V181.5M648.5 197V199M649.5 198.5V199M650.5 175.5V182.5M650.5 193.5V203M651.5 181.5V182M651.5 194V196M652.5 182.5V185M652.5 196V197.5M653.5 183V184M654.5 199.5V200.5M655.5 171.5V180.5M655.5 199V207M656.5 182V183.5M657.5 183.5V184.5M658.5 182.5V184.5M658.5 194.5V196.5M659.5 184V184.5M659.5 200V201.5M660.5 183.5V184.5M661.5 172V183.5M661.5 194V195M662.5 179V185.5M662.5 209V209.5M663.5 183.5V184M663.5 192.5V193M664.5 194V205M665.5 180V183M665.5 193V195.5M666.5 182.5V183M666.5 196.5V197M667.5 171.5V177M667.5 193V205.5M668.5 184V184.5M669.5 180V180.5M669.5 193V198M670.5 179.5V183.5M671.5 175V175.5M671.5 199V200.5M672.5 177V177.5M674.5 181.5V182.5M674.5 193V194.5M675.5 182V185.5M676.5 182.5V183M676.5 195.5V196M677.5 179.5V184.5M677.5 193V196.5" stroke="#0000ff" stroke-opacity="0.5" fill="none"/>
<path d="M407.5 182.5V183.5M407.5 194V199.5M408.5 184V184.5M408.5 192.5V198M409.5 192.5V194M410.5 184.5V185M410.5 194V194.5M411.5 184V184.5M411.5 192.5V194M412.5 181.5V183M413.5 193V193.5M414.5 183V184M415.5 174V181M415.5 193.5V194M416.5 195V196M417.5 184.5V185M417.5 193.5V194M418.5 184V184.5M418.5 194V194.5M419.5 184.5V186M419.5 192.5V194M420.5 183V184M420.5 193V197M421.5 183V183.5M421.5 193V194M422.5 182.5V183.5M422.5 192.5V193M423.5 195V197M424.5 183.5V184.5M424.5 193V193.5M425.5 182.5V184M425.5 193.5V194M426.5 183.5V184M426.5 193.5V194M427.5 185V185.5M427.5 192.5V193M428.5 182V183.5M428.5 193V195M429.5 183.5V184.5M430.5 184.5V185M430.5 193V193.5M431.5 184V184.5M431.5 196.5V204M432.5 178V181M432.5 192.5V193M433.5 183V184.5M433.5 192.5V194M435.5 195.5V196M436.5 182.5V184.5M436.5 195.5V198M437.5 184.5V185M437.5 193.5V194.5M438.5 182V184.5M438.5 192.5V193.5M439.5 182V184.5M439.5 193V194M441.5 182V185.5M441.5 192.5V193M442.5 184.5V185.5M442.5 192V193M443.5 183.5V184M443.5 192V192.5M444.5 182.5V183.5M444.5 193V193.5M445.5 184V184.5M446.5 184V184.5M447.5 193V196.5M448.5 184V184.5M448.5 192.5V194M449.5 183V183.5M449.5 193.5V202.5M450.5 183.5V185M450.5 193V194M451.5 184.5V185.5M451.5 193.5V195M452.5 171V178M453.5 183V184M453.5 192.5V193M454.5 184V184.5M454.5 194V203M455.5 181V183M455.5 193V195M456.5 184.5V185M456.5 194V195M457.5 183V183.5M457.5 193V193.5M458.5 184.5V185M458.5 193V197M459.5 185V185.5M459.5 193V194M460.5 182.5V183M460.5 192.5V194M461.5 184V185.5M461.5 197V206.5M462.5 184.5V185M462.5 192.5V193.5M463.5 185V185.5M464.5 183.5V185M464.5 193.5V194M465.5 182.5V184M465.5 193V195M466.5 194V194.5M467.5 184.5V185M467.5 194.5V195M468.5 178V181.5M468.5 192.5V194M469.5 184V184.5M469.5 193V193.5M470.5 184V184.5M470.5 192.5V193M471.5 192V192.5M472.5 184.5V185.5M472.5 193V195M473.5 183.5V184M473.5 192.5V196M474.5 183.5V184M474.5 194V195.5M475.5 182.5V183.5M475.5 192V192.5M476.5 182.5V183M476.5 195V196.5M477.5 182V183M477.5 192.5V193M478.5 183V185M478.5 193V193.5M479.5 183V183.5M479.5 193V193.5M480.5 184V185M481.5 182.5V183.5M482.5 183.5V184.5M482.5 192V192.5M483.5 175.5V184.5M483.5 193V194M484.5 185V185.5M484.5 193.5V196M485.5 183V185M485.5 193V195M486.5 178V182.5M486.5 193V194.5M487.5 180.5V183.5M487.5 192.5V193M488.5 184V184.5M488.5 192.5V193.5M489.5 184V184.5M489.5 192.5V194M490.5 183V183.5M490.5 193V194M491.5 181V183M491.5 192.5V193M492.5 195V196.5M493.5 183V184M493.5 193V193.5M494.5 184.5V185M494.5 194.5V197.5M496.5 197.5V209M497.5 183V184M497.5 192.5V193M498.5 192V193M499.5 180.5V183.5M499.5 192.5V194M500.5 182.5V183.5M500.5 192.5V193.5M501.5 192V192.5M502.5 184V185M502.5 197V203.5M504.5 183V183.5M505.5 183.5V184.5M505.5 195.5V196M506.5 182V183M506.5 194.5V201.5M507.5 184V184.5M507.5 195.5V196M508.5 172.5V181M508.5 193.5V194.5M509.5 183.5V184M510.5 182V183M510.5 193V193.5M511.5 182V182.5M511.5 192.5V194M512.5 194.5V195.5M513.5 184V184.5M513.5 193V193.5M514.5 183V184M514.5 193V194.5M515.5 184V184.5M515.5 192.5V194.5M516.5 178.5V182M516.5 193.5V199M517.5 181V182.5M517.5 197V199M518.5 194V195.5M519.5 183.5V184.5M519.5 192.5V193M520.5 183.5V184.5M520.5 193.5V199M521.5 184V184.5M521.5 192V193M522.5 183.5V185.5M522.5 193.5V194M523.5 184.5V185M523.5 193V193.5M524.5 183V184M524.5 195V198.5M525.5 195V199M526.5 183V183.5M526.5 192V192.5M527.5 182.5V184M527.5 193.5V195.5M528.5 184V184.5M528.5 193.5V195.5M529.5 182V183.5M529.5 195V195.5M530.5 184.5V185M530.5 193V193.5M531.5 183V183.5M531.5 184V184.5M531.5 195.5V204M532.5 183V184.5M532.5 192.5V193M533.5 184V185M533.5 193.5V194.5M534.5 182.5V183.5M534.5 193V193.5M535.5 184.5V185M536.5 183.5V184M536.5 195.5V196.5M537.5 192.5V194M538.5 192.5V195.5M539.5 183V183.5M539.5 194V203M540.5 183.5V184M540.5 192V192.5M541.5 179V181M541.5 194V194.5M542.5 192.5V194.5M543.5 181.5V183M543.5 193.5V194M544.5 182.5V183M545.5 193V194M546.5 184V184.5M546.5 197.5V205.5M547.5 177V183M547.5 198.5V199.5M548.5 177.5V181.5M548.5 193.5V195M549.5 182.5V184M549.5 195.5V197M550.5 193.5V194.5M551.5 183V183.5M552.5 191.5V192.5M553.5 192.5V193M554.5 193V193.5M555.5 183.5V184.5M556.5 184V184.5M557.5 182.5V183.5M557.5 194.5V196.5M558.5 183.5V184M558.5 193V194M559.5 184.5V185M559.5 192.5V193M560.5 192.5V193M561.5 181.5V182M561.5 193.5V195M562.5 183.5V185M562.5 193V194M563.5 183V183.5M563.5 192V192.5M564.5 185V185.5M564.5 193.5V195.5M565.5 183V184.5M565.5 195.5V196.5M566.5 182V184.5M566.5 194.5V195.5M567.5 185V185.5M567.5 193V193.5M568.5 180V182M568.5 192V192.5M569.5 183V183.5M569.5 191.5V192M570.5 193V193.5M571.5 183.5V184.5M571.5 194V194.5M572.5 184V184.5M572.5 194.5V196.5M573.5 183.5V184M573.5 193.5V194.5M575.5 181V183M575.5 193.5V199.5M576.5 184V184.5M576.5 194V194.5M577.5 184V185M577.5 193.5V194M578.5 184.5V185M578.5 193.5V194M579.5 182V183.5M580.5 181V181.5M580.5 192V192.5M581.5 184V184.5M581.5 193V193.5M582.5 183.5V185M582.5 192.5V193.5M583.5 185.5V186M583.5 192.5V193M584.5 184V184.5M585.5 183.5V184.5M585.5 193V193.5M586.5 183V183.5M586.5 193V193.5M587.5 184.5V185.5M587.5 194V195M588.5 181V184.5M588.5 192.5V193.5M590.5 183V183.5M590.5 192V196.5M591.5 182.5V185M591.5 192V192.5M592.5 178V180.5M592.5 192.5V193M593.5 183V183.5M593.5 192.5V193M594.5 181V183M594.5 192.5V193M595.5 184.5V185M595.5 192V195M596.5 180.5V183.5M596.5 193.5V194M597.5 184.5V185M597.5 192V194M598.5 192.5V193.5M599.5 180V184M599.5 192.5V193M600.5 191.5V192M601.5 183V184M601.5 193.5V194M602.5 184V185M602.5 193V193.5M603.5 183.5V184.5M603.5 193.5V194.5M604.5 184.5V185M604.5 194V194.5M605.5 184.5V185.5M605.5 193.5V204M606.5 183V184M606.5 197V206M607.5 185V185.5M607.5 194.5V195M608.5 184V184.5M608.5 193V194M609.5 183V186M609.5 194V195M610.5 185V185.5M610.5 194.5V195M611.5 183.5V184M611.5 192.5V193M612.5 183V183.5M612.5 195.5V196.5M613.5 184V185M613.5 192.5V194M614.5 183V184.5M614.5 193V193.5M615.5 193.5V195M616.5 182.5V183M616.5 193V193.5M617.5 183.5V184M617.5 192V194M618.5 184V184.5M619.5 184.5V185M619.5 192.5V193M620.5 170.5V181.5M620.5 192.5V193.5M621.5 184.5V185M621.5 193V193.5M622.5 185V185.5M622.5 192.5V193M623.5 182V183.5M623.5 193V193.5M624.5 183V184.5M624.5 194.5V205.5M625.5 183V185M625.5 194V195M626.5 183V183.5M626.5 193.5V195M627.5 185V185.5M627.5 196V202.5M628.5 192.5V193M629.5 183.5V184.5M630.5 184V184.5M630.5 193.5V195M631.5 183.5V184M631.5 193V193.5M632.5 183V183.5M632.5 192.5V193M633.5 185V186M633.5 193V194M634.5 181V183.5M634.5 193.5V194M635.5 183V183.5M635.5 193V194.5M636.5 182.5V183M636.5 194V194.5M637.5 179.5V184.5M637.5 193V193.5M638.5 182.5V184M638.5 194V195M639.5 180.5V183.5M639.5 193V193.5M640.5 185.5V186M640.5 193V193.5M641.5 185V185.5M641.5 193.5V196.5M642.5 176V178M642.5 194V195.5M643.5 181V182M643.5 192.5V196M645.5 184V185M645.5 195V198M646.5 182V183.5M646.5 193V194.5M647.5 182V183.5M647.5 193V194.5M648.5 181.5V184M648.5 193.5V197M649.5 185V185.5M649.5 195V198.5M650.5 182.5V183.5M650.5 193V193.5M651.5 182V183M651.5 193.5V194M652.5 185V185.5M652.5 194V196M653.5 184V184.5M653.5 194V194.5M654.5 183.5V184M654.5 195.5V199.5M655.5 180.5V184.5M655.5 193.5V199M656.5 183.5V184.5M656.5 192.5V193M657.5 184.5V185M658.5 184.5V185M658.5 193.5V194.5M659.5 184.5V185M659.5 195V200M660.5 184.5V185M660.5 194V194.5M661.5 183.5V184M661.5 192.5V194M662.5 193V209M663.5 184V184.5M664.5 184V185M664.5 193.5V194M665.5 183V183.5M665.5 192.5V193M666.5 183V184.5M666.5 194V196.5M667.5 177V180M667.5 192.5V193M669.5 180.5V182M669.5 192.5V193M670.5 183.5V184M670.5 194V195M671.5 175.5V184M671.5 194.5V199M672.5 177.5V183.5M672.5 194V194.5M673.5 185V185.5M673.5 193.5V195.5M674.5 182.5V185M674.5 192.5V193M675.5 194.5V195M676.5 183V183.5M676.5 193V195.5M677.5 184.5V185M677.5 192.5V193" stroke="#0000ff" stroke-opacity="0.75" fill="none"/>
<path d="M407.5 183.5V194M408.5 184.5V192.5M409.5 183.5V192.5M410.5 185V194M411.5 184.5V192.5M412.5 183V194M413.5 184V193M414.5 184V194M415.5 181V193.5M416.5 182.5V195M417.5 185V193.5M418.5 184.5V194M419.5 186V192.5M420.5 184V193M421.5 183.5V193M422.5 183.5V192.5M423.5 185V195M424.5 184.5V193M425.5 184V193.5M426.5 184V193.5M427.5 185.5V192.5M428.5 183.5V193M429.5 184.5V193M430.5 185V193M431.5 184.5V196.5M432.5 181V192.5M433.5 184.5V192.5M434.5 185V193.5M435.5 184.5V195.5M436.5 184.5V195.5M437.5 185V193.5M438.5 184.5V192.5M439.5 184.5V193M440.5 184.5V193.5M441.5 185.5V192.5M442.5 185.5V192M443.5 184V192M444.5 183.5V193M445.5 184.5V194M446.5 184.5V194M447.5 180.5V193M448.5 184.5V192.5M449.5 183.5V193.5M450.5 185V193M451.5 185.5V193.5M452.5 178V193M453.5 184V192.5M454.5 184.5V194M455.5 183V193M456.5 185V194M457.5 183.5V193M458.5 185V193M459.5 185.5V193M460.5 183V192.5M461.5 185.5V197M462.5 185V192.5M463.5 185.5V194M464.5 185V193.5M465.5 184V193M466.5 184.5V194M467.5 185V194.5M468.5 181.5V192.5M469.5 184.5V193M470.5 184.5V192.5M471.5 185V192M472.5 185.5V193M473.5 184V192.5M474.5 184V194M475.5 183.5V192M476.5 183V195M477.5 183V192.5M478.5 185V193M479.5 183.5V193M480.5 185V192.5M481.5 183.5V192.5M482.5 184.5V192M483.5 184.5V193M484.5 185.5V193.5M485.5 185V193M486.5 182.5V193M487.5 183.5V192.5M488.5 184.5V192.5M489.5 184.5V192.5M490.5 183.5V193M491.5 183V192.5M492.5 184V195M493.5 184V193M494.5 185V194.5M495.5 185V192M496.5 185.5V197.5M497.5 184V192.5M498.5 184.5V192M499.5 183.5V192.5M500.5 183.5V192.5M501.5 183.5V192M502.5 185V197M503.5 184.5V194M504.5 183.5V192.5M505.5 184.5V195.5M506.5 183V194.5M507.5 184.5V195.5M508.5 181V193.5M509.5 184V193M510.5 183V193M511.5 182.5V192.5M512.5 185.5V194.5M513.5 184.5V193M514.5 184V193M515.5 184.5V192.5M516.5 182V193.5M517.5 182.5V197M518.5 184V194M519.5 184.5V192.5M520.5 184.5V193.5M521.5 184.5V192M522.5 185.5V193.5M523.5 185V193M524.5 184V195M525.5 185.5V195M526.5 183.5V192M527.5 184V193.5M528.5 184.5V193.5M529.5 183.5V195M530.5 185V193M531.5 184.5V195.5M532.5 184.5V192.5M533.5 185V193.5M534.5 183.5V193M535.5 185V192.5M536.5 184V195.5M537.5 184V192.5M538.5 184V192.5M539.5 183.5V194M540.5 184V192M541.5 181V194M542.5 183V192.5M543.5 183V193.5M544.5 183V192.5M545.5 183.5V193M546.5 184.5V197.5M547.5 183V198.5M548.5 181.5V193.5M549.5 184V195.5M550.5 184.5V193.5M551.5 183.5V192.5M552.5 184.5V191.5M553.5 184V192.5M554.5 184V193M555.5 184.5V193.5M556.5 184.5V193M557.5 183.5V194.5M558.5 184V193M559.5 185V192.5M560.5 184.5V192.5M561.5 182V193.5M562.5 185V193M563.5 183.5V192M564.5 185.5V193.5M565.5 184.5V195.5M566.5 184.5V194.5M567.5 185.5V193M568.5 182V192M569.5 183.5V191.5M570.5 184V193M571.5 184.5V194M572.5 184.5V194.5M573.5 184V193.5M574.5 184.5V194M575.5 183V193.5M576.5 184.5V194M577.5 185V193.5M578.5 185V193.5M579.5 183.5V194M580.5 181.5V192M581.5 184.5V193M582.5 185V192.5M583.5 186V192.5M584.5 184.5V193M585.5 184.5V193M586.5 183.5V193M587.5 185.5V194M588.5 184.5V192.5M589.5 184.5V194M590.5 183.5V192M591.5 185V192M592.5 180.5V192.5M593.5 183.5V192.5M594.5 183V192.5M595.5 185V192M596.5 183.5V193.5M597.5 185V192M598.5 184.5V192.5M599.5 184V192.5M600.5 183.5V191.5M601.5 184V193.5M602.5 185V193M603.5 184.5V193.5M604.5 185V194M605.5 185.5V193.5M606.5 184V197M607.5 185.5V194.5M608.5 184.5V193M609.5 186V194M610.5 185.5V194.5M611.5 184V192.5M612.5 183.5V195.5M613.5 185V192.5M614.5 184.5V193M615.5 185V193.5M616.5 183V193M617.5 184V192M618.5 184.5V193.5M619.5 185V192.5M620.5 181.5V192.5M621.5 185V193M622.5 185.5V192.5M623.5 183.5V193M624.5 184.5V194.5M625.5 185V194M626.5 183.5V193.5M627.5 185.5V196M628.5 185V192.5M629.5 184.5V193M630.5 184.5V193.5M631.5 184V193M632.5 183.5V192.5M633.5 186V193M634.5 183.5V193.5M635.5 183.5V193M636.5 183V194M637.5 184.5V193M638.5 184V194M639.5 183.5V193M640.5 186V193M641.5 185.5V193.5M642.5 178V194M643.5 182V192.5M644.5 185V193M645.5 185V195M646.5 183.5V193M647.5 183.5V193M648.5 184V193.5M649.5 185.5V195M650.5 183.5V193M651.5 183V193.5M652.5 185.5V194M653.5 184.5V194M654.5 184V195.5M655.5 184.5V193.5M656.5 184.5V192.5M657.5 185V193.5M658.5 185V193.5M659.5 185V195M660.5 185V194M661.5 184V192.5M662.5 185.5V193M663.5 184.5V192.5M664.5 185V193.5M665.5 183.5V192.5M666.5 184.5V194M667.5 180V192.5M668.5 184.5V194M669.5 182V192.5M670.5 184V194M671.5 184V194.5M672.5 183.5V194M673.5 185.5V193.5M674.5 185V192.5M675.5 185.5V194.5M676.5 183.5V193M677.5 185V192.5" stroke="#0000ff" stroke-opacity="1.0" fill="none"/>
<text x="403.9" y="163.1" font-size="6.7" text-anchor="end" class="t">2000</text>
<text x="403.9" y="191.35" font-size="6.7" text-anchor="end" class="t">0</text>
<text x="403.9" y="220.5" font-size="6.7" text-anchor="end" class="t">-2000</text>
<text x="407.1" y="227.1" font-size="6.7" text-anchor="middle" class="t">0</text>
<text x="452.45" y="227.1" font-size="6.7" text-anchor="middle" class="t">50</text>
<text x="497.8" y="227.1" font-size="6.7" text-anchor="middle" class="t">100</text>
<text x="543.15" y="227.1" font-size="6.7" text-anchor="middle" class="t">150</text>
<text x="588.5" y="227.1" font-size="6.7" text-anchor="middle" class="t">200</text>
<text x="633.85" y="227.1" font-size="6.7" text-anchor="middle" class="t">250</text>
<text x="679.2" y="227.1" font-size="6.7" text-anchor="middle" class="t">300</text>
<rect x="605.2" y="164.4" width="66.5" height="10.5" fill="#fff" stroke="#555555" stroke-width="0.8"/>
<path d="M607.8 169.5H632.8" stroke="#0000ff" stroke-width="0.8"/>
<text x="669.4" y="172.35" font-size="6.75" text-anchor="end" class="t">SF-RFI, PB</text>
<text x="542.55" y="237.2" font-size="7.9" text-anchor="middle" class="t">Time (s)</text>
<text transform="translate(378.9 109.67) rotate(-90)" font-size="8.27" text-anchor="middle" class="t">FLL Discriminator Output (rad/s)</text>
<rect x="230.5" y="285.5" width="272.3" height="56.3" fill="none" stroke="#4a4a4a" stroke-width="0.9"/>
<path d="M230.5 341.8v-2.6M230.5 285.5v2.6M275.88 341.8v-2.6M275.88 285.5v2.6M321.27 341.8v-2.6M321.27 285.5v2.6M366.65 341.8v-2.6M366.65 285.5v2.6M412.03 341.8v-2.6M412.03 285.5v2.6M457.42 341.8v-2.6M457.42 285.5v2.6M502.8 341.8v-2.6M502.8 285.5v2.6M230.5 285.5h2.6M502.8 285.5h-2.6M230.5 313.65h2.6M502.8 313.65h-2.6M230.5 341.8h2.6M502.8 341.8h-2.6" stroke="#4a4a4a" stroke-width="0.8" fill="none"/>
<path d="M233.5 316.5V317M236.5 316.5V317M239.5 310.5V311M242.5 310.5V311M243.5 317V317.5M245.5 316.5V317M248.5 316V316.5M249.5 310.5V311M251.5 310.5V311M254.5 310V310.5M259.5 316.5V317M264.5 316.5V317M266.5 310.5V311M270.5 310.5V311M271.5 310V310.5M275.5 316.5V317M279.5 310.5V311M281.5 316.5V317M282.5 317V317.5M283.5 310V310.5M284.5 317V317.5M285.5 316.5V317M289.5 317V317.5M290.5 317V317.5M296.5 310.5V311M300.5 310.5V311M302.5 310V310.5M306.5 310.5V311M311.5 316V316.5M312.5 310.5V311M313.5 316.5V317M316.5 316.5V317M318.5 310V310.5M319.5 317.5V318M320.5 310.5V311M320.5 317V317.5M322.5 310V310.5M323.5 316.5V317M325.5 309.5V310M326.5 316.5V317M327.5 310V310.5M328.5 310.5V311M329.5 317V317.5M333.5 316.5V317M335.5 316.5V317M339.5 316.5V317M341.5 310V310.5M345.5 310.5V311M345.5 316V316.5M347.5 316.5V317M349.5 310V310.5M349.5 316.5V317M350.5 310V310.5M351.5 310V310.5M352.5 310.5V311M352.5 316.5V317M357.5 310V310.5M360.5 310.5V311M361.5 316.5V317M368.5 316.5V317M371.5 310.5V311M371.5 316.5V317M374.5 310V310.5M374.5 316V316.5M375.5 310V310.5M377.5 310.5V311M380.5 310V310.5M382.5 316.5V317M384.5 316.5V317M386.5 310.5V311M389.5 316.5V317M392.5 316.5V317M393.5 309.5V310M393.5 316.5V317M395.5 310V310.5M396.5 316.5V317M397.5 310V310.5M399.5 316.5V317M400.5 310.5V311M402.5 310V310.5M402.5 316.5V317M406.5 317V317.5M410.5 316.5V317M415.5 316.5V317M416.5 310V310.5M418.5 310V310.5M420.5 317V317.5M422.5 317V317.5M425.5 310.5V311M425.5 316.5V317M427.5 310.5V311M429.5 309.5V310M430.5 310V310.5M433.5 310V310.5M435.5 317.5V318M438.5 316.5V317M440.5 310V310.5M446.5 310.5V311M449.5 316.5V317M453.5 316V316.5M455.5 310V310.5M455.5 317V317.5M457.5 317V317.5M458.5 310.5V311M458.5 317V317.5M459.5 310V310.5M459.5 317V317.5M461.5 316.5V317M474.5 310V310.5M475.5 310.5V311M475.5 316.5V317M477.5 310.5V311M478.5 310.5V311M478.5 316.5V317M481.5 310.5V311M483.5 317V317.5M484.5 316.5V317M489.5 310.5V311M492.5 310.5V311M492.5 316.5V317M493.5 310V310.5M497.5 316.5V317M498.5 310V310.5M498.5 316.5V317" stroke="#808080" stroke-opacity="0.25" fill="none"/>
<path d="M232.5 316.5V317M233.5 310.5V311M235.5 316.5V317M239.5 316.5V317M240.5 310.5V311M240.5 316.5V317M241.5 310V310.5M242.5 316.5V317M244.5 316.5V317M247.5 316V316.5M250.5 310.5V311M250.5 317V317.5M252.5 310.5V311M254.5 316.5V317M255.5 316V316.5M256.5 316.5V317M258.5 310.5V311M261.5 316V316.5M263.5 310.5V311M264.5 310.5V311M265.5 316V316.5M267.5 310.5V311M268.5 316V316.5M269.5 310.5V311M269.5 316.5V317M273.5 310.5V311M275.5 310.5V311M282.5 310.5V311M283.5 316.5V317M287.5 310.5V311M288.5 316.5V317M289.5 310V310.5M291.5 310.5V311M291.5 316.5V317M292.5 316.5V317M293.5 316.5V317M294.5 310V310.5M294.5 316.5V317M297.5 310V310.5M298.5 310V310.5M298.5 316.5V317M299.5 310.5V311M301.5 310V310.5M303.5 310.5V311M304.5 310.5V311M308.5 316.5V317M310.5 310.5V311M310.5 316.5V317M311.5 310.5V311M313.5 310V310.5M314.5 316.5V317M315.5 310.5V311M317.5 310.5V311M321.5 310.5V311M324.5 310.5V311M325.5 317V317.5M328.5 316.5V317M330.5 316.5V317M333.5 310V310.5M334.5 316.5V317M335.5 310.5V311M337.5 310.5V311M337.5 316.5V317M338.5 310.5V311M340.5 310.5V311M342.5 316.5V317M343.5 310.5V311M343.5 316.5V317M344.5 310.5V311M346.5 316.5V317M351.5 316V316.5M353.5 310.5V311M354.5 316.5V317M355.5 316.5V317M356.5 310V310.5M358.5 310V310.5M359.5 310.5V311M360.5 316.5V317M362.5 316.5V317M367.5 316.5V317M368.5 310.5V311M369.5 310.5V311M369.5 316.5V317M373.5 310.5V311M373.5 316.5V317M375.5 316.5V317M379.5 310.5V311M380.5 316.5V317M381.5 310V310.5M381.5 317V317.5M383.5 317V317.5M384.5 310V310.5M387.5 310.5V311M388.5 310.5V311M388.5 316.5V317M391.5 316.5V317M394.5 317V317.5M396.5 310.5V311M397.5 316.5V317M398.5 316.5V317M400.5 316.5V317M403.5 310.5V311M403.5 317V317.5M404.5 310.5V311M404.5 316.5V317M407.5 316.5V317M408.5 310.5V311M409.5 310V310.5M409.5 316.5V317M411.5 310V310.5M413.5 316.5V317M414.5 310.5V311M414.5 316.5V317M417.5 310V310.5M418.5 316.5V317M420.5 310V310.5M421.5 310V310.5M423.5 316.5V317M424.5 316.5V317M426.5 316V316.5M428.5 309.5V310M432.5 316.5V317M434.5 316V316.5M438.5 310.5V311M440.5 316.5V317M441.5 316.5V317M442.5 316V316.5M443.5 316.5V317M447.5 316.5V317M450.5 316.5V317M453.5 310V310.5M454.5 310V310.5M454.5 316.5V317M456.5 310V310.5M461.5 310.5V311M463.5 310.5V311M466.5 317V317.5M470.5 310.5V311M470.5 316.5V317M471.5 310V310.5M471.5 316.5V317M473.5 310V310.5M477.5 316.5V317M479.5 310V310.5M481.5 316V316.5M483.5 310.5V311M485.5 310V310.5M485.5 316.5V317M486.5 316.5V317M488.5 310.5V311M489.5 316.5V317M491.5 310V310.5M491.5 316.5V317M497.5 310V310.5M499.5 316.5V317" stroke="#808080" stroke-opacity="0.5" fill="none"/>
<path d="M234.5 310.5V311M234.5 316.5V317M235.5 310.5V311M235.5 316V316.5M236.5 310.5V311M238.5 310.5V311M238.5 316.5V317M246.5 316.5V317M248.5 310.5V311M249.5 316V316.5M253.5 310V310.5M255.5 310.5V311M257.5 316V316.5M258.5 316.5V317M260.5 316V316.5M261.5 310.5V311M262.5 310.5V311M262.5 316.5V317M266.5 316V316.5M267.5 316.5V317M268.5 310.5V311M270.5 316V316.5M271.5 310.5V311M271.5 316V316.5M272.5 310V311M272.5 316V316.5M274.5 310.5V311M274.5 316.5V317M276.5 310V310.5M277.5 316V316.5M278.5 310.5V311M278.5 316V316.5M280.5 310V311M281.5 310.5V311M282.5 316.5V317M284.5 316.5V317M285.5 310.5V311M286.5 310.5V311M286.5 316.5V317M287.5 316.5V317M288.5 310.5V311M289.5 316.5V317M290.5 310.5V311M292.5 310.5V311M293.5 310.5V311M295.5 316V316.5M297.5 316.5V317M299.5 316V316.5M300.5 316.5V317M301.5 316V316.5M302.5 316V316.5M303.5 316.5V317.5M304.5 316V316.5M305.5 310.5V311M305.5 316.5V317M306.5 316V316.5M307.5 310.5V311M307.5 316V316.5M308.5 310.5V311M309.5 310.5V311M312.5 316.5V317M314.5 310.5V311M318.5 310.5V311M319.5 316.5V317.5M321.5 316.5V317M322.5 310.5V311M323.5 310V310.5M325.5 310V311M325.5 316.5V317M326.5 310.5V311M327.5 310.5V311M329.5 310.5V311M329.5 316.5V317M330.5 310.5V311M331.5 310.5V311M332.5 310V310.5M333.5 310.5V311M334.5 310.5V311M336.5 316.5V317M338.5 316V316.5M339.5 310.5V311M340.5 316V316.5M341.5 316V316.5M342.5 310.5V311M346.5 310.5V311M348.5 310.5V311M348.5 316.5V317M349.5 310.5V311M350.5 310.5V311M351.5 310.5V311M354.5 310.5V311M355.5 310.5V311M356.5 310.5V311M357.5 310.5V311M357.5 316.5V317M358.5 310.5V311M358.5 316V316.5M361.5 310.5V311M362.5 310.5V311M363.5 310.5V311M363.5 316.5V317M364.5 310.5V311M365.5 310.5V311M366.5 316.5V317M370.5 316.5V317M371.5 316V316.5M372.5 310.5V311M374.5 310.5V311M375.5 310.5V311M376.5 310.5V311M376.5 316V316.5M377.5 316.5V317M378.5 316.5V317M381.5 316.5V317M382.5 310.5V311M383.5 310.5V311M383.5 316.5V317M384.5 310.5V311M385.5 310V310.5M385.5 316.5V317M389.5 310.5V311M390.5 316V316.5M392.5 310.5V311M393.5 310V311M393.5 316V316.5M394.5 310.5V311M394.5 316.5V317M395.5 316.5V317M398.5 310.5V311M399.5 310.5V311M401.5 310.5V311M403.5 316V317M405.5 310.5V311M405.5 316.5V317M406.5 310.5V311M406.5 316.5V317M407.5 310.5V311M409.5 310.5V311M411.5 310.5V311M411.5 316.5V317M412.5 310.5V311M412.5 316V316.5M415.5 310.5V311M416.5 310.5V311M416.5 316.5V317M417.5 310.5V311M418.5 310.5V311M419.5 311V311.5M419.5 316.5V317M420.5 310.5V311M420.5 316.5V317M422.5 311V311.5M422.5 316.5V317M424.5 310.5V311M424.5 316V316.5M426.5 310.5V311M427.5 316V316.5M428.5 310V311M430.5 316.5V317M431.5 310.5V311M432.5 310.5V311M432.5 316V316.5M434.5 310.5V311M435.5 310.5V311M435.5 317V317.5M439.5 310V310.5M439.5 316.5V317M440.5 310.5V311M443.5 310.5V311M444.5 310.5V311M445.5 316.5V317M447.5 310.5V311M448.5 310.5V311M448.5 316.5V317M450.5 310.5V311M451.5 310.5V311M452.5 310V310.5M452.5 316.5V317M453.5 310.5V311M454.5 310.5V311M456.5 310.5V311M456.5 316.5V317M457.5 316.5V317M458.5 316.5V317M459.5 310.5V311M459.5 316.5V317M460.5 310.5V311M460.5 316V316.5M462.5 310.5V311M463.5 316V316.5M464.5 310.5V311M464.5 316V316.5M465.5 316.5V317M466.5 316.5V317M467.5 310.5V311M467.5 316.5V317M468.5 310.5V311M469.5 310.5V311M469.5 316.5V317M476.5 310.5V311M476.5 316V316.5M479.5 316V316.5M480.5 311V311.5M480.5 316.5V317M482.5 316.5V317M484.5 310V310.5M485.5 310.5V311M486.5 310.5V311M487.5 316V316.5M488.5 316.5V317M489.5 316V316.5M491.5 310.5V311M494.5 310V310.5M495.5 310.5V311M495.5 316V316.5M499.5 310.5V311M500.5 310.5V311M500.5 316.5V317M501.5 310.5V311" stroke="#808080" stroke-opacity="0.75" fill="none"/>
<path d="M231.5 310.5V316.5M232.5 311V316.5M233.5 311V316.5M234.5 311V316.5M235.5 311V316M236.5 311V316.5M237.5 311V316.5M238.5 311V316.5M239.5 311V316.5M240.5 311V316.5M241.5 310.5V316.5M242.5 311V316.5M243.5 310.5V317M244.5 310.5V316.5M245.5 310.5V316.5M246.5 311V316.5M247.5 311V316M248.5 311V316M249.5 311V316M250.5 311V317M251.5 311V316.5M252.5 311V316.5M253.5 310.5V316.5M254.5 310.5V316.5M255.5 311V316M256.5 310.5V316.5M257.5 311V316M258.5 311V316.5M259.5 311V316.5M260.5 310.5V316M261.5 311V316M262.5 311V316.5M263.5 311V316.5M264.5 311V316.5M265.5 311V316M266.5 311V316M267.5 311V316.5M268.5 311V316M269.5 311V316.5M270.5 311V316M271.5 311V316M272.5 311V316M273.5 311V316.5M274.5 311V316.5M275.5 311V316.5M276.5 310.5V316.5M277.5 310.5V316M278.5 311V316M279.5 311V316.5M280.5 311V316.5M281.5 311V316.5M282.5 311V316.5M283.5 310.5V316.5M284.5 310.5V316.5M285.5 311V316.5M286.5 311V316.5M287.5 311V316.5M288.5 311V316.5M289.5 310.5V316.5M290.5 311V317M291.5 311V316.5M292.5 311V316.5M293.5 311V316.5M294.5 310.5V316.5M295.5 311V316M296.5 311V316.5M297.5 310.5V316.5M298.5 310.5V316.5M299.5 311V316M300.5 311V316.5M301.5 310.5V316M302.5 310.5V316M303.5 311V316.5M304.5 311V316M305.5 311V316.5M306.5 311V316M307.5 311V316M308.5 311V316.5M309.5 311V316.5M310.5 311V316.5M311.5 311V316M312.5 311V316.5M313.5 310.5V316.5M314.5 311V316.5M315.5 311V317M316.5 310.5V316.5M317.5 311V316.5M318.5 311V316.5M319.5 311V316.5M320.5 311V317M321.5 311V316.5M322.5 311V316.5M323.5 310.5V316.5M324.5 311V316.5M325.5 311V316.5M326.5 311V316.5M327.5 311V316.5M328.5 311V316.5M329.5 311V316.5M330.5 311V316.5M331.5 311V316.5M332.5 310.5V316.5M333.5 311V316.5M334.5 311V316.5M335.5 311V316.5M336.5 311V316.5M337.5 311V316.5M338.5 311V316M339.5 311V316.5M340.5 311V316M341.5 310.5V316M342.5 311V316.5M343.5 311V316.5M344.5 311V316.5M345.5 311V316M346.5 311V316.5M347.5 311V316.5M348.5 311V316.5M349.5 311V316.5M350.5 311V316.5M351.5 311V316M352.5 311V316.5M353.5 311V316.5M354.5 311V316.5M355.5 311V316.5M356.5 311V316.5M357.5 311V316.5M358.5 311V316M359.5 311V316.5M360.5 311V316.5M361.5 311V316.5M362.5 311V316.5M363.5 311V316.5M364.5 311V316.5M365.5 311V316.5M366.5 311V316.5M367.5 311V316.5M368.5 311V316.5M369.5 311V316.5M370.5 311V316.5M371.5 311V316M372.5 311V316.5M373.5 311V316.5M374.5 311V316M375.5 311V316.5M376.5 311V316M377.5 311V316.5M378.5 311V316.5M379.5 311V316.5M380.5 310.5V316.5M381.5 310.5V316.5M382.5 311V316.5M383.5 311V316.5M384.5 311V316.5M385.5 310.5V316.5M386.5 311V316.5M387.5 311V316.5M388.5 311V316.5M389.5 311V316.5M390.5 311V316M391.5 310.5V316.5M392.5 311V316.5M393.5 311V316M394.5 311V316.5M395.5 310.5V316.5M396.5 311V316.5M397.5 310.5V316.5M398.5 311V316.5M399.5 311V316.5M400.5 311V316.5M401.5 311V316.5M402.5 310.5V316.5M403.5 311V316M404.5 311V316.5M405.5 311V316.5M406.5 311V316.5M407.5 311V316.5M408.5 311V316.5M409.5 311V316.5M410.5 310.5V316.5M411.5 311V316.5M412.5 311V316M413.5 311V316.5M414.5 311V316.5M415.5 311V316.5M416.5 311V316.5M417.5 311V316.5M418.5 311V316.5M419.5 311.5V316.5M420.5 311V316.5M421.5 310.5V316.5M422.5 311.5V316.5M423.5 310.5V316.5M424.5 311V316M425.5 311V316.5M426.5 311V316M427.5 311V316M428.5 311V316.5M429.5 310V316.5M430.5 310.5V316.5M431.5 311V316.5M432.5 311V316M433.5 310.5V316.5M434.5 311V316M435.5 311V317M436.5 311V316.5M437.5 310.5V316.5M438.5 311V316.5M439.5 310.5V316.5M440.5 311V316.5M441.5 310.5V316.5M442.5 311V316M443.5 311V316.5M444.5 311V316.5M445.5 310.5V316.5M446.5 311V317M447.5 311V316.5M448.5 311V316.5M449.5 310.5V316.5M450.5 311V316.5M451.5 311V316.5M452.5 310.5V316.5M453.5 311V316M454.5 311V316.5M455.5 310.5V317M456.5 311V316.5M457.5 310.5V316.5M458.5 311V316.5M459.5 311V316.5M460.5 311V316M461.5 311V316.5M462.5 311V316.5M463.5 311V316M464.5 311V316M465.5 311V316.5M466.5 310.5V316.5M467.5 311V316.5M468.5 311V316.5M469.5 311V316.5M470.5 311V316.5M471.5 310.5V316.5M472.5 311V316.5M473.5 310.5V316.5M474.5 310.5V316.5M475.5 311V316.5M476.5 311V316M477.5 311V316.5M478.5 311V316.5M479.5 310.5V316M480.5 311.5V316.5M481.5 311V316M482.5 310.5V316.5M483.5 311V317M484.5 310.5V316.5M485.5 311V316.5M486.5 311V316.5M487.5 310.5V316M488.5 311V316.5M489.5 311V316M490.5 311V316.5M491.5 311V316.5M492.5 311V316.5M493.5 310.5V316.5M494.5 310.5V316.5M495.5 311V316M496.5 311V316.5M497.5 310.5V316.5M498.5 310.5V316.5M499.5 311V316.5M500.5 311V316.5M501.5 311V316.5" stroke="#808080" stroke-opacity="1.0" fill="none"/>
<text x="227.9" y="288.1" font-size="6.7" text-anchor="end" class="t">2</text>
<text x="227.9" y="316.25" font-size="6.7" text-anchor="end" class="t">0</text>
<text x="227.9" y="345.3" font-size="6.7" text-anchor="end" class="t">-2</text>
<text x="231.1" y="351.9" font-size="6.7" text-anchor="middle" class="t">0</text>
<text x="276.48" y="351.9" font-size="6.7" text-anchor="middle" class="t">50</text>
<text x="321.87" y="351.9" font-size="6.7" text-anchor="middle" class="t">100</text>
<text x="367.25" y="351.9" font-size="6.7" text-anchor="middle" class="t">150</text>
<text x="412.63" y="351.9" font-size="6.7" text-anchor="middle" class="t">200</text>
<text x="458.02" y="351.9" font-size="6.7" text-anchor="middle" class="t">250</text>
<text x="503.4" y="351.9" font-size="6.7" text-anchor="middle" class="t">300</text>
<rect x="433.5" y="289.6" width="62.3" height="10.3" fill="#fff" stroke="#555555" stroke-width="0.8"/>
<path d="M436.1 294.5H461.1" stroke="#808080" stroke-width="0.8"/>
<text x="493.5" y="297.45" font-size="6.75" text-anchor="end" class="t">SF-NoRFI</text>
<rect x="230.5" y="364.5" width="272.3" height="56.4" fill="none" stroke="#4a4a4a" stroke-width="0.9"/>
<path d="M230.5 420.9v-2.6M230.5 364.5v2.6M275.88 420.9v-2.6M275.88 364.5v2.6M321.27 420.9v-2.6M321.27 364.5v2.6M366.65 420.9v-2.6M366.65 364.5v2.6M412.03 420.9v-2.6M412.03 364.5v2.6M457.42 420.9v-2.6M457.42 364.5v2.6M502.8 420.9v-2.6M502.8 364.5v2.6M230.5 364.5h2.6M502.8 364.5h-2.6M230.5 392.7h2.6M502.8 392.7h-2.6M230.5 420.9h2.6M502.8 420.9h-2.6" stroke="#4a4a4a" stroke-width="0.8" fill="none"/>
<path d="M231.5 373V373.5M232.5 403V404M233.5 371V371.5M233.5 414V414.5M236.5 370.5V371M236.5 409V409.5M237.5 372V372.5M239.5 414.5V415M240.5 371.5V372M240.5 410.5V411M241.5 413V413.5M242.5 371.5V372M242.5 413.5V414.5M243.5 370.5V371M243.5 414.5V415M244.5 414.5V415M245.5 375.5V376M245.5 409.5V410M246.5 376V376.5M246.5 411.5V412M247.5 377V377.5M247.5 414.5V415M248.5 375.5V376M248.5 411V411.5M250.5 375.5V376M250.5 414.5V415M252.5 414V414.5M254.5 411V411.5M255.5 373.5V374M256.5 413.5V414M257.5 375.5V376M258.5 375V375.5M258.5 404V405M259.5 370.5V371M259.5 408.5V409M260.5 410.5V411M262.5 371V371.5M263.5 372.5V373M264.5 374.5V375M264.5 414.5V415M266.5 375.5V376M268.5 414.5V415M269.5 408V408.5M270.5 375V375.5M271.5 370.5V371M272.5 372.5V373M273.5 381V381.5M273.5 408V408.5M274.5 403V403.5M275.5 371.5V372M276.5 372.5V373M279.5 414.5V415M280.5 371.5V372M280.5 405.5V406M282.5 378.5V379M283.5 414V414.5M284.5 374.5V375M287.5 371.5V372M288.5 405V405.5M289.5 411V411.5M290.5 413.5V414M291.5 414V414.5M292.5 370.5V371M292.5 412V412.5M293.5 370.5V371M293.5 409V409.5M294.5 377V378.5M294.5 414.5V415M295.5 377V382M295.5 403V404M298.5 375.5V376M298.5 410V410.5M299.5 373.5V374M299.5 408V408.5M300.5 371.5V372M300.5 412.5V413M301.5 384V384.5M301.5 403V403.5M302.5 412V412.5M303.5 371.5V372M304.5 378.5V379M306.5 370.5V371M306.5 413.5V414M307.5 413.5V414M308.5 381.5V382M308.5 414V414.5M309.5 372V372.5M309.5 408.5V409M310.5 373V373.5M310.5 412.5V413M312.5 410V410.5M313.5 403V404M317.5 379V379.5M317.5 411V411.5M318.5 414V414.5M319.5 375.5V376M320.5 370.5V371M321.5 376V376.5M322.5 370.5V371M322.5 411V411.5M324.5 380V380.5M326.5 371V371.5M326.5 411.5V412M327.5 371V371.5M327.5 408V408.5M328.5 372.5V373M329.5 375V375.5M331.5 372.5V373M331.5 410.5V411M332.5 410.5V411M333.5 377V377.5M333.5 411.5V412M334.5 371V371.5M334.5 412V412.5M336.5 372V372.5M336.5 404.5V405M337.5 414V414.5M339.5 374V374.5M340.5 376.5V377M341.5 407.5V408M342.5 414V414.5M343.5 375.5V376M344.5 370.5V371M344.5 402.5V403M349.5 414V414.5M351.5 411V411.5M352.5 414V414.5M354.5 413V413.5M355.5 406.5V407M356.5 414.5V415M357.5 403.5V406M359.5 371.5V372M360.5 376.5V377M361.5 370.5V371M361.5 414V414.5M363.5 414V414.5M365.5 372.5V373M366.5 373.5V374M368.5 412.5V413M369.5 379V379.5M370.5 409.5V410M372.5 377.5V378M372.5 402V402.5M373.5 411V411.5M374.5 371.5V372M375.5 376V376.5M376.5 374V374.5M380.5 370.5V371M381.5 372V372.5M383.5 374V374.5M387.5 371V371.5M387.5 410.5V411M388.5 376V376.5M390.5 409V409.5M391.5 410V410.5M392.5 402.5V403M394.5 410V410.5M395.5 373V373.5M396.5 379V379.5M397.5 373.5V374M398.5 414.5V415M399.5 371V371.5M401.5 409.5V410M402.5 373V373.5M403.5 379.5V380M405.5 371V371.5M406.5 377.5V378M407.5 381V381.5M408.5 372.5V373M408.5 411.5V412M410.5 371.5V372M410.5 414V414.5M412.5 371.5V372M414.5 370.5V371M415.5 379V379.5M416.5 372.5V373M418.5 372V372.5M418.5 407.5V408M419.5 371.5V372M420.5 408V413.5M423.5 371V371.5M423.5 409.5V410M424.5 370.5V371M424.5 411.5V412M426.5 370.5V371M427.5 376.5V377M428.5 414.5V415M429.5 370.5V371M429.5 411V411.5M430.5 376.5V377M431.5 375.5V376M432.5 371.5V372M432.5 405V406M433.5 370.5V371M434.5 385V385.5M437.5 380.5V381M438.5 412V412.5M440.5 382.5V383M441.5 406.5V407M442.5 374.5V375M442.5 413.5V414M444.5 410V413.5M445.5 414V414.5M446.5 372V372.5M446.5 406V406.5M448.5 373.5V374M449.5 413V413.5M454.5 406.5V407M455.5 371V371.5M455.5 414.5V415M456.5 372V372.5M457.5 377.5V378M457.5 413.5V414M458.5 374V374.5M458.5 414.5V415M461.5 377.5V378M461.5 414V414.5M462.5 370.5V371M466.5 414V414.5M467.5 371.5V372M467.5 412V412.5M468.5 401.5V402M469.5 371V371.5M470.5 380V380.5M471.5 409.5V410M473.5 404.5V406.5M474.5 372V372.5M475.5 380V380.5M475.5 411.5V412M476.5 374.5V375M477.5 375V375.5M477.5 409.5V410M478.5 410V410.5M479.5 372.5V373M480.5 412V412.5M483.5 411V411.5M484.5 407.5V408M485.5 373.5V374M485.5 410V410.5M486.5 414.5V415M487.5 371.5V372M487.5 414V414.5M489.5 371.5V372M492.5 413V413.5M493.5 377V377.5M494.5 384.5V385M494.5 408.5V409M495.5 414.5V415M496.5 409.5V410M497.5 375.5V376M497.5 414.5V415M499.5 371.5V372" stroke="#ff0000" stroke-opacity="0.25" fill="none"/>
<path d="M231.5 373.5V378M231.5 410V414.5M232.5 371V371.5M232.5 402.5V403M233.5 371.5V372M233.5 407.5V414M234.5 377.5V378.5M234.5 404.5V411M235.5 371.5V377.5M235.5 410V410.5M236.5 371V385M236.5 404V409M237.5 404V411.5M238.5 378.5V383.5M238.5 406.5V410M240.5 372V374.5M240.5 406.5V410.5M241.5 371V380.5M241.5 403V413M242.5 413V413.5M244.5 376.5V378.5M245.5 376V386M246.5 409V411.5M247.5 377.5V385.5M248.5 376V376.5M248.5 408.5V411M249.5 371.5V375.5M249.5 410V411M251.5 374V375M251.5 410.5V414M252.5 406.5V414M253.5 378.5V381.5M253.5 406V412M254.5 372V373.5M254.5 408.5V411M255.5 374V374.5M255.5 413.5V414M256.5 374V380.5M256.5 412V413.5M257.5 376V383.5M257.5 412V413M258.5 375.5V385.5M258.5 403.5V404M259.5 399.5V408.5M260.5 371V375M261.5 372.5V384M261.5 404V413M262.5 371.5V379M262.5 412V412.5M263.5 373V378M263.5 407.5V414.5M264.5 375V381M264.5 412V414.5M265.5 371V372M265.5 405V413.5M266.5 376V385M266.5 411V414M267.5 373V375.5M267.5 404.5V413.5M268.5 373V377M268.5 414V414.5M269.5 377.5V382.5M269.5 407V408M270.5 375.5V383.5M270.5 402V404M271.5 371V373M271.5 407.5V411.5M272.5 373V382.5M272.5 411.5V412M273.5 381.5V382M273.5 404.5V408M274.5 371V371.5M274.5 401V403M275.5 372V373.5M275.5 412V414M276.5 373V379M276.5 414V414.5M277.5 373.5V377M277.5 411.5V412.5M278.5 371V373M278.5 405V405.5M279.5 372V373.5M279.5 404.5V414.5M280.5 372V375.5M280.5 401.5V405.5M281.5 371V372.5M281.5 406.5V414M282.5 379V384.5M282.5 402V409M283.5 372V376M283.5 413.5V414M284.5 375V377M284.5 406V411M285.5 374.5V376.5M285.5 411.5V413M286.5 408.5V412.5M287.5 372V386M287.5 403V409M288.5 382V386M288.5 399.5V405M289.5 372V375M289.5 410V411M290.5 371V373.5M290.5 410V413.5M291.5 374V375.5M291.5 413V414M292.5 409.5V412M293.5 371V379M293.5 407.5V409M294.5 378.5V379M294.5 412V414.5M295.5 382V382.5M295.5 402.5V403M296.5 380.5V381M296.5 405V413M297.5 407V412M298.5 376V384.5M298.5 405.5V410M299.5 374V385.5M299.5 403.5V408M300.5 372V372.5M300.5 408.5V412.5M301.5 384.5V386M301.5 402.5V403M302.5 378V381M302.5 409.5V412M303.5 372V372.5M304.5 379V383M304.5 406.5V414M305.5 380.5V384.5M305.5 401.5V403M306.5 413V413.5M307.5 370.5V371M307.5 405.5V413.5M308.5 382V385.5M308.5 413.5V414M309.5 406V408.5M310.5 373.5V374M310.5 409V412.5M311.5 376V378M311.5 413V414.5M312.5 372V375.5M313.5 374.5V380.5M314.5 374.5V383.5M314.5 414V414.5M315.5 373V385.5M315.5 410V411M317.5 404V411M318.5 372V375M318.5 412V414M319.5 406V412.5M320.5 371V372.5M320.5 411.5V412.5M321.5 376.5V385M321.5 404.5V405.5M322.5 371V371.5M322.5 402V411M323.5 410.5V413.5M324.5 380.5V385M324.5 413V413.5M325.5 372.5V379.5M326.5 371.5V372M326.5 403V411.5M327.5 371.5V373M327.5 400V408M328.5 373V374.5M328.5 410.5V414.5M329.5 375.5V380.5M329.5 405V407M330.5 376V382.5M330.5 404V413M331.5 373V377.5M331.5 408V410.5M332.5 372V373.5M332.5 405.5V410.5M333.5 377.5V379.5M333.5 402.5V411.5M334.5 371.5V381M334.5 406.5V412M335.5 370.5V371M335.5 408.5V409.5M336.5 372.5V374.5M336.5 402.5V404.5M337.5 373.5V377.5M337.5 413.5V414M338.5 371.5V373.5M338.5 406V408.5M339.5 374.5V380M339.5 410.5V414.5M340.5 377V381.5M340.5 412.5V414.5M341.5 376.5V383M341.5 406.5V407.5M342.5 372V375.5M343.5 376V385M343.5 406.5V412.5M344.5 401.5V402.5M345.5 379V385M345.5 405.5V406.5M346.5 372.5V375M346.5 401.5V413M347.5 371V371.5M347.5 414V414.5M348.5 372V374M348.5 410.5V411.5M349.5 371V371.5M350.5 373V380.5M350.5 409.5V413M351.5 373.5V380M351.5 405.5V411M352.5 372V381.5M352.5 406V414M353.5 371.5V372M353.5 411.5V414M354.5 374.5V380M354.5 410.5V413M355.5 374.5V384M355.5 404.5V406.5M356.5 381V385.5M356.5 413.5V414.5M357.5 371.5V372.5M358.5 371V371.5M358.5 414V414.5M359.5 372V372.5M359.5 409.5V411M360.5 377V382M360.5 405V414M361.5 371V374M361.5 411.5V414M362.5 381V384M362.5 404.5V413.5M363.5 383.5V384M364.5 374.5V375M364.5 406.5V410.5M365.5 373V381M365.5 410V413M366.5 374V382M366.5 403.5V412.5M367.5 380.5V384M367.5 406.5V409.5M368.5 380V381M368.5 401.5V412.5M369.5 379.5V382.5M369.5 411V413.5M370.5 376.5V381M370.5 404.5V409.5M371.5 399V410.5M372.5 378V380.5M372.5 399.5V402M373.5 374.5V375.5M373.5 405.5V411M374.5 372V376.5M374.5 414V414.5M375.5 376.5V381M375.5 410V413M376.5 374.5V378M376.5 407.5V414.5M377.5 374.5V386M377.5 410V411M378.5 408.5V414M379.5 371V378.5M379.5 413.5V414M380.5 414V414.5M381.5 372.5V375.5M381.5 406.5V408.5M382.5 382V384.5M382.5 402V407.5M383.5 374.5V377.5M383.5 407.5V408M384.5 374V376M384.5 412V414.5M385.5 372V373.5M385.5 414V414.5M386.5 371V371.5M386.5 413.5V414.5M387.5 371.5V378.5M387.5 406V410.5M388.5 376.5V379M388.5 400.5V410M389.5 371V375M389.5 411V412.5M390.5 373.5V374M390.5 407.5V409M391.5 379.5V381.5M391.5 408.5V410M392.5 378V382M393.5 372.5V375M393.5 402.5V411M394.5 371.5V383M394.5 402.5V410M395.5 373.5V381.5M395.5 403V409M396.5 403V409M397.5 374V379M397.5 406.5V408.5M398.5 372V379M398.5 406.5V414.5M399.5 371.5V376M399.5 401.5V407.5M400.5 374.5V376.5M400.5 409.5V414M401.5 371V375M401.5 403.5V409.5M402.5 373.5V384.5M402.5 408V409.5M403.5 380V382.5M403.5 413.5V414M404.5 376V384M404.5 406V409M405.5 371.5V373M405.5 409V413M406.5 378V381.5M406.5 405.5V411M407.5 381.5V382.5M407.5 406.5V414.5M408.5 373V375M408.5 401.5V411.5M409.5 377V379M409.5 410.5V414.5M410.5 372V372.5M410.5 411.5V414M411.5 371V374M411.5 411.5V413M412.5 372V386M413.5 377.5V383.5M413.5 404.5V412M414.5 371V373.5M414.5 401.5V409M415.5 379.5V382.5M415.5 406.5V412M416.5 373V375.5M416.5 402V411M417.5 371V371.5M417.5 408.5V414M418.5 372.5V378.5M418.5 403V407.5M420.5 379.5V380.5M420.5 407.5V408M421.5 376V377.5M421.5 403V408.5M422.5 371V372.5M423.5 371.5V380M423.5 409V409.5M424.5 403V411.5M425.5 373V373.5M425.5 402.5V403M426.5 371V380M426.5 404.5V413M427.5 377V385.5M427.5 403V413M428.5 370.5V371M429.5 407V411M430.5 377V377.5M431.5 376V378M431.5 413.5V414M432.5 372V385M432.5 404.5V405M433.5 402.5V405M434.5 406.5V414.5M435.5 371.5V385M435.5 410V413.5M436.5 371.5V374M436.5 407V413M437.5 381V381.5M437.5 404V412M438.5 371.5V377.5M438.5 405V412M439.5 382.5V385M439.5 400.5V410.5M440.5 383V385.5M440.5 413.5V414.5M441.5 375V381.5M441.5 406V406.5M442.5 375V376.5M442.5 410.5V413.5M443.5 373V383.5M443.5 413V413.5M444.5 373.5V376M444.5 409.5V410M445.5 375V383.5M445.5 412.5V414M446.5 372.5V377.5M446.5 405.5V406M447.5 371.5V372M447.5 411V413.5M448.5 374V383.5M448.5 404.5V412M449.5 373.5V385M449.5 404.5V413M450.5 376.5V386M450.5 407.5V410M451.5 371.5V377.5M451.5 404V411M452.5 375V378.5M452.5 407V412M453.5 371V372.5M453.5 402V414.5M454.5 380.5V381.5M454.5 402V406.5M455.5 371.5V372.5M455.5 410.5V414.5M456.5 372.5V381M456.5 409.5V413M457.5 378V386M457.5 413V413.5M458.5 374.5V381.5M459.5 406.5V414.5M460.5 379.5V380M460.5 410.5V414.5M461.5 411.5V414M462.5 371V382M462.5 404.5V409M463.5 406V414.5M464.5 372.5V375M465.5 378V379M465.5 412V413.5M466.5 371V375M466.5 413V414M467.5 372V377.5M467.5 405.5V412M468.5 376V384.5M468.5 401V401.5M469.5 371.5V375.5M469.5 414.5V415M470.5 380.5V384M470.5 414V414.5M471.5 372.5V376M471.5 406.5V409.5M472.5 372V384M473.5 371V374M473.5 404V404.5M474.5 372.5V373M474.5 411.5V412M475.5 405V411.5M476.5 375V381M477.5 375.5V384M477.5 407.5V409.5M478.5 383V385M478.5 402.5V410M479.5 373V374M479.5 407.5V410M480.5 374.5V378.5M480.5 408V412M481.5 372.5V378M481.5 409.5V413M482.5 378.5V383.5M482.5 403.5V404.5M483.5 376V383M483.5 409.5V411M484.5 374V384.5M484.5 403.5V407.5M485.5 374V377.5M485.5 403V410M486.5 371V382.5M487.5 372V384M487.5 413.5V414M488.5 373.5V374M488.5 410V410.5M489.5 372V377.5M489.5 412.5V414M490.5 405.5V409.5M491.5 380.5V384M491.5 407V409M492.5 374V379M492.5 411V413M493.5 377.5V380.5M493.5 407.5V409M494.5 385V386M494.5 407.5V408.5M495.5 377.5V380.5M495.5 410V414.5M496.5 379.5V380M496.5 405.5V409.5M497.5 376V385M497.5 413V414.5M498.5 372V378.5M498.5 406V412.5M499.5 372V377.5M499.5 408.5V414.5M500.5 375.5V380.5M500.5 402.5V410M501.5 383V383.5M501.5 402.5V404.5" stroke="#ff0000" stroke-opacity="0.5" fill="none"/>
<path d="M231.5 378V378.5M231.5 409.5V410M232.5 371.5V372M232.5 400V402.5M233.5 372V372.5M233.5 407V407.5M234.5 378.5V379.5M235.5 377.5V378M235.5 409.5V410M236.5 385V385.5M236.5 400V404M237.5 372.5V373M237.5 403.5V404M238.5 383.5V384M238.5 406V406.5M239.5 371V371.5M239.5 414V414.5M240.5 374.5V375M240.5 405.5V406.5M241.5 380.5V381M241.5 402.5V403M242.5 372V372.5M243.5 371V371.5M243.5 414V414.5M244.5 378.5V379M244.5 414V414.5M245.5 386V386.5M245.5 409V409.5M246.5 376.5V377M246.5 408.5V409M247.5 414V414.5M248.5 376.5V377M248.5 408V408.5M249.5 375.5V376M249.5 409.5V410M250.5 376V376.5M250.5 414V414.5M251.5 375V375.5M251.5 410V410.5M252.5 372V372.5M252.5 406V406.5M253.5 381.5V382M253.5 405.5V406M254.5 373.5V374M254.5 408V408.5M255.5 374.5V375M255.5 413V413.5M256.5 380.5V381M256.5 411.5V412M257.5 383.5V384M257.5 411.5V412M258.5 385.5V386M258.5 399.5V403.5M259.5 371V371.5M260.5 375V375.5M260.5 410V410.5M261.5 399.5V404M262.5 379V379.5M262.5 411.5V412M263.5 407V407.5M264.5 381V381.5M264.5 411V412M265.5 372V372.5M265.5 402.5V405M266.5 385V385.5M266.5 410.5V411M267.5 375.5V376M267.5 404V404.5M268.5 377V377.5M268.5 413.5V414M269.5 406.5V407M270.5 401.5V402M271.5 373V373.5M271.5 407V407.5M272.5 382.5V383M272.5 411V411.5M273.5 382V382.5M273.5 403V404.5M274.5 371.5V372M274.5 400.5V401M275.5 373.5V374M275.5 411.5V412M276.5 379V379.5M277.5 377V377.5M277.5 411V411.5M278.5 373V373.5M278.5 404.5V405M279.5 373.5V374M279.5 404V404.5M280.5 375.5V376M281.5 372.5V373M281.5 406V406.5M283.5 376V376.5M283.5 412.5V413.5M284.5 377V377.5M284.5 399V406M285.5 376.5V377M285.5 411V411.5M286.5 376.5V377M286.5 408V408.5M287.5 399.5V403M288.5 399V399.5M289.5 375V375.5M290.5 373.5V374M290.5 409.5V410M291.5 375.5V376M291.5 412.5V413M292.5 371V371.5M292.5 409V409.5M293.5 379V379.5M293.5 407V407.5M294.5 411.5V412M296.5 404.5V405M297.5 372V372.5M297.5 406.5V407M298.5 384.5V385M298.5 405V405.5M299.5 403V403.5M300.5 372.5V373M300.5 408V408.5M301.5 401.5V402.5M302.5 381V381.5M302.5 409V409.5M303.5 372.5V373M303.5 412.5V413M304.5 406V406.5M305.5 399.5V401.5M306.5 371V372M306.5 412.5V413M307.5 371V371.5M307.5 400V405.5M308.5 413V413.5M309.5 372.5V373M309.5 401V406M310.5 374V374.5M310.5 408.5V409M311.5 378V378.5M311.5 412.5V413M312.5 375.5V376M312.5 409.5V410M313.5 400.5V403M314.5 383.5V384M314.5 413.5V414M315.5 385.5V386M315.5 409.5V410M316.5 374.5V375M316.5 410V410.5M317.5 402V404M318.5 375V375.5M318.5 411.5V412M319.5 376V376.5M319.5 405.5V406M320.5 372.5V373M320.5 411V411.5M321.5 385V385.5M321.5 401.5V404.5M322.5 371.5V372M323.5 378.5V379M323.5 410V410.5M324.5 385V385.5M324.5 412.5V413M325.5 379.5V380M325.5 405.5V406M326.5 372V372.5M327.5 373V373.5M327.5 399.5V400M328.5 374.5V375M328.5 410V410.5M329.5 380.5V381M329.5 404.5V405M330.5 382.5V383M330.5 403.5V404M331.5 377.5V378M331.5 407.5V408M332.5 373.5V374M333.5 379.5V380M334.5 381V381.5M334.5 406V406.5M335.5 408V408.5M336.5 374.5V375M336.5 399V402.5M337.5 413V413.5M338.5 373.5V374.5M338.5 402V406M339.5 380V380.5M339.5 410V410.5M340.5 381.5V382M340.5 412V412.5M341.5 406V406.5M342.5 375.5V376M342.5 413.5V414M343.5 385V385.5M343.5 399.5V406.5M344.5 371V372M344.5 401V401.5M345.5 385V385.5M346.5 375V375.5M347.5 371.5V372M347.5 413.5V414M348.5 374V374.5M348.5 410V410.5M349.5 371.5V372M349.5 413.5V414M350.5 380.5V381M350.5 409V409.5M351.5 405V405.5M352.5 405.5V406M353.5 372V372.5M353.5 411V411.5M354.5 380V380.5M354.5 410V410.5M355.5 384V384.5M355.5 404V404.5M356.5 413V413.5M357.5 372.5V373M357.5 401.5V403.5M358.5 371.5V372M358.5 413.5V414M359.5 372.5V373M359.5 409V409.5M360.5 382V382.5M361.5 374V374.5M361.5 411V411.5M362.5 400V404.5M363.5 384V384.5M363.5 413.5V414M364.5 375V375.5M364.5 404V406.5M365.5 409.5V410M366.5 382V382.5M366.5 403V403.5M367.5 406V406.5M368.5 381V381.5M368.5 400.5V401.5M369.5 410.5V411M370.5 381V381.5M370.5 401.5V404.5M371.5 386V386.5M372.5 380.5V381M373.5 375.5V376M373.5 405V405.5M374.5 376.5V377M374.5 413.5V414M375.5 409.5V410M376.5 378V378.5M376.5 407V407.5M377.5 409.5V410M378.5 371.5V372M378.5 408V408.5M379.5 378.5V379M379.5 413V413.5M380.5 371V372M380.5 413.5V414M381.5 375.5V376M381.5 403.5V406.5M382.5 384.5V385M382.5 401.5V402M383.5 377.5V378M384.5 376V376.5M384.5 411.5V412M385.5 373.5V374.5M385.5 413.5V414M386.5 371.5V372.5M386.5 413V413.5M387.5 378.5V379M387.5 404.5V406M388.5 379V379.5M388.5 399.5V400.5M389.5 375V375.5M389.5 410.5V411M390.5 374V374.5M390.5 407V407.5M392.5 382V382.5M392.5 401V402.5M393.5 375V375.5M393.5 402V402.5M394.5 383V383.5M395.5 381.5V382M395.5 402.5V403M396.5 379.5V380M397.5 379V379.5M398.5 379V379.5M398.5 406V406.5M399.5 376V376.5M400.5 376.5V377M400.5 409V409.5M401.5 375V375.5M401.5 400.5V403.5M403.5 382.5V383M403.5 413V413.5M404.5 384V384.5M404.5 401V406M405.5 373V373.5M405.5 408.5V409M406.5 381.5V382M406.5 405V405.5M408.5 375V375.5M409.5 379V379.5M409.5 410V410.5M410.5 372.5V373M410.5 411V411.5M411.5 374V374.5M411.5 411V411.5M412.5 386V386.5M412.5 411V411.5M413.5 383.5V384M413.5 402V404.5M414.5 373.5V374M415.5 382.5V383M416.5 375.5V376M416.5 401.5V402M417.5 371.5V372M417.5 408V408.5M418.5 378.5V379M418.5 400.5V403M419.5 372V372.5M419.5 413V413.5M420.5 380.5V381M420.5 402V407.5M421.5 377.5V378M421.5 402.5V403M422.5 372.5V373M422.5 414V414.5M423.5 380V380.5M424.5 371V371.5M424.5 401V403M426.5 404V404.5M428.5 371V371.5M428.5 414V414.5M429.5 371V371.5M429.5 399.5V407M430.5 377.5V378M430.5 414V414.5M431.5 378V378.5M431.5 413V413.5M432.5 385V385.5M432.5 404V404.5M433.5 371V371.5M434.5 406V406.5M435.5 409.5V410M436.5 374V374.5M436.5 406.5V407M438.5 377.5V378M438.5 404.5V405M439.5 385V385.5M439.5 400V400.5M440.5 385.5V386M440.5 413V413.5M441.5 381.5V382M441.5 402V406M442.5 376.5V377M442.5 410V410.5M443.5 383.5V384M443.5 412.5V413M444.5 376V376.5M444.5 409V409.5M445.5 383.5V384M445.5 412V412.5M446.5 377.5V378M446.5 402.5V405.5M447.5 372V372.5M447.5 410.5V411M448.5 383.5V384M448.5 401.5V404.5M449.5 385V385.5M449.5 404V404.5M450.5 407V407.5M451.5 403.5V404M452.5 378.5V379M452.5 406.5V407M453.5 372.5V373M453.5 401.5V402M455.5 372.5V373M455.5 410V410.5M456.5 409V409.5M457.5 386V386.5M457.5 412.5V413M458.5 414V414.5M459.5 385V385.5M459.5 405.5V406.5M460.5 380V380.5M460.5 409.5V410.5M461.5 411V411.5M462.5 382V382.5M462.5 402.5V404.5M463.5 371V371.5M463.5 405.5V406M464.5 375V375.5M464.5 414V414.5M465.5 379V379.5M465.5 411.5V412M466.5 375V375.5M466.5 412.5V413M467.5 377.5V378M467.5 399.5V405.5M469.5 375.5V376M469.5 414V414.5M470.5 413.5V414M471.5 376V376.5M471.5 405V406.5M472.5 384V384.5M472.5 413.5V414.5M473.5 374V374.5M473.5 401V404M474.5 373V373.5M474.5 411V411.5M475.5 380.5V381M475.5 401V405M476.5 381V381.5M476.5 413.5V414.5M477.5 384V384.5M477.5 407V407.5M478.5 402V402.5M479.5 374V374.5M479.5 407V407.5M480.5 378.5V379M480.5 407.5V408M481.5 378V378.5M481.5 409V409.5M482.5 402V403.5M483.5 383V383.5M483.5 409V409.5M484.5 384.5V385M484.5 400.5V403.5M485.5 377.5V378M485.5 402.5V403M486.5 414V414.5M487.5 413V413.5M488.5 374V374.5M488.5 409.5V410M489.5 377.5V378M489.5 412V412.5M490.5 372.5V373M490.5 405V405.5M491.5 406.5V407M492.5 410.5V411M493.5 380.5V381M494.5 386V386.5M494.5 407V407.5M495.5 380.5V381M495.5 409.5V410M496.5 405V405.5M497.5 385V385.5M497.5 412.5V413M498.5 378.5V379M498.5 403V406M499.5 377.5V378M499.5 408V408.5M500.5 380.5V381M500.5 400V402.5M501.5 402V402.5" stroke="#ff0000" stroke-opacity="0.75" fill="none"/>
<path d="M231.5 378.5V409.5M232.5 372V400M233.5 372.5V407M234.5 379.5V404.5M235.5 378V409.5M236.5 385.5V400M237.5 373V403.5M238.5 384V406M239.5 371.5V414M240.5 375V405.5M241.5 381V402.5M242.5 372.5V413M243.5 371.5V414M244.5 379V414M245.5 386.5V409M246.5 377V408.5M247.5 385.5V414M248.5 377V408M249.5 376V409.5M250.5 376.5V414M251.5 375.5V410M252.5 372.5V406M253.5 382V405.5M254.5 374V408M255.5 375V413M256.5 381V411.5M257.5 384V411.5M258.5 386V399.5M259.5 371.5V399.5M260.5 375.5V410M261.5 384V399.5M262.5 379.5V411.5M263.5 378V407M264.5 381.5V411M265.5 372.5V402.5M266.5 385.5V410.5M267.5 376V404M268.5 377.5V413.5M269.5 382.5V406.5M270.5 383.5V401.5M271.5 373.5V407M272.5 383V411M273.5 382.5V403M274.5 372V400.5M275.5 374V411.5M276.5 379.5V414M277.5 377.5V411M278.5 373.5V404.5M279.5 374V404M280.5 376V401.5M281.5 373V406M282.5 384.5V402M283.5 376.5V412.5M284.5 377.5V399M285.5 377V411M286.5 377V408M287.5 386V399.5M288.5 386V399M289.5 375.5V410M290.5 374V409.5M291.5 376V412.5M292.5 371.5V409M293.5 379.5V407M294.5 379V411.5M295.5 382.5V402.5M296.5 381V404.5M297.5 372.5V406.5M298.5 385V405M299.5 385.5V403M300.5 373V408M301.5 386V401.5M302.5 381.5V409M303.5 373V412.5M304.5 383V406M305.5 384.5V399.5M306.5 372V412.5M307.5 371.5V400M308.5 385.5V413M309.5 373V401M310.5 374.5V408.5M311.5 378.5V412.5M312.5 376V409.5M313.5 380.5V400.5M314.5 384V413.5M315.5 386V409.5M316.5 375V410M317.5 379.5V402M318.5 375.5V411.5M319.5 376.5V405.5M320.5 373V411M321.5 385.5V401.5M322.5 372V402M323.5 379V410M324.5 385.5V412.5M325.5 380V405.5M326.5 372.5V403M327.5 373.5V399.5M328.5 375V410M329.5 381V404.5M330.5 383V403.5M331.5 378V407.5M332.5 374V405.5M333.5 380V402.5M334.5 381.5V406M335.5 371V408M336.5 375V399M337.5 377.5V413M338.5 374.5V402M339.5 380.5V410M340.5 382V412M341.5 383V406M342.5 376V413.5M343.5 385.5V399.5M344.5 372V401M345.5 385.5V405.5M346.5 375.5V401.5M347.5 372V413.5M348.5 374.5V410M349.5 372V413.5M350.5 381V409M351.5 380V405M352.5 381.5V405.5M353.5 372.5V411M354.5 380.5V410M355.5 384.5V404M356.5 385.5V413M357.5 373V401.5M358.5 372V413.5M359.5 373V409M360.5 382.5V405M361.5 374.5V411M362.5 384V400M363.5 384.5V413.5M364.5 375.5V404M365.5 381V409.5M366.5 382.5V403M367.5 384V406M368.5 381.5V400.5M369.5 382.5V410.5M370.5 381.5V401.5M371.5 386.5V399M372.5 381V399.5M373.5 376V405M374.5 377V413.5M375.5 381V409.5M376.5 378.5V407M377.5 386V409.5M378.5 372V408M379.5 379V413M380.5 372V413.5M381.5 376V403.5M382.5 385V401.5M383.5 378V407.5M384.5 376.5V411.5M385.5 374.5V413.5M386.5 372.5V413M387.5 379V404.5M388.5 379.5V399.5M389.5 375.5V410.5M390.5 374.5V407M391.5 381.5V408.5M392.5 382.5V401M393.5 375.5V402M394.5 383.5V402.5M395.5 382V402.5M396.5 380V403M397.5 379.5V406.5M398.5 379.5V406M399.5 376.5V401.5M400.5 377V409M401.5 375.5V400.5M402.5 384.5V408M403.5 383V413M404.5 384.5V401M405.5 373.5V408.5M406.5 382V405M407.5 382.5V406.5M408.5 375.5V401.5M409.5 379.5V410M410.5 373V411M411.5 374.5V411M412.5 386.5V411M413.5 384V402M414.5 374V401.5M415.5 383V406.5M416.5 376V401.5M417.5 372V408M418.5 379V400.5M419.5 372.5V413M420.5 381V402M421.5 378V402.5M422.5 373V414M423.5 380.5V409M424.5 371.5V401M425.5 373.5V402.5M426.5 380V404M427.5 385.5V403M428.5 371.5V414M429.5 371.5V399.5M430.5 378V414M431.5 378.5V413M432.5 385.5V404M433.5 371.5V402.5M434.5 385.5V406M435.5 385V409.5M436.5 374.5V406.5M437.5 381.5V404M438.5 378V404.5M439.5 385.5V400M440.5 386V413M441.5 382V402M442.5 377V410M443.5 384V412.5M444.5 376.5V409M445.5 384V412M446.5 378V402.5M447.5 372.5V410.5M448.5 384V401.5M449.5 385.5V404M450.5 386V407M451.5 377.5V403.5M452.5 379V406.5M453.5 373V401.5M454.5 381.5V402M455.5 373V410M456.5 381V409M457.5 386.5V412.5M458.5 381.5V414M459.5 385.5V405.5M460.5 380.5V409.5M461.5 378V411M462.5 382.5V402.5M463.5 371.5V405.5M464.5 375.5V414M465.5 379.5V411.5M466.5 375.5V412.5M467.5 378V399.5M468.5 384.5V401M469.5 376V414M470.5 384V413.5M471.5 376.5V405M472.5 384.5V413.5M473.5 374.5V401M474.5 373.5V411M475.5 381V401M476.5 381.5V413.5M477.5 384.5V407M478.5 385V402M479.5 374.5V407M480.5 379V407.5M481.5 378.5V409M482.5 383.5V402M483.5 383.5V409M484.5 385V400.5M485.5 378V402.5M486.5 382.5V414M487.5 384V413M488.5 374.5V409.5M489.5 378V412M490.5 373V405M491.5 384V406.5M492.5 379V410.5M493.5 381V407.5M494.5 386.5V407M495.5 381V409.5M496.5 380V405M497.5 385.5V412.5M498.5 379V403M499.5 378V408M500.5 381V400M501.5 383.5V402" stroke="#ff0000" stroke-opacity="1.0" fill="none"/>
<text x="227.9" y="367.1" font-size="6.7" text-anchor="end" class="t">2</text>
<text x="227.9" y="395.3" font-size="6.7" text-anchor="end" class="t">0</text>
<text x="227.9" y="424.4" font-size="6.7" text-anchor="end" class="t">-2</text>
<text x="231.1" y="431" font-size="6.7" text-anchor="middle" class="t">0</text>
<text x="276.48" y="431" font-size="6.7" text-anchor="middle" class="t">50</text>
<text x="321.87" y="431" font-size="6.7" text-anchor="middle" class="t">100</text>
<text x="367.25" y="431" font-size="6.7" text-anchor="middle" class="t">150</text>
<text x="412.63" y="431" font-size="6.7" text-anchor="middle" class="t">200</text>
<text x="458.02" y="431" font-size="6.7" text-anchor="middle" class="t">250</text>
<text x="503.4" y="431" font-size="6.7" text-anchor="middle" class="t">300</text>
<rect x="442.5" y="369" width="52.8" height="10.2" fill="#fff" stroke="#555555" stroke-width="0.8"/>
<path d="M445.1 374.5H470.1" stroke="#ff0000" stroke-width="0.8"/>
<text x="493" y="376.8" font-size="6.75" text-anchor="end" class="t">SF-RFI</text>
<rect x="230.5" y="443.7" width="272.3" height="56.6" fill="none" stroke="#4a4a4a" stroke-width="0.9"/>
<path d="M230.5 500.3v-2.6M230.5 443.7v2.6M275.88 500.3v-2.6M275.88 443.7v2.6M321.27 500.3v-2.6M321.27 443.7v2.6M366.65 500.3v-2.6M366.65 443.7v2.6M412.03 500.3v-2.6M412.03 443.7v2.6M457.42 500.3v-2.6M457.42 443.7v2.6M502.8 500.3v-2.6M502.8 443.7v2.6M230.5 443.7h2.6M502.8 443.7h-2.6M230.5 472h2.6M502.8 472h-2.6M230.5 500.3h2.6M502.8 500.3h-2.6" stroke="#4a4a4a" stroke-width="0.8" fill="none"/>
<path d="M231.5 476.2V476.7M232.5 464.7V465.2M234.5 466.7V467.2M236.5 477.7V478.2M240.5 455.2V455.7M242.5 481.2V481.7M243.5 465.2V465.7M243.5 476.7V477.2M246.5 477.2V477.7M247.5 466.2V466.7M251.5 460.2V460.7M253.5 461.2V461.7M254.5 464.2V464.7M258.5 464.7V465.2M259.5 476.2V476.7M261.5 466.7V467.2M261.5 478.2V478.7M262.5 467.7V468.2M265.5 456.7V457.2M265.5 487.2V487.7M267.5 465.7V466.2M268.5 474.7V475.2M270.5 467.7V468.2M272.5 464.7V465.2M278.5 480.2V480.7M280.5 462.7V463.2M282.5 464.2V464.7M282.5 480.2V480.7M283.5 466.2V466.7M287.5 477.2V477.7M289.5 462.7V463.2M291.5 466.7V467.2M292.5 478.2V478.7M294.5 462.2V462.7M294.5 480.7V481.2M295.5 468.2V468.7M295.5 476.2V476.7M296.5 462.7V463.2M296.5 479.7V480.2M297.5 465.2V465.7M298.5 479.7V480.2M300.5 462.7V463.2M301.5 467.2V467.7M302.5 465.7V466.2M302.5 476.7V477.2M305.5 466.7V467.2M307.5 466.2V466.7M307.5 476.7V477.2M311.5 468.2V468.7M313.5 466.2V466.7M313.5 477.7V478.2M314.5 467.2V467.7M315.5 459.7V460.2M315.5 482.7V483.2M320.5 461.7V462.2M323.5 467.2V467.7M323.5 474.7V475.2M326.5 467.2V467.7M326.5 476.2V476.7M327.5 476.7V477.2M331.5 485.2V485.7M332.5 476.7V477.2M334.5 466.7V467.2M334.5 475.7V476.2M336.5 478.2V478.7M337.5 468.7V469.2M338.5 475.7V476.2M340.5 468.2V468.7M341.5 468.2V468.7M342.5 482.7V483.2M343.5 468.2V468.7M344.5 477.2V477.7M345.5 480.2V480.7M346.5 466.7V467.2M346.5 477.7V478.2M349.5 464.2V464.7M357.5 467.7V468.2M357.5 475.2V475.7M361.5 468.2V468.7M363.5 465.7V466.2M364.5 463.2V463.7M367.5 485.2V485.7M368.5 475.2V475.7M370.5 461.2V461.7M370.5 474.7V475.2M371.5 477.7V478.2M373.5 477.2V477.7M374.5 467.7V468.2M375.5 466.2V466.7M376.5 462.2V462.7M376.5 479.2V479.7M377.5 465.2V465.7M378.5 467.2V467.7M379.5 455.2V455.7M381.5 477.7V478.2M382.5 467.2V467.7M383.5 476.7V477.2M384.5 465.2V465.7M385.5 468.7V469.2M386.5 466.2V466.7M387.5 480.7V481.2M388.5 457.2V457.7M390.5 466.7V467.2M393.5 466.2V466.7M394.5 459.7V460.2M395.5 477.7V478.2M397.5 467.7V468.2M397.5 474.7V475.2M398.5 467.7V468.2M400.5 475.2V475.7M401.5 482.7V483.2M402.5 465.7V466.2M404.5 459.7V460.2M406.5 467.7V468.2M407.5 467.7V468.2M408.5 461.7V462.2M409.5 486.7V487.2M410.5 468.2V468.7M411.5 476.2V476.7M412.5 467.7V468.2M412.5 475.2V475.7M413.5 468.7V469.2M413.5 478.2V478.7M415.5 474.7V475.2M419.5 476.7V477.2M420.5 467.7V468.2M423.5 483.2V483.7M437.5 488.2V488.7M439.5 467.7V468.2M439.5 477.2V477.7M442.5 460.2V460.7M442.5 483.2V483.7M443.5 464.7V465.2M446.5 477.7V478.2M447.5 467.2V467.7M449.5 480.2V480.7M451.5 468.7V469.2M453.5 464.7V465.2M453.5 478.7V479.2M454.5 474.7V475.2M456.5 481.2V481.7M457.5 475.2V475.7M458.5 476.7V477.2M459.5 476.7V477.2M460.5 467.7V468.2M464.5 477.7V478.2M465.5 476.7V477.2M466.5 485.2V485.7M468.5 476.2V476.7M469.5 481.7V482.2M470.5 458.7V459.2M470.5 485.2V485.7M471.5 477.7V478.2M474.5 461.2V461.7M474.5 486.7V487.2M476.5 475.7V476.2M477.5 462.2V462.7M478.5 465.7V466.2M478.5 478.2V478.7M479.5 458.2V458.7M479.5 478.2V478.7M480.5 478.2V478.7M482.5 467.2V467.7M484.5 460.2V460.7M486.5 464.2V464.7M489.5 481.2V481.7M490.5 458.7V459.2M490.5 484.7V485.2M491.5 465.2V465.7M492.5 468.2V468.7M493.5 467.7V468.2M494.5 466.7V467.2M494.5 476.7V477.2M498.5 477.7V478.2M499.5 467.7V468.2M500.5 466.2V466.7M501.5 466.7V467.2M501.5 478.2V478.7" stroke="#0000ff" stroke-opacity="0.25" fill="none"/>
<path d="M231.5 466.7V467.7M231.5 475.7V476.2M232.5 465.2V468.2M232.5 476.7V477.2M233.5 462.2V465.2M233.5 477.2V484.2M234.5 467.2V468.7M234.5 476.2V479.7M235.5 467.2V467.7M235.5 476.2V477.7M236.5 466.7V468.7M236.5 476.2V477.7M237.5 459.2V462.2M237.5 477.7V480.7M238.5 464.7V465.7M238.5 481.7V482.2M239.5 455.7V456.7M239.5 475.7V476.7M240.5 455.7V468.7M240.5 477.7V488.2M241.5 468.2V469.2M241.5 476.7V478.2M242.5 467.2V467.7M243.5 465.7V466.7M243.5 475.7V476.7M244.5 461.2V468.7M244.5 475.2V482.2M245.5 461.2V467.7M245.5 477.7V483.7M246.5 463.7V467.2M246.5 475.2V477.2M247.5 466.7V467.2M247.5 475.7V476.2M248.5 461.2V463.2M248.5 477.2V487.7M249.5 467.7V468.2M250.5 475.2V476.2M251.5 460.7V465.7M251.5 477.2V484.2M252.5 476.2V477.7M253.5 461.7V467.7M254.5 464.7V467.7M254.5 475.7V477.2M256.5 465.2V467.7M256.5 476.2V476.7M258.5 465.2V466.7M258.5 476.2V479.7M259.5 467.2V468.2M260.5 468.2V468.7M260.5 475.7V478.7M261.5 467.2V467.7M261.5 475.7V478.2M262.5 468.2V468.7M263.5 465.7V468.2M264.5 467.7V468.2M264.5 476.7V477.2M265.5 457.2V465.7M265.5 476.2V487.2M266.5 460.2V460.7M267.5 466.2V468.7M267.5 475.2V476.2M268.5 466.7V467.2M269.5 456.7V466.7M269.5 475.7V487.7M270.5 476.7V480.7M271.5 477.7V478.7M272.5 465.2V467.2M272.5 477.7V486.2M273.5 463.7V467.7M274.5 460.2V465.7M274.5 477.2V484.7M275.5 466.7V467.2M275.5 475.7V476.2M276.5 467.7V468.2M276.5 476.2V477.7M277.5 476.2V476.7M278.5 456.7V465.2M278.5 477.7V480.2M279.5 477.7V478.7M280.5 463.2V465.2M280.5 476.7V477.7M281.5 467.2V467.7M281.5 475.7V476.2M282.5 464.7V468.2M282.5 477.2V480.2M283.5 466.7V468.2M283.5 475.7V476.2M284.5 469.2V469.7M284.5 484.2V485.2M285.5 468.7V469.2M285.5 474.7V475.2M286.5 479.7V480.2M287.5 467.7V468.7M288.5 465.2V465.7M288.5 477.2V477.7M289.5 463.2V463.7M289.5 474.7V475.2M290.5 476.7V481.7M291.5 467.2V469.2M291.5 475.7V477.7M292.5 466.7V467.7M292.5 476.2V478.2M293.5 465.2V467.7M293.5 480.7V481.2M294.5 462.7V467.2M294.5 477.2V480.7M296.5 463.2V467.2M296.5 476.7V479.7M297.5 465.7V467.2M297.5 475.7V476.2M298.5 466.2V467.7M298.5 477.2V479.7M299.5 476.7V478.7M300.5 463.2V467.7M300.5 486.7V488.2M301.5 476.2V479.2M302.5 466.2V467.2M302.5 476.2V476.7M303.5 468.2V468.7M304.5 467.7V468.7M304.5 476.7V481.7M305.5 467.2V467.7M305.5 475.7V477.2M306.5 465.7V467.7M307.5 466.7V468.2M308.5 466.2V467.7M308.5 475.7V477.7M309.5 465.7V467.7M309.5 475.7V476.7M310.5 475.7V477.2M311.5 476.2V477.7M312.5 460.2V469.2M312.5 475.7V483.7M313.5 466.7V468.2M313.5 477.2V477.7M314.5 467.7V468.7M314.5 475.7V476.7M315.5 460.2V468.2M315.5 476.7V482.7M316.5 467.2V467.7M317.5 464.7V465.2M318.5 461.2V466.2M318.5 476.2V483.7M319.5 468.2V468.7M319.5 479.2V480.2M320.5 462.2V467.7M321.5 455.2V468.7M321.5 475.7V488.7M322.5 466.7V468.2M322.5 475.7V477.7M323.5 467.7V468.7M324.5 468.2V468.7M325.5 468.2V468.7M327.5 468.2V468.7M327.5 476.2V476.7M328.5 467.7V468.7M328.5 476.2V485.2M329.5 468.2V468.7M329.5 475.7V477.2M330.5 468.7V469.2M330.5 476.7V477.2M331.5 458.7V468.7M331.5 475.7V485.2M332.5 462.2V467.2M332.5 475.2V476.7M333.5 461.7V463.7M333.5 477.2V481.2M334.5 467.2V468.2M335.5 468.2V468.7M335.5 477.7V481.2M336.5 467.7V468.2M336.5 476.7V478.2M337.5 476.7V478.7M338.5 468.7V469.2M338.5 475.2V475.7M339.5 482.2V483.7M340.5 476.2V476.7M341.5 476.7V477.2M342.5 481.2V482.7M343.5 483.2V483.7M344.5 467.2V467.7M344.5 475.7V477.2M345.5 464.2V467.2M345.5 475.7V480.2M346.5 467.2V468.2M347.5 460.2V464.7M347.5 476.7V483.2M349.5 464.7V466.2M349.5 477.2V480.2M350.5 466.2V467.2M350.5 475.7V476.2M351.5 464.2V467.7M352.5 466.2V467.2M353.5 461.7V462.2M353.5 475.7V477.7M354.5 467.7V468.7M354.5 475.2V475.7M355.5 475.7V476.2M356.5 468.2V468.7M356.5 475.7V478.7M357.5 468.2V468.7M357.5 474.7V475.2M358.5 467.2V468.2M358.5 475.2V476.2M359.5 483.2V484.2M360.5 458.2V468.7M360.5 477.2V486.7M361.5 476.7V478.2M362.5 467.7V468.2M362.5 476.7V478.2M363.5 466.2V467.2M363.5 475.2V479.2M364.5 463.7V467.7M364.5 475.7V476.2M365.5 466.2V468.7M365.5 475.2V484.2M366.5 467.7V468.7M366.5 478.2V480.7M367.5 467.7V469.2M369.5 466.2V467.2M369.5 476.2V476.7M371.5 468.7V469.2M371.5 477.2V477.7M372.5 474.7V475.2M373.5 475.2V477.2M374.5 475.7V476.2M375.5 466.7V468.2M376.5 462.7V465.7M376.5 475.7V479.2M377.5 465.7V466.2M377.5 476.7V477.2M378.5 480.2V480.7M379.5 455.7V466.7M379.5 476.7V487.7M380.5 468.2V469.2M380.5 475.7V478.2M381.5 468.2V468.7M381.5 477.2V477.7M382.5 467.7V468.7M382.5 483.7V484.2M383.5 467.7V468.2M384.5 465.7V468.2M385.5 481.7V482.2M386.5 466.7V467.2M386.5 476.7V478.2M387.5 463.2V466.2M387.5 476.7V480.7M388.5 457.7V467.7M388.5 476.7V485.7M389.5 467.2V468.2M389.5 481.2V481.7M390.5 467.2V468.7M390.5 474.7V475.2M391.5 467.2V467.7M391.5 475.2V475.7M392.5 466.2V467.2M393.5 466.7V467.2M394.5 460.2V466.7M394.5 476.2V485.2M395.5 466.2V466.7M395.5 475.7V477.7M396.5 457.7V467.7M396.5 477.7V485.7M397.5 468.2V469.2M398.5 468.2V468.7M398.5 476.2V477.2M399.5 466.7V468.2M400.5 467.7V468.2M400.5 474.7V475.2M401.5 468.7V469.2M401.5 482.2V482.7M402.5 466.2V466.7M402.5 474.7V475.7M403.5 467.7V468.2M403.5 476.2V476.7M404.5 460.2V468.7M404.5 478.2V482.2M405.5 465.2V465.7M405.5 474.2V474.7M407.5 468.2V468.7M407.5 475.7V477.2M408.5 462.2V462.7M408.5 475.7V476.2M409.5 466.2V467.2M410.5 474.2V475.2M411.5 468.2V468.7M413.5 475.7V478.2M414.5 463.7V464.2M414.5 474.7V475.2M415.5 466.7V467.2M416.5 468.2V468.7M417.5 468.7V469.2M417.5 475.7V480.2M419.5 466.7V468.2M419.5 475.2V476.7M420.5 475.7V476.2M421.5 474.7V475.2M422.5 468.7V469.2M422.5 475.7V477.2M423.5 467.7V468.7M424.5 460.2V460.7M425.5 467.7V468.2M425.5 477.7V478.7M428.5 454.7V467.7M428.5 476.7V489.2M429.5 463.2V466.2M429.5 477.2V479.7M430.5 463.2V466.7M430.5 476.7V477.7M431.5 475.2V481.7M432.5 477.7V478.2M434.5 465.2V467.7M434.5 479.7V480.2M435.5 468.2V468.7M435.5 475.7V476.2M436.5 463.7V467.2M436.5 476.7V482.2M437.5 455.7V466.2M437.5 478.7V488.2M438.5 463.2V466.7M438.5 476.2V481.2M439.5 468.2V468.7M439.5 476.7V477.2M440.5 453.2V453.7M440.5 478.2V479.2M441.5 467.2V467.7M441.5 475.7V476.2M442.5 460.7V467.7M442.5 477.7V483.2M443.5 465.2V467.7M443.5 475.2V477.2M444.5 465.7V468.7M444.5 475.7V476.2M445.5 474.7V475.2M446.5 463.7V468.7M446.5 477.2V477.7M448.5 475.7V477.7M449.5 466.2V466.7M449.5 478.7V480.2M450.5 468.2V468.7M450.5 475.7V479.7M451.5 474.2V474.7M452.5 467.7V468.2M452.5 477.2V478.7M453.5 465.2V467.2M453.5 478.2V478.7M454.5 466.7V468.2M455.5 477.2V477.7M456.5 461.7V465.7M456.5 476.7V481.2M457.5 467.7V469.2M458.5 469.2V469.7M459.5 468.2V468.7M459.5 476.2V476.7M460.5 468.2V468.7M460.5 474.7V475.2M461.5 468.2V468.7M461.5 476.2V477.7M462.5 463.2V466.7M462.5 480.2V481.2M463.5 458.2V467.2M463.5 478.2V485.2M464.5 468.2V469.2M464.5 476.7V477.7M465.5 467.2V467.7M465.5 476.2V476.7M466.5 460.2V467.7M466.5 475.7V485.2M467.5 468.2V469.2M467.5 475.7V476.7M468.5 464.2V464.7M469.5 462.2V466.2M469.5 476.2V481.7M470.5 459.2V466.2M470.5 477.2V485.2M471.5 476.2V477.7M472.5 456.2V457.2M472.5 475.7V478.7M473.5 467.7V469.2M473.5 474.7V475.2M474.5 461.7V468.2M474.5 477.2V486.7M475.5 464.2V468.2M475.5 476.2V477.2M476.5 462.7V466.2M477.5 462.7V465.7M477.5 482.2V484.7M478.5 474.7V478.2M479.5 458.7V467.7M479.5 477.7V478.2M480.5 467.7V468.2M480.5 477.7V478.2M481.5 467.2V467.7M481.5 477.7V488.7M482.5 467.7V468.2M482.5 476.7V479.7M483.5 467.7V468.2M483.5 475.7V477.2M484.5 460.7V467.7M484.5 476.2V476.7M485.5 468.7V469.2M485.5 476.7V478.2M486.5 464.7V466.7M486.5 476.7V478.7M487.5 466.7V467.7M487.5 475.7V476.7M488.5 463.7V467.7M488.5 476.7V477.2M489.5 461.2V466.2M489.5 475.2V481.2M490.5 459.2V468.2M490.5 480.7V484.7M491.5 465.7V467.2M491.5 478.2V478.7M492.5 476.7V477.7M493.5 475.2V475.7M494.5 467.2V467.7M495.5 463.7V467.2M495.5 476.7V479.7M496.5 467.7V468.2M496.5 478.7V479.2M497.5 475.7V476.2M498.5 468.7V469.2M498.5 475.2V477.7M499.5 475.2V478.2M501.5 467.2V468.2M501.5 475.7V478.2" stroke="#0000ff" stroke-opacity="0.5" fill="none"/>
<path d="M231.5 467.7V468.7M231.5 475.2V475.7M232.5 468.2V468.7M233.5 465.2V467.2M233.5 476.2V477.2M234.5 468.7V469.7M234.5 474.7V476.2M235.5 467.7V469.2M235.5 475.2V476.2M236.5 468.7V469.2M236.5 475.2V476.2M237.5 462.2V467.2M237.5 475.7V477.7M238.5 465.7V466.2M238.5 477.7V481.7M239.5 456.7V467.2M239.5 475.2V475.7M240.5 475.7V477.7M241.5 469.2V469.7M241.5 475.7V476.7M242.5 467.7V468.2M242.5 475.7V481.2M243.5 466.7V467.7M243.5 475.2V475.7M244.5 468.7V469.2M244.5 474.7V475.2M245.5 467.7V469.2M245.5 475.2V477.7M246.5 467.2V467.7M246.5 474.2V475.2M247.5 467.2V468.2M248.5 463.2V469.2M248.5 476.2V477.2M249.5 476.2V481.2M250.5 474.7V475.2M251.5 465.7V468.2M251.5 476.2V477.2M252.5 466.7V467.7M252.5 475.7V476.2M253.5 467.7V469.2M253.5 474.7V475.2M254.5 467.7V468.2M254.5 474.7V475.7M255.5 474.7V475.2M256.5 467.7V468.7M256.5 475.7V476.2M257.5 468.2V468.7M257.5 475.7V476.7M258.5 466.7V468.2M258.5 475.7V476.2M259.5 468.2V469.2M259.5 475.7V476.2M260.5 468.7V469.2M261.5 467.7V468.2M261.5 475.2V475.7M262.5 475.2V475.7M263.5 468.2V468.7M263.5 475.7V476.2M264.5 468.2V469.2M264.5 476.2V476.7M265.5 465.7V469.2M265.5 475.7V476.2M266.5 460.7V468.2M266.5 474.7V475.2M267.5 468.7V469.2M268.5 467.2V467.7M269.5 466.7V468.2M270.5 468.2V468.7M270.5 476.2V476.7M271.5 467.7V468.2M271.5 477.2V477.7M272.5 467.2V467.7M272.5 475.7V477.7M273.5 467.7V468.2M273.5 474.7V475.2M274.5 465.7V467.2M274.5 476.7V477.2M275.5 467.2V467.7M275.5 475.2V475.7M277.5 475.7V476.2M278.5 465.2V469.2M278.5 477.2V477.7M279.5 467.7V468.7M279.5 476.7V477.7M280.5 465.2V466.7M280.5 476.2V476.7M281.5 467.7V468.2M281.5 475.2V475.7M282.5 468.2V468.7M282.5 475.2V477.2M284.5 477.2V484.2M285.5 469.2V469.7M286.5 468.2V468.7M286.5 477.2V479.7M287.5 468.7V469.2M287.5 476.2V477.2M288.5 465.7V468.7M288.5 476.2V477.2M289.5 463.7V466.2M290.5 468.7V469.2M290.5 474.7V476.7M291.5 475.2V475.7M292.5 467.7V468.7M292.5 475.7V476.2M293.5 467.7V468.2M293.5 479.7V480.7M294.5 467.2V467.7M294.5 474.7V477.2M295.5 475.2V476.2M296.5 467.2V467.7M296.5 475.7V476.7M297.5 467.2V468.2M297.5 475.2V475.7M298.5 476.7V477.2M299.5 475.7V476.7M300.5 467.7V468.7M300.5 475.7V486.7M301.5 467.7V468.2M301.5 474.7V476.2M302.5 467.2V468.7M302.5 475.7V476.2M303.5 475.7V480.2M304.5 468.7V469.2M305.5 467.7V468.2M306.5 467.7V468.2M306.5 474.7V475.2M307.5 468.2V468.7M307.5 474.7V476.7M308.5 467.7V468.2M308.5 475.2V475.7M309.5 467.7V468.7M309.5 475.2V475.7M310.5 468.7V469.2M311.5 475.7V476.2M312.5 475.2V475.7M313.5 476.7V477.2M314.5 468.7V469.2M314.5 474.7V475.7M315.5 468.2V468.7M315.5 476.2V476.7M316.5 467.7V468.7M316.5 474.7V475.2M317.5 465.2V468.2M317.5 474.7V475.7M318.5 466.2V468.7M318.5 475.7V476.2M319.5 475.7V479.2M320.5 467.7V468.7M320.5 474.7V475.2M321.5 468.7V469.2M321.5 475.2V475.7M322.5 468.2V468.7M322.5 475.2V475.7M323.5 468.7V469.2M323.5 474.2V474.7M324.5 475.2V476.2M325.5 476.2V477.2M326.5 467.7V468.2M326.5 474.7V476.2M327.5 468.7V469.7M327.5 475.7V476.2M328.5 468.7V469.2M328.5 475.2V476.2M329.5 475.2V475.7M330.5 476.2V476.7M331.5 468.7V469.2M331.5 475.2V475.7M332.5 467.2V467.7M333.5 463.7V467.2M333.5 476.7V477.2M334.5 468.2V469.2M334.5 474.7V475.7M335.5 476.7V477.7M336.5 468.2V468.7M336.5 475.7V476.7M337.5 475.7V476.7M338.5 474.7V475.2M339.5 468.7V469.2M339.5 477.7V482.2M340.5 475.7V476.2M341.5 475.7V476.7M342.5 468.7V469.2M342.5 474.7V481.2M343.5 468.7V469.2M343.5 476.7V483.2M344.5 467.7V468.7M344.5 475.2V475.7M345.5 467.2V467.7M345.5 475.2V475.7M346.5 468.2V469.7M346.5 476.2V477.7M347.5 464.7V467.2M347.5 476.2V476.7M348.5 467.7V468.7M348.5 474.7V475.2M349.5 466.2V466.7M349.5 475.2V477.2M350.5 467.2V468.7M350.5 475.2V475.7M351.5 467.7V468.2M351.5 474.7V475.7M352.5 467.2V468.7M352.5 475.2V475.7M353.5 462.2V468.2M353.5 475.2V475.7M355.5 467.2V467.7M356.5 475.2V475.7M357.5 468.7V469.2M358.5 468.2V468.7M358.5 474.7V475.2M359.5 465.7V468.2M359.5 476.7V483.2M360.5 475.7V477.2M361.5 475.7V476.7M362.5 468.2V468.7M362.5 475.2V476.7M363.5 467.2V469.2M364.5 475.2V475.7M365.5 468.7V469.2M366.5 468.7V469.2M366.5 476.7V478.2M367.5 477.2V485.2M368.5 468.7V469.2M368.5 474.7V475.2M369.5 467.2V467.7M369.5 475.7V476.2M370.5 461.7V465.7M370.5 474.2V474.7M372.5 460.2V466.7M372.5 474.2V474.7M373.5 468.7V469.2M373.5 474.7V475.2M374.5 468.2V468.7M374.5 475.2V475.7M375.5 468.2V468.7M376.5 465.7V466.7M376.5 475.2V475.7M377.5 466.2V468.2M377.5 475.7V476.7M378.5 467.7V468.7M378.5 477.2V480.2M379.5 466.7V467.7M379.5 475.2V476.7M380.5 475.2V475.7M381.5 468.7V469.2M381.5 476.2V477.2M382.5 468.7V469.7M382.5 478.2V483.7M383.5 468.2V468.7M383.5 475.7V476.7M384.5 468.2V468.7M384.5 474.7V475.7M385.5 476.2V481.7M386.5 467.2V467.7M386.5 475.7V476.7M387.5 466.2V468.2M387.5 475.7V476.7M388.5 475.2V476.7M389.5 468.2V468.7M389.5 477.7V481.2M390.5 468.7V469.2M391.5 474.7V475.2M392.5 467.2V468.2M392.5 474.7V475.2M393.5 467.2V468.2M393.5 474.7V483.7M394.5 466.7V468.2M394.5 475.7V476.2M395.5 475.2V475.7M396.5 467.7V468.2M396.5 474.7V477.7M397.5 474.2V474.7M398.5 475.2V476.2M399.5 475.7V476.2M400.5 468.2V469.2M400.5 474.2V474.7M401.5 469.2V469.7M401.5 474.7V482.2M402.5 466.7V468.2M402.5 474.2V474.7M403.5 468.2V468.7M403.5 475.7V476.2M404.5 477.7V478.2M405.5 465.7V468.2M406.5 468.2V468.7M406.5 478.2V478.7M407.5 468.7V469.2M407.5 474.7V475.7M408.5 462.7V467.7M409.5 477.2V486.7M410.5 473.7V474.2M411.5 468.7V469.2M411.5 475.2V476.2M412.5 468.2V468.7M413.5 475.2V475.7M414.5 464.2V468.7M414.5 474.2V474.7M415.5 467.2V468.2M416.5 468.7V469.2M416.5 475.7V476.2M417.5 475.2V475.7M418.5 468.7V469.2M418.5 474.2V474.7M419.5 468.2V468.7M419.5 474.2V475.2M420.5 468.2V468.7M420.5 475.2V475.7M421.5 468.7V469.2M423.5 468.7V469.2M423.5 475.2V483.2M424.5 460.7V467.7M424.5 474.2V474.7M425.5 468.2V468.7M425.5 475.7V477.7M426.5 475.2V475.7M427.5 468.7V469.2M427.5 475.7V476.2M428.5 467.7V468.7M429.5 466.2V467.2M429.5 475.2V477.2M430.5 466.7V467.2M430.5 475.7V476.7M431.5 468.2V468.7M432.5 468.2V468.7M432.5 477.2V477.7M433.5 468.2V468.7M433.5 474.2V474.7M434.5 467.7V468.2M434.5 475.7V479.7M435.5 468.7V469.2M435.5 475.2V475.7M436.5 467.2V468.2M436.5 475.7V476.7M437.5 466.2V467.2M437.5 476.2V478.7M438.5 466.7V467.7M438.5 475.7V476.2M439.5 468.7V469.2M439.5 475.7V476.7M440.5 453.7V467.2M440.5 475.2V478.2M441.5 467.7V468.2M442.5 467.7V468.2M442.5 477.2V477.7M443.5 474.7V475.2M444.5 468.7V469.2M444.5 475.2V475.7M445.5 468.7V469.2M445.5 474.2V474.7M446.5 468.7V469.2M446.5 476.2V477.2M447.5 467.7V468.2M447.5 475.2V476.2M448.5 467.2V469.2M449.5 466.7V468.7M449.5 477.7V478.7M450.5 468.7V469.2M452.5 468.2V468.7M452.5 476.2V477.2M453.5 467.2V468.2M453.5 476.7V478.2M454.5 468.2V468.7M454.5 474.2V474.7M455.5 467.7V469.2M455.5 475.7V477.2M456.5 465.7V467.7M456.5 475.7V476.7M457.5 469.2V469.7M458.5 476.2V476.7M459.5 468.7V469.2M460.5 468.7V469.2M460.5 474.2V474.7M461.5 475.7V476.2M462.5 466.7V467.2M462.5 476.7V480.2M463.5 467.2V468.2M463.5 477.7V478.2M464.5 475.2V476.7M465.5 475.7V476.2M466.5 467.7V468.7M466.5 475.2V475.7M467.5 469.2V469.7M467.5 475.2V475.7M468.5 464.7V467.7M468.5 475.7V476.2M469.5 466.2V467.2M469.5 475.7V476.2M470.5 466.2V467.7M470.5 476.2V477.2M471.5 466.2V468.2M472.5 457.2V466.2M472.5 475.2V475.7M474.5 468.2V468.7M474.5 476.7V477.2M475.5 468.2V468.7M475.5 475.7V476.2M476.5 466.2V467.7M477.5 465.7V466.7M477.5 476.7V482.2M478.5 466.2V467.2M479.5 467.7V468.7M479.5 475.2V477.7M480.5 476.2V477.7M481.5 467.7V468.7M481.5 477.2V477.7M482.5 475.2V476.7M483.5 468.2V469.2M483.5 475.2V475.7M484.5 467.7V468.2M484.5 475.7V476.2M485.5 476.2V476.7M486.5 466.7V467.2M486.5 474.7V476.7M487.5 467.7V469.2M487.5 475.2V475.7M488.5 476.2V476.7M489.5 466.2V468.2M489.5 474.7V475.2M490.5 468.2V469.2M490.5 475.7V480.7M491.5 467.2V469.2M491.5 475.2V478.2M492.5 468.7V469.2M492.5 476.2V476.7M493.5 468.2V469.2M494.5 467.7V468.2M494.5 476.2V476.7M495.5 467.2V468.2M495.5 475.2V476.7M496.5 468.2V468.7M496.5 476.2V478.7M497.5 467.2V468.2M497.5 475.2V475.7M499.5 468.2V468.7M500.5 475.7V476.2M501.5 468.2V468.7M501.5 474.7V475.7" stroke="#0000ff" stroke-opacity="0.75" fill="none"/>
<path d="M231.5 468.7V475.2M232.5 468.7V476.7M233.5 467.2V476.2M234.5 469.7V474.7M235.5 469.2V475.2M236.5 469.2V475.2M237.5 467.2V475.7M238.5 466.2V477.7M239.5 467.2V475.2M240.5 468.7V475.7M241.5 469.7V475.7M242.5 468.2V475.7M243.5 467.7V475.2M244.5 469.2V474.7M245.5 469.2V475.2M246.5 467.7V474.2M247.5 468.2V475.7M248.5 469.2V476.2M249.5 468.2V476.2M250.5 468.2V474.7M251.5 468.2V476.2M252.5 467.7V475.7M253.5 469.2V474.7M254.5 468.2V474.7M255.5 468.2V474.7M256.5 468.7V475.7M257.5 468.7V475.7M258.5 468.2V475.7M259.5 469.2V475.7M260.5 469.2V475.7M261.5 468.2V475.2M262.5 468.7V475.2M263.5 468.7V475.7M264.5 469.2V476.2M265.5 469.2V475.7M266.5 468.2V474.7M267.5 469.2V475.2M268.5 467.7V474.7M269.5 468.2V475.7M270.5 468.7V476.2M271.5 468.2V477.2M272.5 467.7V475.7M273.5 468.2V474.7M274.5 467.2V476.7M275.5 467.7V475.2M276.5 468.2V476.2M277.5 468.7V475.7M278.5 469.2V477.2M279.5 468.7V476.7M280.5 466.7V476.2M281.5 468.2V475.2M282.5 468.7V475.2M283.5 468.2V475.7M284.5 469.7V477.2M285.5 469.7V474.7M286.5 468.7V477.2M287.5 469.2V476.2M288.5 468.7V476.2M289.5 466.2V474.7M290.5 469.2V474.7M291.5 469.2V475.2M292.5 468.7V475.7M293.5 468.2V479.7M294.5 467.7V474.7M295.5 468.7V475.2M296.5 467.7V475.7M297.5 468.2V475.2M298.5 467.7V476.7M299.5 468.7V475.7M300.5 468.7V475.7M301.5 468.2V474.7M302.5 468.7V475.7M303.5 468.7V475.7M304.5 469.2V476.7M305.5 468.2V475.7M306.5 468.2V474.7M307.5 468.7V474.7M308.5 468.2V475.2M309.5 468.7V475.2M310.5 469.2V475.7M311.5 468.7V475.7M312.5 469.2V475.2M313.5 468.2V476.7M314.5 469.2V474.7M315.5 468.7V476.2M316.5 468.7V474.7M317.5 468.2V474.7M318.5 468.7V475.7M319.5 468.7V475.7M320.5 468.7V474.7M321.5 469.2V475.2M322.5 468.7V475.2M323.5 469.2V474.2M324.5 468.7V475.2M325.5 468.7V476.2M326.5 468.2V474.7M327.5 469.7V475.7M328.5 469.2V475.2M329.5 468.7V475.2M330.5 469.2V476.2M331.5 469.2V475.2M332.5 467.7V475.2M333.5 467.2V476.7M334.5 469.2V474.7M335.5 468.7V476.7M336.5 468.7V475.7M337.5 469.2V475.7M338.5 469.2V474.7M339.5 469.2V477.7M340.5 468.7V475.7M341.5 468.7V475.7M342.5 469.2V474.7M343.5 469.2V476.7M344.5 468.7V475.2M345.5 467.7V475.2M346.5 469.7V476.2M347.5 467.2V476.2M348.5 468.7V474.7M349.5 466.7V475.2M350.5 468.7V475.2M351.5 468.2V474.7M352.5 468.7V475.2M353.5 468.2V475.2M354.5 468.7V475.2M355.5 467.7V475.7M356.5 468.7V475.2M357.5 469.2V474.7M358.5 468.7V474.7M359.5 468.2V476.7M360.5 468.7V475.7M361.5 468.7V475.7M362.5 468.7V475.2M363.5 469.2V475.2M364.5 467.7V475.2M365.5 469.2V475.2M366.5 469.2V476.7M367.5 469.2V477.2M368.5 469.2V474.7M369.5 467.7V475.7M370.5 465.7V474.2M371.5 469.2V477.2M372.5 466.7V474.2M373.5 469.2V474.7M374.5 468.7V475.2M375.5 468.7V475.7M376.5 466.7V475.2M377.5 468.2V475.7M378.5 468.7V477.2M379.5 467.7V475.2M380.5 469.2V475.2M381.5 469.2V476.2M382.5 469.7V478.2M383.5 468.7V475.7M384.5 468.7V474.7M385.5 469.2V476.2M386.5 467.7V475.7M387.5 468.2V475.7M388.5 467.7V475.2M389.5 468.7V477.7M390.5 469.2V474.7M391.5 467.7V474.7M392.5 468.2V474.7M393.5 468.2V474.7M394.5 468.2V475.7M395.5 466.7V475.2M396.5 468.2V474.7M397.5 469.2V474.2M398.5 468.7V475.2M399.5 468.2V475.7M400.5 469.2V474.2M401.5 469.7V474.7M402.5 468.2V474.2M403.5 468.7V475.7M404.5 468.7V477.7M405.5 468.2V474.2M406.5 468.7V478.2M407.5 469.2V474.7M408.5 467.7V475.7M409.5 467.2V477.2M410.5 468.7V473.7M411.5 469.2V475.2M412.5 468.7V475.2M413.5 469.2V475.2M414.5 468.7V474.2M415.5 468.2V474.7M416.5 469.2V475.7M417.5 469.2V475.2M418.5 469.2V474.2M419.5 468.7V474.2M420.5 468.7V475.2M421.5 469.2V474.7M422.5 469.2V475.7M423.5 469.2V475.2M424.5 467.7V474.2M425.5 468.7V475.7M426.5 469.2V475.2M427.5 469.2V475.7M428.5 468.7V476.7M429.5 467.2V475.2M430.5 467.2V475.7M431.5 468.7V475.2M432.5 468.7V477.2M433.5 468.7V474.2M434.5 468.2V475.7M435.5 469.2V475.2M436.5 468.2V475.7M437.5 467.2V476.2M438.5 467.7V475.7M439.5 469.2V475.7M440.5 467.2V475.2M441.5 468.2V475.7M442.5 468.2V477.2M443.5 467.7V474.7M444.5 469.2V475.2M445.5 469.2V474.2M446.5 469.2V476.2M447.5 468.2V475.2M448.5 469.2V475.7M449.5 468.7V477.7M450.5 469.2V475.7M451.5 469.2V474.2M452.5 468.7V476.2M453.5 468.2V476.7M454.5 468.7V474.2M455.5 469.2V475.7M456.5 467.7V475.7M457.5 469.7V475.2M458.5 469.7V476.2M459.5 469.2V476.2M460.5 469.2V474.2M461.5 468.7V475.7M462.5 467.2V476.7M463.5 468.2V477.7M464.5 469.2V475.2M465.5 467.7V475.7M466.5 468.7V475.2M467.5 469.7V475.2M468.5 467.7V475.7M469.5 467.2V475.7M470.5 467.7V476.2M471.5 468.2V476.2M472.5 466.2V475.2M473.5 469.2V474.7M474.5 468.7V476.7M475.5 468.7V475.7M476.5 467.7V475.7M477.5 466.7V476.7M478.5 467.2V474.7M479.5 468.7V475.2M480.5 468.2V476.2M481.5 468.7V477.2M482.5 468.2V475.2M483.5 469.2V475.2M484.5 468.2V475.7M485.5 469.2V476.2M486.5 467.2V474.7M487.5 469.2V475.2M488.5 467.7V476.2M489.5 468.2V474.7M490.5 469.2V475.7M491.5 469.2V475.2M492.5 469.2V476.2M493.5 469.2V475.2M494.5 468.2V476.2M495.5 468.2V475.2M496.5 468.7V476.2M497.5 468.2V475.2M498.5 469.2V475.2M499.5 468.7V475.2M500.5 466.7V475.7M501.5 468.7V474.7" stroke="#0000ff" stroke-opacity="1.0" fill="none"/>
<text x="227.9" y="446.3" font-size="6.7" text-anchor="end" class="t">2</text>
<text x="227.9" y="474.6" font-size="6.7" text-anchor="end" class="t">0</text>
<text x="227.9" y="503.8" font-size="6.7" text-anchor="end" class="t">-2</text>
<text x="231.1" y="510.4" font-size="6.7" text-anchor="middle" class="t">0</text>
<text x="276.48" y="510.4" font-size="6.7" text-anchor="middle" class="t">50</text>
<text x="321.87" y="510.4" font-size="6.7" text-anchor="middle" class="t">100</text>
<text x="367.25" y="510.4" font-size="6.7" text-anchor="middle" class="t">150</text>
<text x="412.63" y="510.4" font-size="6.7" text-anchor="middle" class="t">200</text>
<text x="458.02" y="510.4" font-size="6.7" text-anchor="middle" class="t">250</text>
<text x="503.4" y="510.4" font-size="6.7" text-anchor="middle" class="t">300</text>
<rect x="429.2" y="447.9" width="67.3" height="10.3" fill="#fff" stroke="#555555" stroke-width="0.8"/>
<path d="M431.8 453.5H456.8" stroke="#0000ff" stroke-width="0.8"/>
<text x="494.2" y="455.75" font-size="6.75" text-anchor="end" class="t">SF-RFI, PB</text>
<text x="366.65" y="519.6" font-size="7.9" text-anchor="middle" class="t">Time (s)</text>
<text transform="translate(208.2 392.9) rotate(-90)" font-size="8.27" text-anchor="middle" class="t">PLL Discriminator Output (rad)</text>
<text x="172.4" y="262.7" class="cap" text-anchor="middle">(a)</text>
<text x="548.3" y="262.7" class="cap" text-anchor="middle">(b)</text>
<text x="360.4" y="546.4" class="cap" text-anchor="middle">(c)</text>
</g></svg></div>
</body></html>
